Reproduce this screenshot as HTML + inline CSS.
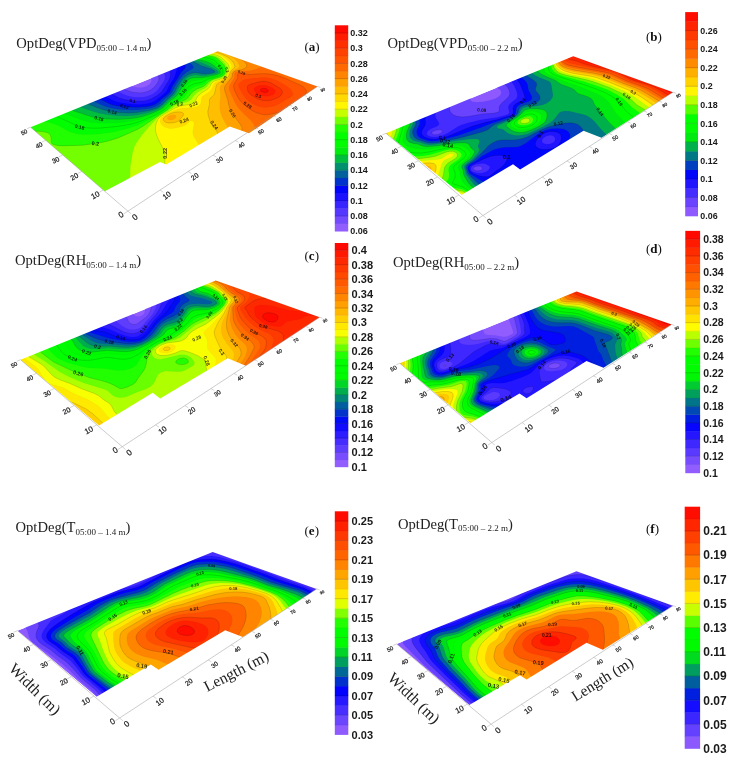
<!DOCTYPE html>
<html lang="en"><head><meta charset="utf-8"><title>OptDeg contour maps</title>
<style>
html,body{margin:0;padding:0;background:#fff}
svg{display:block}
text{font-family:"Liberation Sans","DejaVu Sans",sans-serif;fill:#111}
.ti{font-family:"Liberation Serif","DejaVu Serif",serif;font-size:14.6px;fill:#222}
.le{font-family:"Liberation Serif","DejaVu Serif",serif;font-size:13px;fill:#111}
.ax{font-family:"Liberation Serif","DejaVu Serif",serif;fill:#222}
.cbl{font-weight:bold;fill:#1a1a1a}
.tk{fill:#222;stroke:#222;stroke-width:.22}
.cl{font-weight:bold;fill:#000;fill-opacity:.8}
.k{stroke:#000;stroke-opacity:.4;stroke-width:.35;fill-rule:evenodd}
.j{stroke:#000;stroke-opacity:.1;stroke-width:.3;fill-rule:evenodd}
</style></head><body>
<svg width="738" height="767" viewBox="0 0 738 767">
<rect width="738" height="767" fill="#fff"/>
<g>
<polygon points="104.8,191.2 30.6,127.2 217.7,51.3 317.5,86.4 249.0,133.3 229.7,126.5 166.2,164.6 160.0,162.0" fill="#915dff"/>
<path d="M125.4 225.4l147.7-101 55.5-38 -111.6-38.5 -68.6 27.2 1.7 1.5 1.1 1.7 0.4 1.3 0 1.5 -0.8 1.7 -1 1.3 -2.3 1.7 -1.9 0.9 -4.5 1 -5-0.2 -4.4-1.3 -4.9-2.5 -109.7 43.5Z" fill="#744aff" class="j"/>
<path d="M125.4 225.4l147.7-101 55.5-38 -111.6-38.5 -61.2 24.3 1.7 2.1 1.3 2.9 0.2 1.8 -0.6 2.3 -1.8 3 -3.1 3.5 -3 2.3 -3 1.4 -3.7 1 -3.2 0.4 -6.5-0.4 -3.3-0.8 -3.8-1.3 -7.7-3.7 -102.2 40.5Z" fill="#5637ff" class="k"/>
<path d="M125.4 225.4l147.7-101 55.5-38 -111.6-38.5 -54.7 21.7 1.7 2.8 1 3.2 -0.1 3 -1.1 2.6 -2.1 3.4 -5.1 6.7 -3.1 2.3 -4 1.9 -3.7 1.2 -4.6 0.6 -5.3 0 -4.6-0.6 -3.8-0.9 -4.3-1.5 -10.3-5.1 -95.8 38Z" fill="#3824ff" class="j"/>
<path d="M125.4 225.4l147.7-101 55.5-38 -111.6-38.5 -48.3 19.2 1.2 2.2 0.6 5.4 -0.5 3.2 -1.4 2.9 -7 11.1 -4.4 3.6 -6.6 3.7 -5.1 1.5 -4.7 0.5 -5.7-0.1 -7.8-1 -4-0.8 -4.4-1.5 -12.1-6.2 -89.7 35.6Z" fill="#1b11ff" class="k"/>
<path d="M125.4 225.4l147.7-101 55.5-38 -111.6-38.5 -41.8 16.6 1.6 1.4 0.6 1.8 -2.4 8.1 -1.2 2.7 -4.9 7.8 -2.4 5.2 -3.2 3.1 -8 6.1 -4 2.1 -5.7 1.3 -6.1 0.4 -7.5-0.3 -9.6-1.1 -4.3-0.9 -4.3-1.4 -13.1-6.8 -83.6 33.2Z" fill="#0005fa" class="j"/>
<path d="M125.4 225.4l147.7-101 55.5-38 -111.6-38.5 -36.7 14.6 2.5 1 1.9 1.2 0.8 1.6 -0.6 1.7 -4.6 5.5 -2.9 4.9 -4.3 6.3 -1.2 2.1 -1.5 3.8 -0.8 1.4 -2.5 2.6 -5.4 4.2 -3.8 3.8 -2.3 1.4 -2.2 1 -6.1 1.6 -9.9 0.7 -7.9-0.2 -11.6-1.2 -4.3-0.8 -3.5-1.1 -15.5-7.6 -77.5 30.8Z" fill="#0033cb" class="k"/>
<path d="M125.4 225.4l147.7-101 55.5-38 -111.6-38.5 -32.9 13.1 4.4 1.5 2.8 1.5 1.9 2.1 0.4 1.1 -0.3 1 -1.1 0.9 -5.8 3.3 -3.5 3 -4.7 5.8 -3.7 6 -2 4.4 -1.5 2.1 -2 1.9 -4.5 3.7 -3.9 4.2 -2.6 1.8 -3.2 1.6 -5.5 1.5 -11.9 1.5 -8.2 0.2 -9.2-0.7 -7.6-1.1 -5.2-1.3 -5.4-2.1 -13.4-6 -71.3 28.3Z" fill="#00619c" class="j"/>
<path d="M125.4 225.4l147.7-101 55.5-38 -111.6-38.5 -29.8 11.9 6.3 2 8.1 4.2 9.6 3.1 3 1.7 0.6 0.6 0 0.7 -2.5 1 -6.8 0.9 -3.1-0.2 -6.2-1.1 -2.2 0 -3.4 0.7 -3.2 1.7 -3.3 2.3 -2.1 2.3 -5.1 7.7 -2.6 5.1 -2.2 2.7 -5.2 4.3 -4.5 4.9 -3.5 2.5 -3.3 1.6 -6.8 2 -12.4 2.1 -8.3 0.4 -8.7-0.4 -9.6-1.3 -5.5-1.3 -8.1-2.7 -14.6-5.7 -64.5 25.6Z" fill="#00906d" class="k"/>
<path d="M125.4 225.4l147.7-101 55.5-38 -111.6-38.5 -27.3 10.9 11.7 3.8 9.3 3.8 6.4 3.9 1 1.1 0.3 0.7 -0.1 0.6 -1.4 0.9 -2.2 0.5 -9.6 1.6 -3.6 0.1 -5.2-0.7 -2.3 0.1 -3.8 1.1 -3.3 1.6 -1.4 1 -1.3 1.4 -5.4 8 -2.8 5 -2.2 2.7 -5.4 4.3 -3.2 3.5 -3.8 3.3 -1.9 1.2 -4.6 2.1 -5 1.8 -4.8 1.3 -9.1 1.7 -9.1 0.8 -10.3-0.2 -10.3-1.2 -7.2-1.4 -9.8-3 -15.4-5.5 -56.8 22.5Z" fill="#00be3d" class="j"/>
<path d="M125.4 225.4l147.7-101 55.5-38 -111.6-38.5 -24.9 9.9 5.4 1.7 8.3 1.9 4.9 2.1 3.3 2.2 4.7 3.9 1 1.1 0.6 1.3 -0.1 0.8 -0.4 0.5 -1.5 0.8 -1.9 0.7 -10.8 2.3 -3.3 0.5 -8.7 0.1 -2.3 0.6 -2.7 1.1 -1.3 1 -5.3 6.8 -4.7 7.7 -1.8 1.9 -6.4 4.8 -6.3 6.3 -4.1 2.3 -6.9 3.1 -9.6 3.1 -6.1 1.3 -5.3 0.8 -11 0.8 -12.4-0.3 -8.9-0.9 -7.3-1.5 -17.8-5.9 -7.4-2.9 -48.9 19.4Z" fill="#00ec0e" class="k"/>
<path d="M125.4 225.4l147.7-101 55.5-38 -111.6-38.5 -22.5 9 4.7 1.2 8.7 1.7 2.7 1 1.4 0.7 4.1 3.2 4.5 4.8 0.7 1.2 0.4 1.4 -0.2 0.9 -0.6 0.8 -3.2 1.5 -15.5 4.2 -7.6 1 -2.3 0.6 -1.7 0.8 -2.6 2.1 -3.5 3.5 -2.9 3.9 -2 3.7 -1.7 2 -7.6 5.1 -6.4 6.3 -8.2 4.7 -3.4 1.6 -13.1 4.6 -10 2.2 -7.5 0.8 -7.6 0.5 -15.7 0.1 -7.3-0.7 -7.3-1.6 -25.7-9.8 -41 16.3Z" fill="#00fc00" class="j"/>
<path d="M125.4 225.4l147.7-101 55.5-38 -111.6-38.5 -20.1 8 12.6 2.6 4.3 1.6 5.3 4.8 3 3.9 0.7 2 0.1 1.6 -0.3 0.9 -0.7 0.9 -3 1.6 -11.3 3.3 -6.5 3.4 -6.6 1.1 -2.9 1.2 -3 2 -1.9 1.7 -3.1 3.9 -1.4 3 -1.7 2 -2.4 1.7 -7.4 4.4 -5.7 5.6 -10.1 6 -14.9 6.4 -8.9 2.6 -13.3 2.3 -16.9 1.6 -7.2 0.2 -6.2-0.3 -5.3-0.6 -4.3-1.1 -18.9-8.8 -4.8-1.5 -5.5-1.2 -31.6 12.5Z" fill="#00fe00" class="k"/>
<path d="M125.4 225.4l147.7-101 55.5-38 -111.6-38.5 -17.8 7.1 12.5 2.6 2.6 0.9 1.9 1.2 4.6 4.4 2.5 3.4 0.7 2 0.2 2.3 -0.5 1.7 -0.8 1.1 -1.3 0.9 -2.4 1.1 -7.3 2.1 -2.8 1.1 -2.2 1.3 -2.3 2.1 -2.5 1.3 -6.8 2 -2.8 1.2 -2.3 1.5 -1.8 1.9 -1.5 1.9 -2.2 3.6 -2 1.9 -10.8 5.6 -1.6 1.2 -2.6 3 -1.7 1.3 -8.8 5.6 -15.9 8.4 -3.9 1.7 -10.4 3.3 -13.8 3.3 -12.7 1.9 -11.5 0.8 -8.6-0.3 -6.6-1.2 -5-1.9 -8.9-5 -6.6-2.8 -6.8-1.8 -8.4-1.1 -3.3-0.3 -17.7 7Z" fill="#21ff00" class="j"/>
<path d="M125.4 225.4l147.7-101 55.5-38 -111.6-38.5 -15.5 6.2 13.1 3 2.7 1.5 4.2 3.8 2.8 3.1 1 2.6 0.2 2.3 -0.2 1.7 -0.6 1.8 -0.8 1.1 -1.2 0.9 -2.3 1.2 -7.2 2.1 -2.7 1.2 -1.4 0.9 -3.3 3.3 -1.9 1.5 -1.7 0.9 -5.1 1.9 -3.3 2 -3.1 3 -3 4.1 -1.4 1.3 -3 1.4 -6.9 2.6 -3.1 1.5 -1.7 1.2 -3.6 3.6 -12.8 8.1 -13.1 9.1 -4.8 2.7 -13.5 6 -5.8 2.4 -6.4 2.1 -5.1 1.4 -7.5 1.5 -15.9 2.3 -20.8 0.7 -6.1-0.6 -2.9-0.9 -1-0.6 -0.7-0.8 -0.2-0.9 -0.4-5.1 -0.6-1.8 -1.1-1.5 -2.1-1.1 -4.5-1 -5.2-0.4 -15.9 0.1Z" fill="#73ff00" class="k"/>
<path d="M125.4 225.4l147.7-101 55.5-38 -111.6-38.5 -13.3 5.3 9.9 2.3 3.5 1.2 2.5 1.6 4.2 3.8 2.3 2.6 1 2.6 -0.1 2.4 -1.1 4 -1 1.7 -2.5 1.8 -2.6 1.1 -6.3 1.8 -2.3 1.3 -5 5.8 -1.4 1 -5.4 2.7 -4.1 3.3 -1.8 1.9 -2.5 3.5 -1.5 1.2 -2 1 -9 2.5 -3.4 1.4 -6 4.5 -6 3.5 -5.7 4 -6.6 6.8 -8.6 10.2 -4.9 6.7 -2.7 4.7 -2 6.3 -2.3 14.1 -0.2 9.3 -0.9 3.5 -6 15.4 -9.6 20.1Z" fill="#c6ff00" class="j"/>
<path d="M166.3 197.4l155.3-106.2 7-4.8 -111.6-38.5 -11 4.4 9.4 2.5 4.1 1.5 2.5 1.7 5.2 4.8 1.5 2.2 0.6 2.1 -0.3 1.7 -2.6 6.5 -1.5 1.5 -2.1 1.3 -2.6 1.1 -5.2 1.6 -2.2 1.3 -1.5 1.6 -1.7 3.3 -1.6 1.8 -6.3 4 -3.4 2.9 -1.1 1.4 -2.3 4.4 -1.2 1.4 -0.9 0.5 -2.5 0.8 -10.5 1.9 -4.6 1.8 -10.1 5.8 -5.7 3.9 -1.8 2.3 -1.6 4.2 -0.5 2.5 -0.1 2.4 0.2 2.3 0.8 3.2 2.1 5.2 4.8 9.5 1.4 4.9 0.1 7.1 -0.4 11.9Z" fill="#fff600" class="k"/>
<path d="M198.4 175.5l123.2-84.3 7-4.8 -111.6-38.5 -8.8 3.5 9.9 2.9 4 1.6 3 2.1 4.7 4.3 1.5 2.3 0.4 2.2 -0.6 1.8 -1.9 3 -1.7 4.1 -1.3 1.6 -2 1.3 -8.1 3.4 -2 1.4 -0.7 1.1 -1.2 3.6 -1.8 2.6 -1.9 1.7 -6.3 4.2 -0.7 1.5 -0.3 3.6 -0.5 1.7 -0.9 1.5 -1.5 1.2 -2.1 1 -2.8 0.7 -11.3 0.5 -3.1 0.6 -3.8 1.2 -6.9 3 -5.9 3.8 -1.6 1.5 -0.5 1.3 -0.2 1.2 0.9 2.9 2.1 2.4 3.6 1.6 2.7 0.6 2.5 0.1 5.5-0.7 5.9-1.7 2.4-1.1 1.9-1.4 2.2-2.4 1.2-0.5 1.6 0.4 0.9 0.7 0.6 2.1 -1.3 7.5 0.3 3.3 1.1 2.6 4.3 6.8 0.9 2.5 0.2 1.4 -0.2 3.4 -1.3 6.7 -0.5 4.4 0 6.3Z" fill="#ffda00" class="j"/>
<path d="M221.2 159.9l0.1-0.1 107.3-73.4 -111.6-38.5 -6.5 2.6 11.2 3.6 5.1 2.5 3 2.2 2.6 2.4 1.5 2.2 1 2.6 -0.1 0.8 -0.5 1.1 -2.8 2.6 -1.2 1.5 -1.2 3.6 -1.6 2.2 -2.4 1.9 -6.4 3.3 -1.9 1.5 -0.6 1.4 -1.8 8.3 -1 1.3 -3.4 2.9 -0.6 1.5 0 4.7 -1.6 7 0.3 3.4 2.6 8.3 1.9 2.7 3.8 4.5 0.9 1.8 1.1 11.9ZM174.3 122.6l3.1-1 2-1.3 3.8-4.8 0.5-1.2 -0.3-0.9 -0.7-0.7 -2.8-0.8 -4.8 0.3 -2.9 0.7 -2.5 1 -3.1 1.8 -2.7 2.1 -0.5 0.9 0.1 1.6 0.6 0.8 1.9 1.3 3.2 0.6Z" fill="#ffbe00" class="k"/>
<path d="M235.1 150.4l86.5-59.2 7-4.8 -111.6-38.5 -4 1.6 12.5 4.3 5.8 2.9 3.1 2.1 2.3 2 1.5 2.2 1.1 2.5 -0.1 1.6 -0.8 1 -4.9 2.5 -1.6 1.4 -0.8 1.4 -0.7 2.8 -0.9 1.7 -2 2.1 -6.2 4.9 -0.9 1.2 -0.4 2.2 0.7 7.8 -0.8 6.8 -0.1 3.3 0.6 5.4 0.9 3.1 1.7 4 5.6 9.8 1 2.3 2.5 11.8ZM170.7 119.9l2.7-0.5 2-1.3 0.5-0.9 0.1-1.1 -0.7-0.8 -1.3-0.4 -2.1 0.2 -2.6 0.9 -1.2 0.8 -0.9 1.6 0.6 0.8 1.1 0.5Z" fill="#ffa200" class="j"/>
<path d="M245.4 143.3l76.2-52.1 7-4.8 -111.6-38.5 -1.3 0.5 13.2 4.7 6.8 3.1 4.4 2.4 3.3 2.3 2.1 1.9 1.1 1.7 0.2 1.1 -0.3 1.1 -1.9 1.8 -3.2 1.3 -5.5 1.1 -1.6 0.7 -1.2 0.9 -0.5 1 -0.3 2.7 -0.7 1.8 -6 7.2 -0.7 1.2 -0.4 1.9 0.4 2.9 3 9 1 5.5 1.4 3.9 2.5 4.6 7.4 10 1.7 3.1 0.1 1.3 -0.7 4.2 0.2 2.4 1.2 3.6Z" fill="#ff8500" class="k"/>
<path d="M255.9 136.1l65.7-44.9 7-4.8 -75.1-25.9 3.9 2 2.7 2 0.7 1.4 0 0.6 -0.7 0.9 -2.7 1.4 -5.8 1.6 -4.9 0.7 -8.5 0.6 -3 0.9 -0.7 1.1 0 2.7 -0.4 1.9 -3.3 4.9 -1.4 2.8 -0.4 1.8 0.5 2.7 3.3 7.5 2.6 5.2 2.1 3.5 4 4.8 9.2 8.8 2.9 3.8 0.9 1.9 0.4 2.4 -0.5 4.1 0.1 1.2 0.6 1.4Z" fill="#ff6900" class="j"/>
<path d="M297.4 102.3l3.5-1.5 2.3-2.1 1.5-3.9 1.6-2.3 0.1-1.3 -0.7-2 -2.2-2.2 -3.9-2.2 -15.5-6.9 -6.5-2.3 -5-1.1 -5.7-0.7 -5-0.1 -12 0.8 -7.4-1.1 -3.5 0 -0.9 0.3 -0.4 0.5 -0.1 4.1 -3.8 6.2 -0.2 2.9 1.1 3.4 3.7 7.4 3 3.9 3.7 3.7 5.7 4 4.4 2.4 5.4 1.9 4.1 0.7 3.6-0.2 12.6-2.8 3.2-1.3 1.7-1.1 2.8-3.9 1.1-0.8 2.5-1Z" fill="#ff5500" class="k"/>
<path d="M277.6 104.6l12.5-7.2 1.9-1.5 0.8-1.2 0-1.5 -0.5-1.5 -1.7-2.5 -4-3.3 -5.4-3.2 -5.9-2.8 -4.5-1.5 -4-0.8 -4.8-0.2 -16.4 1.9 -3.4 1.5 -3.4 3 -0.4 1.3 0.7 2.4 2.7 5.2 2.8 4.3 3.3 3.7 5.8 3.6 6.1 2.5 4.8 0.6 6.5-0.7 3.8-1Z" fill="#ff4200" class="j"/>
<path d="M274.2 99.2l4.2-1.8 2.1-1.5 1.7-2.3 0.1-2.2 -1-1.9 -1.8-1.6 -8.2-4.8 -3.3-1.2 -2.6-0.6 -3.8 0 -3.5 0.8 -8.4 2.4 -1.5 0.9 -0.8 1.1 0.3 4 1.6 2.8 2.3 1.9 5.8 3.5 3.6 1.3 4.7 0.8 4.4-0.4Z" fill="#ff2f00" class="k"/>
<path d="M270.1 95.8l2.3-0.8 1.5-0.9 1-1.1 0.4-1.4 -0.3-1 -1.1-1.5 -3.6-2.3 -2.2-0.9 -2.6-0.6 -3.5-0.1 -2.6 0.4 -2.8 0.9 -1.5 0.9 -0.9 1.1 -0.2 1.4 0.8 1.9 1.9 1.6 2 1.1 2.3 0.9 2.8 0.6 3.7 0.2Z" fill="#ff1c00" class="j"/>
<path d="M266.2 92.4l1.7-0.7 0.4-0.6 -0.2-0.9 -1.5-1.3 -1.2-0.4 -2.2-0.1 -1.3 0.2 -1.3 0.9 -0.2 0.8 0.5 0.8 0.8 0.6 2.5 0.7Z" fill="#ff0900" class="k"/>
<path fill="#fff" fill-rule="evenodd" d="M15.1 45.9H330.6V227.4H15.1ZM104.8 191.2L30.6 127.2L217.7 51.3L317.5 86.4L249.0 133.3L229.7 126.5L166.2 164.6L160.0 162.0 Z"/>
<text transform="translate(132.5 100.8) rotate(10)" y="1.6" font-size="4.5" text-anchor="middle" class="cl">0.1</text>
<text transform="translate(124.4 106.3) rotate(15)" y="1.7" font-size="4.6" text-anchor="middle" class="cl">0.12</text>
<text transform="translate(112.2 111.8) rotate(15)" y="1.7" font-size="4.7" text-anchor="middle" class="cl">0.14</text>
<text transform="translate(99.0 118.5) rotate(15)" y="1.7" font-size="4.9" text-anchor="middle" class="cl">0.16</text>
<text transform="translate(79.7 127.0) rotate(15)" y="1.8" font-size="5.0" text-anchor="middle" class="cl">0.18</text>
<text transform="translate(95.3 143.5) rotate(5)" y="1.9" font-size="5.4" text-anchor="middle" class="cl">0.2</text>
<text transform="translate(184.1 83.2) rotate(-50)" y="1.5" font-size="4.1" text-anchor="middle" class="cl">0.16</text>
<text transform="translate(182.9 92.3) rotate(-45)" y="1.5" font-size="4.3" text-anchor="middle" class="cl">0.18</text>
<text transform="translate(174.4 102.7) rotate(-25)" y="1.6" font-size="4.5" text-anchor="middle" class="cl">0.18</text>
<text transform="translate(179.9 104.1) rotate(-15)" y="1.6" font-size="4.5" text-anchor="middle" class="cl">0.2</text>
<text transform="translate(193.5 104.3) rotate(-25)" y="1.6" font-size="4.6" text-anchor="middle" class="cl">0.22</text>
<text transform="translate(184.0 120.5) rotate(-20)" y="1.8" font-size="4.9" text-anchor="middle" class="cl">0.24</text>
<text transform="translate(165.0 153.3) rotate(-90)" y="2.0" font-size="5.6" text-anchor="middle" class="cl">0.22</text>
<text transform="translate(214.2 125.0) rotate(55)" y="1.8" font-size="5.0" text-anchor="middle" class="cl">0.24</text>
<text transform="translate(232.5 113.3) rotate(60)" y="1.7" font-size="4.7" text-anchor="middle" class="cl">0.26</text>
<text transform="translate(247.5 105.0) rotate(35)" y="1.6" font-size="4.6" text-anchor="middle" class="cl">0.28</text>
<text transform="translate(258.3 95.8) rotate(20)" y="1.6" font-size="4.4" text-anchor="middle" class="cl">0.3</text>
<text transform="translate(220.2 67.0) rotate(55)" y="1.4" font-size="3.8" text-anchor="middle" class="cl">0.2</text>
<text transform="translate(227.0 70.0) rotate(75)" y="1.4" font-size="3.8" text-anchor="middle" class="cl">0.2</text>
<text transform="translate(224.0 79.4) rotate(-60)" y="1.4" font-size="4.0" text-anchor="middle" class="cl">0.26</text>
<text transform="translate(241.5 72.5) rotate(25)" y="1.4" font-size="3.9" text-anchor="middle" class="cl">0.28</text>
</g>
<path d="M30.6 127.2L127.9 211.2L317.5 86.4" fill="none" stroke="#999" stroke-width="0.5"/>
<path d="M127.9 211.2L131.1 213.9" stroke="#aaa" stroke-width="0.5"/>
<text transform="translate(134.7 217.0) rotate(-38)" y="3.0" font-size="8.3" text-anchor="middle" class="tk">0</text>
<path d="M160.0 190.0L163.3 192.4" stroke="#aaa" stroke-width="0.5"/>
<text transform="translate(166.6 195.4) rotate(-37)" y="2.7" font-size="7.5" text-anchor="middle" class="tk">10</text>
<path d="M188.2 171.5L191.5 173.6" stroke="#aaa" stroke-width="0.5"/>
<text transform="translate(194.7 176.5) rotate(-36)" y="2.5" font-size="6.8" text-anchor="middle" class="tk">20</text>
<path d="M213.1 155.1L216.4 157.0" stroke="#aaa" stroke-width="0.5"/>
<text transform="translate(219.4 159.8) rotate(-35)" y="2.2" font-size="6.2" text-anchor="middle" class="tk">30</text>
<path d="M235.3 140.5L238.5 142.2" stroke="#aaa" stroke-width="0.5"/>
<text transform="translate(241.4 144.9) rotate(-34)" y="2.1" font-size="5.7" text-anchor="middle" class="tk">40</text>
<path d="M255.2 127.4L258.3 128.9" stroke="#aaa" stroke-width="0.5"/>
<text transform="translate(261.1 131.6) rotate(-32)" y="1.9" font-size="5.3" text-anchor="middle" class="tk">50</text>
<path d="M273.1 115.6L276.2 117.0" stroke="#aaa" stroke-width="0.5"/>
<text transform="translate(278.8 119.6) rotate(-31)" y="1.8" font-size="4.9" text-anchor="middle" class="tk">60</text>
<path d="M289.3 105.0L292.3 106.2" stroke="#aaa" stroke-width="0.5"/>
<text transform="translate(294.9 108.7) rotate(-30)" y="1.6" font-size="4.6" text-anchor="middle" class="tk">70</text>
<path d="M304.0 95.3L307.0 96.4" stroke="#aaa" stroke-width="0.5"/>
<text transform="translate(309.5 98.8) rotate(-29)" y="1.5" font-size="4.3" text-anchor="middle" class="tk">80</text>
<path d="M317.5 86.4L320.4 87.4" stroke="#aaa" stroke-width="0.5"/>
<text transform="translate(322.8 89.8) rotate(-28)" y="1.4" font-size="4.0" text-anchor="middle" class="tk">90</text>
<path d="M127.9 211.2L123.7 213.9" stroke="#aaa" stroke-width="0.5"/>
<text transform="translate(120.8 214.6) rotate(-28)" y="3.0" font-size="8.3" text-anchor="middle" class="tk">0</text>
<path d="M103.3 190.0L99.2 192.4" stroke="#aaa" stroke-width="0.5"/>
<text transform="translate(95.3 195.1) rotate(-28)" y="2.8" font-size="7.7" text-anchor="middle" class="tk">10</text>
<path d="M81.8 171.4L77.8 173.5" stroke="#aaa" stroke-width="0.5"/>
<text transform="translate(74.2 176.5) rotate(-28)" y="2.6" font-size="7.1" text-anchor="middle" class="tk">20</text>
<path d="M62.7 155.0L58.9 156.8" stroke="#aaa" stroke-width="0.5"/>
<text transform="translate(55.6 160.0) rotate(-28)" y="2.4" font-size="6.6" text-anchor="middle" class="tk">30</text>
<path d="M45.8 140.3L42.0 142.0" stroke="#aaa" stroke-width="0.5"/>
<text transform="translate(39.0 145.3) rotate(-28)" y="2.2" font-size="6.2" text-anchor="middle" class="tk">40</text>
<path d="M30.6 127.2L26.9 128.7" stroke="#aaa" stroke-width="0.5"/>
<text transform="translate(24.1 132.1) rotate(-28)" y="2.1" font-size="5.8" text-anchor="middle" class="tk">50</text>
<rect x="334.8" y="223.57" width="13.4" height="7.93" fill="#915dff"/>
<rect x="334.8" y="215.95" width="13.4" height="7.93" fill="#744aff"/>
<rect x="334.8" y="208.32" width="13.4" height="7.93" fill="#5637ff"/>
<rect x="334.8" y="200.70" width="13.4" height="7.93" fill="#3824ff"/>
<rect x="334.8" y="193.07" width="13.4" height="7.93" fill="#1b11ff"/>
<rect x="334.8" y="185.44" width="13.4" height="7.93" fill="#0005fa"/>
<rect x="334.8" y="177.82" width="13.4" height="7.93" fill="#0033cb"/>
<rect x="334.8" y="170.19" width="13.4" height="7.93" fill="#00619c"/>
<rect x="334.8" y="162.57" width="13.4" height="7.93" fill="#00906d"/>
<rect x="334.8" y="154.94" width="13.4" height="7.93" fill="#00be3d"/>
<rect x="334.8" y="147.31" width="13.4" height="7.93" fill="#00ec0e"/>
<rect x="334.8" y="139.69" width="13.4" height="7.93" fill="#00fc00"/>
<rect x="334.8" y="132.06" width="13.4" height="7.93" fill="#00fe00"/>
<rect x="334.8" y="124.44" width="13.4" height="7.93" fill="#21ff00"/>
<rect x="334.8" y="116.81" width="13.4" height="7.93" fill="#73ff00"/>
<rect x="334.8" y="109.19" width="13.4" height="7.93" fill="#c6ff00"/>
<rect x="334.8" y="101.56" width="13.4" height="7.93" fill="#fff600"/>
<rect x="334.8" y="93.93" width="13.4" height="7.93" fill="#ffda00"/>
<rect x="334.8" y="86.31" width="13.4" height="7.93" fill="#ffbe00"/>
<rect x="334.8" y="78.68" width="13.4" height="7.93" fill="#ffa200"/>
<rect x="334.8" y="71.06" width="13.4" height="7.93" fill="#ff8500"/>
<rect x="334.8" y="63.43" width="13.4" height="7.93" fill="#ff6900"/>
<rect x="334.8" y="55.80" width="13.4" height="7.93" fill="#ff5500"/>
<rect x="334.8" y="48.18" width="13.4" height="7.93" fill="#ff4200"/>
<rect x="334.8" y="40.55" width="13.4" height="7.93" fill="#ff2f00"/>
<rect x="334.8" y="32.93" width="13.4" height="7.93" fill="#ff1c00"/>
<rect x="334.8" y="25.30" width="13.4" height="7.93" fill="#ff0900"/>
<path d="M334.8 215.95H348.2M334.8 200.70H348.2M334.8 185.44H348.2M334.8 170.19H348.2M334.8 154.94H348.2M334.8 139.69H348.2M334.8 124.44H348.2M334.8 109.19H348.2M334.8 93.93H348.2M334.8 78.68H348.2M334.8 63.43H348.2M334.8 48.18H348.2M334.8 32.93H348.2" stroke="#000" stroke-opacity="0.4" stroke-width="0.4"/>
<path d="M334.8 223.57H348.2M334.8 208.32H348.2M334.8 193.07H348.2M334.8 177.82H348.2M334.8 162.57H348.2M334.8 147.31H348.2M334.8 132.06H348.2M334.8 116.81H348.2M334.8 101.56H348.2M334.8 86.31H348.2M334.8 71.06H348.2M334.8 55.80H348.2M334.8 40.55H348.2" stroke="#000" stroke-opacity="0.12" stroke-width="0.4"/>
<text x="350.3" y="234.4" font-size="9.0" class="cbl">0.06</text>
<text x="350.3" y="219.2" font-size="9.0" class="cbl">0.08</text>
<text x="350.3" y="203.9" font-size="9.0" class="cbl">0.1</text>
<text x="350.3" y="188.7" font-size="9.0" class="cbl">0.12</text>
<text x="350.3" y="173.4" font-size="9.0" class="cbl">0.14</text>
<text x="350.3" y="158.2" font-size="9.0" class="cbl">0.16</text>
<text x="350.3" y="142.9" font-size="9.0" class="cbl">0.18</text>
<text x="350.3" y="127.7" font-size="9.0" class="cbl">0.2</text>
<text x="350.3" y="112.4" font-size="9.0" class="cbl">0.22</text>
<text x="350.3" y="97.2" font-size="9.0" class="cbl">0.24</text>
<text x="350.3" y="81.9" font-size="9.0" class="cbl">0.26</text>
<text x="350.3" y="66.7" font-size="9.0" class="cbl">0.28</text>
<text x="350.3" y="51.4" font-size="9.0" class="cbl">0.3</text>
<text x="350.3" y="36.2" font-size="9.0" class="cbl">0.32</text>
<text x="16.3" y="48.3" class="ti">OptDeg(VPD<tspan dy="2.7" font-size="9">05:00 – 1.4 m</tspan><tspan dy="-2.7">)</tspan></text>
<text x="304.5" y="50.5" class="le">(<tspan font-weight="bold">a</tspan>)</text>
<g>
<polygon points="461.8,194.7 386.0,133.3 573.2,56.3 673.0,92.2 601.5,137.8 583.5,130.8 520.1,169.4 513.0,164.3" fill="#8e5aff"/>
<path d="M480.6 229.1l131.7-88.6 71.9-48.3 -111.6-39.4 -82.1 33.1 3.7 0.7 2.8 1 2.8 1.9 1.3 1.8 0.3 1.5 -0.2 0.8 -1 1.8 -2.3 1.8 -2.8 1.6 -4.8 1.5 -7.2 1.4 -5.8 0.5 -4.8-0.5 -1.7-0.9 -0.4-0.6 0-1.3 0.5-1.3 3.6-5.3 -101.9 41Z" fill="#6943ff" class="j"/>
<path d="M480.6 229.1l131.7-88.6 71.9-48.3 -111.6-39.4 -71.8 28.9 3.5 2.2 3.2 3.2 1.7 3.1 0.6 3.4 -0.3 1.7 -1.4 2.2 -6.5 5.8 -1.6 1.9 -0.8 2.1 0.1 3.4 -0.5 0.9 -0.9 0.7 -4.3 1 -11.3 0.6 -14.2 2.7 -5.7 0.3 -4.2-0.4 -2.6-0.7 -2.1-0.9 -1.5-1.1 -1.6-1.9 -0.6-1.5 -0.3-2.4 0-3.3 0.4-2.5 -77.3 31.1ZM480.8 170.3l-1.9 0.5 -2.5 0 -2.5-1 -0.7-1.3 0.9-1.2 1.5-0.8 2.9-0.5 1.9 0.3 1.3 0.7 0.7 1 -0.3 1.4ZM436.9 134.7l-2.7 0 -1.4-0.3 -0.8-0.7 -0.2-1.1 0.9-1 2.6-1.3 3.6-0.6 1.9 0.1 1.2 0.5 0.5 0.7 -0.3 1.1 -0.9 0.9 -1.2 0.7Z" fill="#452cff" class="k"/>
<path d="M480.6 229.1l131.7-88.6 71.9-48.3 -111.6-39.4 -64.8 26.1 3.5 2.8 2.6 3.4 2.4 5.3 0.9 3.1 0.2 2 -0.3 1.7 -0.9 1.5 -5.3 4.3 -1.9 2.1 -0.6 1.7 -0.1 1.1 1 3.9 0 1.1 -0.5 0.9 -2.1 1.1 -10 2.5 -16.6 2.6 -12.3 2.9 -5.8 1.8 -4 1.7 -10.1 6.6 -5.3 2.6 -3.3 0.8 -3.8 0.6 -2.1 0 -2.8-0.3 -1.7-0.6 -1.7-1.2 -0.5-1.2 0.4-1.8 1.6-1.6 2.3-1.5 5.6-2.2 1.1-0.8 0.9-0.8 0.5-1.2 -0.4-1.6 -2.8-4.2 -0.7-2.4 0.3-2.6 1.8-5.7 -64.7 26ZM485.7 172.1l-3.7 1 -2.5 0.1 -3.3-0.4 -3.1-1.1 -1.1-0.8 -0.8-1 -0.4-1.3 0.6-1.5 1.1-1 3-1.5 5-1.1 2.7-0.1 1.9 0.3 2.7 1.2 2 1.7 -0.1 1.6 -1.4 2ZM549.7 144.1l-3.5 0.1 -1.7-0.4 -1.2-0.6 -0.9-0.9 -0.4-1 0.1-1.4 1.3-2 3.2-2 3.3-0.7 2.2 0.3 1.3 0.6 1.5 1.7 0.3 1.1 -0.2 1.5 -0.6 1.1 -1.8 1.6Z" fill="#2115ff" class="j"/>
<path d="M480.6 229.1l131.7-88.6 71.9-48.3 -111.6-39.4 -59.3 23.9 3.6 2.8 3 3.9 4.5 11.7 0.4 2.2 -0.6 1.6 -1.2 1.3 -6 2.9 -1.7 1.2 -1.4 1.3 -1 2.6 0.3 3.9 -0.2 1.7 -0.5 0.8 -2.2 1.1 -12.8 3.9 -11.6 2.7 -13.1 3.8 -7 2.6 -13.5 5.8 -8.9 3.3 -7.2 1.2 -4.6 0.1 -3.4-0.6 -3.6-1.5 -2.4-1.9 -0.7-1.9 0.1-1.6 0.5-1.3 2.4-3.9 0.8-1.7 0.2-2.4 -0.3-3.4 0.2-1.7 2.3-6.1 -55.1 22.2ZM489 176.4l-2 0.4 -4.4-0.2 -5.5-1.3 -3.1-1.2 -2.5-1.5 -1.7-1.9 -0.5-1.4 0-1.9 0.8-1.3 1.1-1 2.9-1.6 10.8-5.1 6.1-2.1 4-0.8 5.4-0.2 3.7 0.6 1.4 0.6 1 0.8 0.5 1.1 -0.3 1.9 -1.2 2.5 -1.7 2.3 -3.3 2.9 -5.2 3.6 -4.7 4ZM555.4 147.3l-2.8 1.1 -3.5 0.7 -4.7 0.3 -4-0.4 -2.8-1.2 -1.8-1.6 -0.6-2.4 0.3-1.5 1.5-2.9 1.4-1.8 2.6-2.3 3.2-2 2.5-1.1 3.1-0.7 2.8-0.1 3.5 0.5 2.6 1.1 1.8 1.6 0.5 1 0.3 2.4 -0.5 3.1 -1 2.1 -2.3 2.6Z" fill="#0006f9" class="k"/>
<path d="M480.6 229.1l131.7-88.6 71.9-48.3 -111.6-39.4 -54.5 21.9 6.4 5.3 2.3 2.7 0.8 2 0.9 5.3 3.1 6 0.4 2 -0.2 0.8 -0.8 1.2 -1.9 1.3 -8.2 2.8 -2.8 1.6 -1.7 2.3 -0.8 4.9 -0.4 1.3 -1.3 1.2 -2.1 1.1 -20.1 6.7 -10.5 4.2 -22.9 8.1 -14.7 4.1 -7.3 1.3 -4.8 0.3 -2.1-0.3 -3.4-0.9 -5.6-2.1 -1.8-1.2 -1.1-1.5 -0.8-2.3 -0.1-1.7 0.4-1.6 1.9-3.6 0.7-2.1 -0.1-4.9 1.4-5.2 -48.3 19.5ZM550.8 157.2l-9.4 3.2 -2.9 1.2 -3.7 2.4 -6.6 5.6 -4 2.4 -5 1.8 -10.9 3.3 -9.8 4.3 -5 1.2 -3.7 0.3 -3-0.3 -2.8-0.7 -3.1-1.3 -8.8-5.5 -2.1-1.7 -1.4-2 -0.9-3.3 0.3-1.7 2.1-2.1 6.8-4.1 4.5-3.8 9.2-5.2 4.4-1.9 5-1.4 5.5-0.6 11.8-0.3 3.3-0.9 4.7-2.7 13.1-9.6 3.3-1.9 3.7-1.6 6-1.5 6.6-0.4 5.3 0.7 3.8 1.6 1.7 1.5 0.7 1 0.5 1.1 0.2 2.2 -0.9 3.1 -3.9 8 -2.2 2.8 -3 2.4 -3.7 2Z" fill="#003ebf" class="j"/>
<path d="M480.6 229.1l131.7-88.6 71.9-48.3 -111.6-39.4 -49.3 19.8 2.2 2.6 7.7 4.8 1.9 1.5 1.1 1.2 0.5 2 -1.2 3.7 -0.1 1.4 0.5 1.1 2.5 3 1.3 2 0.4 2.3 -0.5 1.6 -1.9 2 -2.8 1.4 -2.5 0.8 -7.6 1.1 -3.5 1.3 -2 2 -1.6 4.5 -0.7 1.4 -2 1.8 -8 3.6 -11.6 4.4 -3.2 2 -3.6 3.1 -2.3 1.3 -4.4 1.4 -22.3 6.1 -21.5 4.4 -6.1 0.7 -4-0.4 -10.8-3.4 -1.9-1.2 -1.8-2.2 -0.8-2.6 -0.1-1.8 0.6-2.1 2.1-3.7 0.5-1.7 0-4.7 0.4-3.5 -43.6 17.5ZM551.3 171.2l-7.2 3.6 -6.3 2.7 -6.9 2.5 -6.8 1.9 -10.9 2.4 -10.8 1.9 -7.2 0.7 -5.4 0 -7.1-1.1 -3.2-1.2 -1.3-0.9 -9.7-9.4 -1.3-2.2 -1.1-4.9 0.6-1.7 1-1.1 5.3-3.5 2.3-1.9 7.8-7.4 4.8-5.4 4.5-3.2 3.9-1.9 5.1-1.1 13.2-0.1 4.1-0.5 3.4-0.7 5.7-2 11.7-6 7.4-3.1 6.8-2.2 8.7-1.9 3.7-0.5 4-0.2 3.6 0.4 4 1.4 2 1.3 1.7 1.6 5.3 7.5 1 2.3 0.1 1.2 -0.3 1.7 -0.7 1.4 -1.8 2.7 -7.5 8.7 -5.3 5.2 -7.8 5.6Z" fill="#007785" class="k"/>
<path d="M480.6 229.1l69.9-47 -9.5 2.8 -10.2 2.3 -11 1.8 -12 1.2 -7.8 0.3 -8.6-0.3 -8.5-1.3 -5.3-1.7 -1.3-0.7 -3.1-3 -6.4-8.3 -1.2-2.2 -0.4-2.6 -0.8-2.3 -0.2-1.3 0.3-1.1 0.9-1.2 7.4-5.5 5.1-6 1-1.7 0.3-1.4 -0.2-1.1 -0.9-2 -0.1-1 1.2-3.1 0.2-1.3 -0.3-1 -0.7-0.8 -1.3-0.5 -1.8-0.2 -7.7 0.4 -14.6 2 -14.9 2.7 -7.3 0.7 -2.3 0 -3.4-0.6 -5.2-1.9 -5.9-1.5 -2-1.1 -1.4-1.4 -0.8-1.7 -0.3-1.8 0.2-3.9 3.2-6.8 0.1-1.8 -0.5-5 -39.9 16.1ZM609.8 142.3l74.4-50.1 -111.6-39.4 -42.8 17.2 2.4 3.2 2.3 1.8 5.5 2.8 8.3 3.3 1.6 0.9 0.6 0.7 0.9 2.8 1.5 9.6 -0.6 2.6 -1.9 2.7 -3.7 2.9 -4.4 1.6 -5.9 1.1 -8.5 0.7 -4 1 -2.4 1.9 -2.3 4.2 -2.2 2.2 -3 1.8 -7.8 3.9 -7.3 3.2 -1.2 0.8 -0.7 1.4 0.5 0.8 1 0.6 3.4 0.5 1.3 0.5 4.2 3.5 3.7 1.6 3.1 0.6 4 0.3 5.8-0.7 3.4-0.9 5.1-2.2 10.6-5 6.3-3.5 4.2-3.3 5.3-6.8 1.6-1.2 3.8-0.8 5.2 0.2 14.9 3.5 3.5 1.5 3.9 2.6 2.5 2.3 6.5 7.8 7 7 1.7 3.1Z" fill="#00b04b" class="j"/>
<path d="M480.6 229.1l54.4-36.5 -8.9 0.9 -10.2 0.6 -8.1 0.2 -8.8-0.4 -6.3-0.6 -6.9-1.1 -5.9-1.5 -5-1.9 -1.3-0.8 -3.2-2.8 -2.6-3.2 -3.8-6.7 -0.4-1.2 -0.5-3.7 -1.3-2.9 0.2-1.8 0.8-1.2 2.4-2 5.1-3.6 2.4-3.1 2-3.6 -0.2-1.2 -0.6-0.8 -2.8-2.2 -2.2-3.7 -2.3-1.1 -1.6-0.4 -4.3-0.1 -8.6 0.7 -16 2.6 -9.2 0.5 -3.8-0.4 -6.1-2.3 -4.1-0.5 -2.8-0.9 -1.9-1.1 -1.2-1.6 -0.5-1.7 -0.2-1.9 0.7-5.1 2.7-5.6 0.5-2.1 -0.9-4.8 -36.7 14.8ZM620.9 134.8l63.3-42.6 -111.6-39.4 -35.5 14.3 0 2.7 0.5 1.1 2 2 2.7 1.8 4 1.9 9 3.8 4.8 3.4 1.7 0.9 8.3 3 2.9 1.3 1.5 1 2.2 2.6 1.6 1.1 9.4 3 3.6 2.1 1.3 1.5 1.7 4 5.3 6.9 9 10.7 9.1 9.1ZM529.9 130.5l5.2-2.2 4.5-2.3 3.8-2.6 2.1-2.3 1.2-2.6 0.4-3.8 -0.3-1.9 -1.1-1.6 -0.8-0.6 -3.4-1.3 -4.9-0.6 -6.8 0 -4.2 1 -1.9 1.1 -2.5 3 -2.3 2.1 -10.2 6.5 -2.2 2.2 -0.3 0.9 0.7 1 4.2 3.5 2.1 1.1 2.8 0.9 3.5 0.5 3.1-0.1 3.4-0.6Z" fill="#00e911" class="k"/>
<path d="M480.6 229.1l45.7-30.7 -16.1-0.2 -9.4-0.8 -6.9-1 -11.6-2.6 -6.6-2.2 -4.7-2.1 -6.6-5.5 -2.5-3.2 -1.1-3.7 -0.8-5.3 -1.6-3.3 -0.3-1.2 0.5-1.5 1.3-1.6 7.5-5.6 1.7-2.3 0.8-1.6 0.3-1.4 -0.3-1.1 -1.3-1.8 -3.6-3 -2.2-1.2 -3-0.8 -2-0.2 -7.9 0.4 -15.5 2.7 -11.2 1 -4-0.3 -8.3-1.7 -4-1.4 -1.8-1.2 -1.4-1.5 -0.9-2.6 0.3-3.1 1-5.2 3.1-8.3 -0.2-1.8 -0.8-2.4 -33.6 13.5ZM630.2 128.5l54-36.3 -111.6-39.4 -29.9 12 1.3 1.6 0.2 3.4 0.6 1.6 1.4 1.6 2.7 1.8 17.1 7.1 12.4 4.4 16.4 6.7 5 2.3 3.6 2.2 2.4 1.9 2.7 2.6 1.8 2.4 3.5 5.8 2.2 3 10.2 10.7ZM529.4 128.4l3.5-1.3 3.4-1.8 2.6-2 1.9-2.4 0.8-2.2 -0.1-2.2 -0.6-1.7 -2.2-2.1 -2.2-0.9 -4-0.7 -3.6 0.3 -2.5 0.8 -12.2 8 -2.4 2.3 -0.6 0.8 -0.3 1.1 0.2 1.1 0.6 0.8 1.7 1.4 2.2 1.1 2.8 0.8 3.9 0.3 2.1-0.3Z" fill="#00fc00" class="j"/>
<path d="M480.6 229.1l39.2-26.3 -10.3-0.9 -6.9-1 -7.3-1.3 -9.5-2.3 -7.3-2.4 -5-2 -4.6-2.2 -3.7-2.5 -2.5-1.3 -9.2-2.9 -1.1-0.8 0.6-1.8 1.8-3.2 0.5-2.4 -0.2-2.7 -1.7-4.6 0-1.4 1-1.5 1.1-1 7.6-5.6 2-2.1 0.6-1.3 0.2-1.3 -0.3-1.1 -1.3-1.8 -2.9-2.2 -2.4-1.1 -3.3-0.7 -2.1-0.1 -3.8 0.2 -3.9 0.6 -16 3.7 -8.5 1.3 -4.9-0.1 -5.6-0.6 -4.3-0.9 -2.6-1 -1.9-1.3 -1.5-1.5 -1.5-2.4 -0.5-1.9 0.2-2.1 4.9-16.2 0-1.7 -0.7-2.4 -30.4 12.3ZM638.8 122.7l45.4-30.5 -111.6-39.4 -26.8 10.8 2.1 1.8 0.4 1.1 0.5 3.3 0.9 1.7 1.5 1.5 2.9 1.7 5.4 2.2 23.2 7.3 12.8 4.5 9.5 3.8 6.6 3.7 4.4 2.9 2.7 2.3 6.5 8.7 2.4 2.3 6.4 5.1ZM528.7 126.5l3.2-1.2 2.1-1.2 1.6-1.5 0.8-1.2 0.6-1.4 0.1-2.3 -0.8-1.7 -1.7-1.2 -2.5-0.8 -1.9-0.1 -2.2 0.2 -2.5 0.9 -4.4 2.1 -3.9 2.4 -2 1.8 -0.8 1.5 -0.1 1.1 1.1 1.6 2.1 1.2 1.4 0.4 3.9 0.4 2.2-0.2Z" fill="#00ff00" class="k"/>
<path d="M480.6 229.1l33.8-22.7 -13.5-2.4 -12.7-3.3 -5.2-1.7 -6.7-2.7 -6.2-3 -7.1-3.9 -3.9-1 -9.3-1 -3.1-1.1 -1-0.9 -0.4-1.8 0.8-1.6 2-2.3 0.8-2 0.3-2.9 -0.6-5.1 0.4-2.3 1.8-2.6 7.8-5.4 2.2-2.1 0.7-1.2 0.1-1.7 -0.7-1.3 -0.8-0.8 -1.9-1.4 -2.5-1.2 -3.5-0.5 -2.3 0.1 -5.6 1.1 -10.3 3.2 -5.5 1.3 -6.2 1 -6.7 0.3 -8.4-0.8 -4.4-1.1 -2.5-1.1 -2-1.2 -2.2-2.3 -1.3-2.5 -0.3-2 0.3-2.5 3-7 2.1-7.2 0.3-3.7 -0.6-2.4 -27 10.9ZM645.6 118.2l38.6-26 -111.6-39.4 -24.6 9.9 1.9 1.2 0.8 1 1.1 3.6 1.3 2.3 2.1 2 2.1 1.3 6.8 2.3 20.1 5.3 11 3.5 11.6 4.4 9.8 4.9 7.1 4.6 8.1 8.1 8.5 6.2ZM527.7 124.8l3.1-1.3 1.2-0.9 0.8-1.4 0.3-2.5 -1.1-1.5 -1.1-0.6 -1.4-0.3 -2.2 0 -3.7 1 -4.3 2.3 -1.6 1.4 -0.4 1 0.2 1.4 0.7 0.7 2.3 1 2.8 0.2Z" fill="#54ff00" class="j"/>
<path d="M480.6 229.1l29.1-19.6 -12.8-3 -12.5-4.2 -8.8-4 -13.1-7.2 -3.7-0.8 -7.7-0.4 -4.3-0.6 -3.3-1.2 -1.1-0.9 -0.9-1 -0.5-1.2 -0.1-1.4 0.2-1.4 2.2-6.9 1.3-7.5 0.8-1.7 1.7-2.2 2.6-1.9 5.5-3.3 2-2.2 0.4-1.7 -1.1-1.9 -2.3-1.3 -1.7-0.3 -2.3 0 -3.8 0.7 -9.6 3.8 -3.6 1 -8.2 1.2 -7.3 0.7 -5.1 0.2 -4.4-0.3 -5.5-0.9 -3.8-1.1ZM650.9 114.6l33.3-22.4 -111.6-39.4 -22.9 9.2 3 2.1 1.4 3.5 1.9 2.7 2.2 1.9 2.3 1.2 6.1 1.9 20 4.5 7.7 2.2 14.8 5.4 11.9 5.6 7.4 4.5 3.3 2.6 4.9 4.6 7.8 4.7ZM526.3 123.3l2.3-0.9 0.8-0.8 0.4-1.2 -0.2-1 -0.8-0.7 -1.3-0.4 -2 0 -1.5 0.4 -2.3 1 -0.8 0.7 -0.5 0.9 -0.1 0.7 0.6 0.8 1.1 0.5 1.7 0.2ZM390.4 149.1l0.3 0.2 -0.4-2.2 0.5-3.3 3.7-7.2 1.8-5.7 0.3-3.8 -0.7-3.2 -23.3 9.4Z" fill="#b8ff00" class="k"/>
<path d="M480.6 229.1l24.8-16.6 -12-3.7 -10.7-4.3 -7.8-4 -11-6.8 -2.4-1.1 -3.6-0.7 -7.4 0 -4.8-0.5 -3.7-1 -1.5-0.7 -2.3-1.7 -0.8-1 -0.8-1.7 -0.3-2.1 0.1-1.5 5.5-18 1.6-2.6 1.3-1 6.2-2.7 1.3-0.9 0.9-1.1 0-0.9 -0.9-0.7 -1.4-0.2 -1.9 0.4 -2.9 1.4 -3.8 2.8 -1.6 0.6 -4 0.8 -21.9 1.7 -5.6 0.1 -5.4-0.4ZM655.2 111.7l29-19.5 -111.6-39.4 -21.4 8.6 2.9 2.1 1.8 3.3 2.3 2.5 2.4 1.9 2.4 1.1 7.2 2.1 18.5 3.5 5.7 1.5 15.6 5.6 14.2 6.2 5.9 3.1 4.6 2.8ZM385.8 144.9l0.6 0.6 1.2-3 3.1-5.2 1.2-2.8 0.8-4.9 -0.9-4.1 -19.2 7.8Z" fill="#fff500" class="j"/>
<path d="M480.6 229.1l20.6-13.9 -11.3-4.2 -10-4.7 -7.4-4.3 -9.1-6.4 -2.8-1.4 -3.4-0.5 -7.3 0.1 -5.1-0.3 -5.9-1.4ZM658.9 109.2l25.3-17 -111.6-39.4 -20 8 2.7 2.2 2.2 3.1 1.5 1.5 3.2 2.2 3.2 1.5 7.3 1.9 17.8 3 5.8 1.4 12.3 4.4 19.7 8 6.9 3.5 7 4.2ZM431.6 185.7l0.8 0.6 -0.6-2.2 0.1-2.9 1-3.3 2.2-5.2 0.8-3.1 0.3-2.7 -0.2-1.2 -0.5-1 -1-0.8 -1.3-0.6 -4-0.5 -17 1.2 -4.9 0.1ZM382.7 142.3l0.6 0.5 2.7-4.8 1-2.3 0.4-4.9 -0.3-3.3 -14.5 5.8Z" fill="#ffd200" class="k"/>
<path d="M480.6 229.1l16.6-11.2 -10.8-4.6 -8-4.3 -7.1-4.5 -8.8-6.7 -3-1.6 -2.5-0.4 -10.7 0 -3.6-0.3ZM662.1 107.1l22.1-14.9 -111.6-39.4 -18.5 7.5 2.5 2.2 1.8 2.6 1.6 1.4 3.4 2 3.4 1.4 7.4 1.9 17.8 2.8 7 1.7 8.2 2.8 24.9 9.7 6.1 3 7.6 4.4 7.7 4.9ZM426.6 181.2l0.5 0.4 1-3.8 2.8-6.9 0.3-1.5 -0.1-1.2 -0.5-1.1 -1-0.7 -1.6-0.5 -2.2-0.2 -15.3 1.2ZM379.8 139.6l0.2 0.2 0.1-0.3 1-3.3 0.3-6.5 -8.8 3.6Z" fill="#ffaf00" class="j"/>
<path d="M480.6 229.1l12.6-8.5 -8.6-4.2 -7.9-4.5 -5.6-3.7 -11.7-8.6 -1.6-0.7 -2-0.5 -10.1-0.3ZM665.1 105.1l19.1-12.9 -111.6-39.4 -17 6.8 2.8 2.8 2.5 3 2.8 1.6 3.5 1.3 7.4 1.9 18.8 3 8.2 1.8 7.2 2.4 13.8 5.7 13.1 4.8 5.1 2.3 5.8 3.3 10.6 6.4ZM421.7 176.9l0.5 0.3 0.7-3.6 -0.1-1.2 -0.6-1.1 -1.3-0.6 -2-0.3 -4.4 0.1ZM374.7 135.2l0.4 0.3 0.1-3.2 -2.6 1Z" fill="#ff8c00" class="k"/>
<path d="M480.6 229.1l8.5-5.7 -6.7-3.6 -7.6-4.7 -16.1-11.7 -3.2-1.5 -2-0.5 -4.7-0.5ZM667.7 103.3l16.5-11.1 -111.6-39.4 -15.3 6.2 5.4 5.6 3.9 1.8 7.2 1.9 23.3 3.9 9.3 2.1 5 1.8 13.2 5.9 15.4 5.5 8.1 3.9Z" fill="#ff6900" class="j"/>
<path d="M480.6 229.1l4.3-2.9 -9.5-5.8 -16.5-11.9 -4.3-2.4ZM670.1 101.7l14.1-9.5 -111.6-39.4 -13.4 5.4 1.8 2.3 2.8 2.3 1.9 1.2 2.7 1.1 7.3 1.7 28.7 5.2 4.6 1.1 3 1 14.6 6.8 15.5 5.4 5.4 2.2 4.8 2.6 10.4 6.5Z" fill="#ff5100" class="k"/>
<path d="M672.5 100.1l11.7-7.9 -111.6-39.4 -10.7 4.3 1.3 2.4 1 1 3 1.6 2.6 0.9 20.4 4.6 17.7 3.5 6.4 1.8 15.1 7.5 15.9 5.1 5.4 2.2 4.9 2.6 9.3 5.9Z" fill="#ff3a00" class="j"/>
<path d="M674.9 98.4l9.3-6.2 -111.6-39.4 -7.1 2.9 2.4 2.8 2.1 1.1 6.3 1.3 7.8 2.9 7.8 2.3 18.3 3.9 7.3 2.2 13.8 7.2 4.2 1.5 13 3.8 5.5 2.1 5.9 3.1 8.2 5.3Z" fill="#ff2300" class="k"/>
<path d="M677.7 96.6l6.5-4.4 -111.6-39.4 -2.9 1.2 2.2 1.6 2.7 1.4 6.7 2.5 9.7 4.1 7.7 2.4 11.5 2.4 6.5 1.7 5.6 2.2 8.1 4.7 3.7 1.8 16.4 4.7 5.7 2 6.2 2.9 9.8 5.5Z" fill="#ff0c00" class="j"/>
<path fill="#fff" fill-rule="evenodd" d="M370.6 50.8H686.2V231.1H370.6ZM461.8 194.7L386.0 133.3L573.2 56.3L673.0 92.2L601.5 137.8L583.5 130.8L520.1 169.4L513.0 164.3 Z"/>
<text transform="translate(442.3 137.8) rotate(10)" y="1.9" font-size="5.2" text-anchor="middle" class="cl">0.1</text>
<text transform="translate(445.2 141.3) rotate(10)" y="1.9" font-size="5.3" text-anchor="middle" class="cl">0.12</text>
<text transform="translate(447.8 145.2) rotate(10)" y="1.9" font-size="5.4" text-anchor="middle" class="cl">0.14</text>
<text transform="translate(481.7 110.0) rotate(5)" y="1.7" font-size="4.7" text-anchor="middle" class="cl">0.08</text>
<text transform="translate(522.5 100.8) rotate(-50)" y="1.6" font-size="4.5" text-anchor="middle" class="cl">0.1</text>
<text transform="translate(532.5 104.2) rotate(-35)" y="1.6" font-size="4.5" text-anchor="middle" class="cl">0.12</text>
<text transform="translate(510.8 118.3) rotate(-45)" y="1.7" font-size="4.8" text-anchor="middle" class="cl">0.14</text>
<text transform="translate(558.3 123.3) rotate(-10)" y="1.8" font-size="4.9" text-anchor="middle" class="cl">0.12</text>
<text transform="translate(540.0 134.2) rotate(-60)" y="1.9" font-size="5.1" text-anchor="middle" class="cl">0.1</text>
<text transform="translate(506.7 156.7) rotate(0)" y="2.0" font-size="5.6" text-anchor="middle" class="cl">0.1</text>
<text transform="translate(606.7 76.7) rotate(20)" y="1.4" font-size="4.0" text-anchor="middle" class="cl">0.22</text>
<text transform="translate(633.3 92.5) rotate(30)" y="1.5" font-size="4.3" text-anchor="middle" class="cl">0.2</text>
<text transform="translate(626.7 95.8) rotate(35)" y="1.6" font-size="4.4" text-anchor="middle" class="cl">0.18</text>
<text transform="translate(619.2 101.7) rotate(55)" y="1.6" font-size="4.5" text-anchor="middle" class="cl">0.16</text>
<text transform="translate(600.0 111.7) rotate(55)" y="1.7" font-size="4.7" text-anchor="middle" class="cl">0.14</text>
</g>
<path d="M386.0 133.3L483.0 215.5L673.0 92.2" fill="none" stroke="#999" stroke-width="0.5"/>
<path d="M483.0 215.5L486.1 218.1" stroke="#aaa" stroke-width="0.5"/>
<text transform="translate(489.7 221.4) rotate(-38)" y="3.0" font-size="8.3" text-anchor="middle" class="tk">0</text>
<path d="M514.4 195.1L517.6 197.4" stroke="#aaa" stroke-width="0.5"/>
<text transform="translate(521.0 200.6) rotate(-37)" y="2.7" font-size="7.6" text-anchor="middle" class="tk">10</text>
<path d="M542.3 177.0L545.4 179.1" stroke="#aaa" stroke-width="0.5"/>
<text transform="translate(548.7 182.1) rotate(-36)" y="2.5" font-size="6.9" text-anchor="middle" class="tk">20</text>
<path d="M567.1 161.0L570.2 162.8" stroke="#aaa" stroke-width="0.5"/>
<text transform="translate(573.3 165.7) rotate(-35)" y="2.3" font-size="6.4" text-anchor="middle" class="tk">30</text>
<path d="M589.3 146.5L592.4 148.2" stroke="#aaa" stroke-width="0.5"/>
<text transform="translate(595.4 151.0) rotate(-34)" y="2.1" font-size="5.9" text-anchor="middle" class="tk">40</text>
<path d="M609.3 133.5L612.4 135.0" stroke="#aaa" stroke-width="0.5"/>
<text transform="translate(615.3 137.8) rotate(-32)" y="2.0" font-size="5.4" text-anchor="middle" class="tk">50</text>
<path d="M627.5 121.7L630.5 123.1" stroke="#aaa" stroke-width="0.5"/>
<text transform="translate(633.3 125.8) rotate(-31)" y="1.8" font-size="5.1" text-anchor="middle" class="tk">60</text>
<path d="M644.0 111.0L647.0 112.3" stroke="#aaa" stroke-width="0.5"/>
<text transform="translate(649.7 114.8) rotate(-30)" y="1.7" font-size="4.7" text-anchor="middle" class="tk">70</text>
<path d="M659.1 101.2L662.1 102.3" stroke="#aaa" stroke-width="0.5"/>
<text transform="translate(664.7 104.8) rotate(-29)" y="1.6" font-size="4.4" text-anchor="middle" class="tk">80</text>
<path d="M673.0 92.2L675.9 93.2" stroke="#aaa" stroke-width="0.5"/>
<text transform="translate(678.4 95.7) rotate(-28)" y="1.5" font-size="4.2" text-anchor="middle" class="tk">90</text>
<path d="M483.0 215.5L478.9 218.1" stroke="#aaa" stroke-width="0.5"/>
<text transform="translate(476.0 218.9) rotate(-28)" y="3.0" font-size="8.3" text-anchor="middle" class="tk">0</text>
<path d="M458.8 195.0L454.8 197.3" stroke="#aaa" stroke-width="0.5"/>
<text transform="translate(450.8 200.2) rotate(-28)" y="2.8" font-size="7.7" text-anchor="middle" class="tk">10</text>
<path d="M437.5 176.9L433.6 179.0" stroke="#aaa" stroke-width="0.5"/>
<text transform="translate(429.9 182.1) rotate(-28)" y="2.6" font-size="7.2" text-anchor="middle" class="tk">20</text>
<path d="M418.4 160.8L414.6 162.6" stroke="#aaa" stroke-width="0.5"/>
<text transform="translate(411.2 165.9) rotate(-28)" y="2.4" font-size="6.7" text-anchor="middle" class="tk">30</text>
<path d="M401.4 146.3L397.7 148.0" stroke="#aaa" stroke-width="0.5"/>
<text transform="translate(394.5 151.4) rotate(-28)" y="2.3" font-size="6.3" text-anchor="middle" class="tk">40</text>
<path d="M386.0 133.3L382.4 134.8" stroke="#aaa" stroke-width="0.5"/>
<text transform="translate(379.5 138.3) rotate(-28)" y="2.1" font-size="5.9" text-anchor="middle" class="tk">50</text>
<rect x="685.2" y="206.73" width="12.8" height="9.57" fill="#8e5aff"/>
<rect x="685.2" y="197.46" width="12.8" height="9.57" fill="#6943ff"/>
<rect x="685.2" y="188.20" width="12.8" height="9.57" fill="#452cff"/>
<rect x="685.2" y="178.93" width="12.8" height="9.57" fill="#2115ff"/>
<rect x="685.2" y="169.66" width="12.8" height="9.57" fill="#0006f9"/>
<rect x="685.2" y="160.39" width="12.8" height="9.57" fill="#003ebf"/>
<rect x="685.2" y="151.12" width="12.8" height="9.57" fill="#007785"/>
<rect x="685.2" y="141.85" width="12.8" height="9.57" fill="#00b04b"/>
<rect x="685.2" y="132.59" width="12.8" height="9.57" fill="#00e911"/>
<rect x="685.2" y="123.32" width="12.8" height="9.57" fill="#00fc00"/>
<rect x="685.2" y="114.05" width="12.8" height="9.57" fill="#00ff00"/>
<rect x="685.2" y="104.78" width="12.8" height="9.57" fill="#54ff00"/>
<rect x="685.2" y="95.51" width="12.8" height="9.57" fill="#b8ff00"/>
<rect x="685.2" y="86.25" width="12.8" height="9.57" fill="#fff500"/>
<rect x="685.2" y="76.98" width="12.8" height="9.57" fill="#ffd200"/>
<rect x="685.2" y="67.71" width="12.8" height="9.57" fill="#ffaf00"/>
<rect x="685.2" y="58.44" width="12.8" height="9.57" fill="#ff8c00"/>
<rect x="685.2" y="49.17" width="12.8" height="9.57" fill="#ff6900"/>
<rect x="685.2" y="39.90" width="12.8" height="9.57" fill="#ff5100"/>
<rect x="685.2" y="30.64" width="12.8" height="9.57" fill="#ff3a00"/>
<rect x="685.2" y="21.37" width="12.8" height="9.57" fill="#ff2300"/>
<rect x="685.2" y="12.10" width="12.8" height="9.57" fill="#ff0c00"/>
<path d="M685.2 197.46H698.0M685.2 178.93H698.0M685.2 160.39H698.0M685.2 141.85H698.0M685.2 123.32H698.0M685.2 104.78H698.0M685.2 86.25H698.0M685.2 67.71H698.0M685.2 49.17H698.0M685.2 30.64H698.0" stroke="#000" stroke-opacity="0.4" stroke-width="0.4"/>
<path d="M685.2 206.73H698.0M685.2 188.20H698.0M685.2 169.66H698.0M685.2 151.12H698.0M685.2 132.59H698.0M685.2 114.05H698.0M685.2 95.51H698.0M685.2 76.98H698.0M685.2 58.44H698.0M685.2 39.90H698.0M685.2 21.37H698.0" stroke="#000" stroke-opacity="0.12" stroke-width="0.4"/>
<text x="700.3" y="219.2" font-size="8.9" class="cbl">0.06</text>
<text x="700.3" y="200.7" font-size="8.9" class="cbl">0.08</text>
<text x="700.3" y="182.1" font-size="8.9" class="cbl">0.1</text>
<text x="700.3" y="163.6" font-size="8.9" class="cbl">0.12</text>
<text x="700.3" y="145.1" font-size="8.9" class="cbl">0.14</text>
<text x="700.3" y="126.5" font-size="8.9" class="cbl">0.16</text>
<text x="700.3" y="108.0" font-size="8.9" class="cbl">0.18</text>
<text x="700.3" y="89.4" font-size="8.9" class="cbl">0.2</text>
<text x="700.3" y="70.9" font-size="8.9" class="cbl">0.22</text>
<text x="700.3" y="52.4" font-size="8.9" class="cbl">0.24</text>
<text x="700.3" y="33.8" font-size="8.9" class="cbl">0.26</text>
<text x="387.5" y="48.3" class="ti">OptDeg(VPD<tspan dy="2.7" font-size="9">05:00 – 2.2 m</tspan><tspan dy="-2.7">)</tspan></text>
<text x="646.0" y="41.0" class="le">(<tspan font-weight="bold">b</tspan>)</text>
<g>
<polygon points="99.0,425.4 20.6,359.7 215.7,280.6 319.7,317.2 245.8,365.8 227.7,358.3 160.2,398.5 152.7,392.8" fill="#935eff"/>
<path d="M119.7 461.4l117.1-79.8 94.5-64.4 -116.3-40.1 -70.7 28 0.8 3.4 -0.4 4 -1.2 2.1 -2.1 1.4 -3.1 0.7 -2.6-0.5 -6.6-5.1 -122.6 48.6Z" fill="#794dff" class="j"/>
<path d="M119.7 461.4l117.1-79.8 94.5-64.4 -116.3-40.1 -63.7 25.2 0.3 4.3 -1.2 4.3 -1.5 3 -1.7 2.1 -2.1 1.9 -8.1 6 -1.1 0.4 -2.2 0.2 -1.4-0.3 -2-0.9 -1.3-1.1 -0.9-1.2 -1.6-4.3 -1.3-1 -3.8-1.6 -114.9 45.6Z" fill="#5f3dff" class="k"/>
<path d="M119.7 461.4l117.1-79.8 94.5-64.4 -116.3-40.1 -56.9 22.5 -1.1 2.6 -0.5 3.1 -0.7 2.6 -1.7 3.8 -1.3 2.1 -1.9 2.5 -4.8 5.1 -4.1 5.1 -1.6 1.3 -2.2 1 -2.7 0.7 -3.6 0.3 -3-0.5 -2.4-0.9 -5.2-3 -6.6-5.5 -2.9-1.9 -105.3 41.7Z" fill="#462cff" class="j"/>
<path d="M119.7 461.4l117.1-79.8 94.5-64.4 -116.3-40.1 -49.9 19.7 0.4 1.3 -0.2 0.7 -3.2 3.3 -2.6 6.6 -3.1 5.3 -6.5 7.3 -5.2 6.6 -3.2 2.6 -4.3 2.2 -2.8 0.7 -1.8 0.2 -3-0.2 -4-1 -4.3-1.8 -7.3-3.8 -11.1-5.3 -96.4 38.2Z" fill="#2c1cff" class="k"/>
<path d="M119.7 461.4l117.1-79.8 94.5-64.4 -116.3-40.1 -45.9 18.2 1 2.5 -0.1 1.5 -3.5 4.8 -5.4 8.7 -7.7 8.2 -5.4 7 -2.3 2.5 -4.9 4.1 -3.2 1.8 -3 0.7 -2 0 -2.5-0.2 -4.3-0.9 -7.1-2.4 -8.9-4.2 -11-3.1 -3.4-1.8 -88.9 35.2Z" fill="#120cff" class="j"/>
<path d="M119.7 461.4l117.1-79.8 94.5-64.4 -116.3-40.1 -41.9 16.6 1.5 5 -0.2 1.7 -1.1 1.9 -7.2 10 -10 9.1 -6.9 8.8 -3.3 3.8 -3.2 2.8 -3 1.9 -2.9 0.8 -3.8 0.3 -4.4-0.3 -4.5-0.9 -9.1-2.5 -9.5-4.1 -9-1.4 -2.5-0.7 -1.9-0.9 -2.8-2.1 -82.8 32.8Z" fill="#000cf3" class="k"/>
<path d="M119.7 461.4l117.1-79.8 94.5-64.4 -116.3-40.1 -37.6 14.9 2.6 6.3 0.3 1.7 -0.9 1.8 -3.7 4.7 -2.1 4.9 -1.9 1.7 -6.9 4 -3.8 2.8 -4.6 4.6 -5.7 7.6 -2.7 3 -3.3 2.9 -4.1 2.4 -4.5 1.1 -6.1 0.3 -5.3-0.5 -12.2-2.3 -4.2-1 -17.1-5.2 -2.9-1.4 -3.6-2.7 -78.2 31Z" fill="#0034ca" class="j"/>
<path d="M119.7 461.4l117.1-79.8 94.5-64.4 -116.3-40.1 -33.7 13.3 1.6 2 1.4 3 1.5 1.6 3.2 2.4 0.4 0.6 -0.2 0.7 -5.3 3 -2.6 2.1 -1.5 2.5 -0.4 3.2 -0.7 1.3 -4.9 3.1 -7.1 3 -4.9 3.4 -4.1 3.9 -4.4 6.2 -2.6 3 -5.2 4.2 -4.5 2.3 -2.8 0.8 -3.3 0.6 -6.7 0.4 -5.6-0.5 -18.6-2.4 -6.4-1.8 -8.5-3.6 -3.8-1.9 -4.5-3.2 -74.3 29.4Z" fill="#005da0" class="k"/>
<path d="M119.7 461.4l117.1-79.8 94.5-64.4 -116.3-40.1 -30.3 12 1.4 1.4 2.7 3.8 1.2 1 2.9 0.9 9.5 2 6.1 2 3.5 1.6 0.3 1 -0.5 0.5 -2.1 0.7 -2.9 0.2 -8-0.5 -5.5 0.2 -3.8 0.7 -2.8 1.1 -1.5 1 -1.5 1.7 -1.1 3.7 -0.8 1.3 -4.7 4 -2.4 1.6 -7.7 2.9 -3.7 2.1 -3.6 3.2 -4.4 6.3 -2.8 2.9 -5.5 4 -5.7 2.8 -3.4 1.1 -3.8 0.7 -6.5 0.5 -29.1-2.3 -3.9-1.1 -3.1-1.5 -14.3-8.9 -70.7 28Z" fill="#008577" class="j"/>
<path d="M119.7 461.4l117.1-79.8 94.5-64.4 -116.3-40.1 -27.2 10.7 1.7 1.4 2 2.6 1.6 1.4 2.6 1.1 9.1 2.1 8.4 3.3 1.7 0.8 1.2 1.1 0.5 1.4 -0.3 0.7 -1.3 0.9 -1.7 0.8 -4.5 1.2 -3.4 0.1 -6.4-0.7 -3.7 0 -3.3 0.4 -3.1 1.1 -2.5 2.1 -2.2 4 -5.9 7.1 -2.9 1.4 -7.6 2.1 -3 1.5 -3 2.6 -3.8 5.5 -2.2 2.1 -6.4 4.6 -6.7 3.6 -7.1 2.2 -7.2 1 -5.7-0.1 -13.2-1.1 -11.5 0.2 -3.6-0.3 -2.8-0.8 -3.2-1.4 -2.4-1.8 -6.4-5.4 -5.9-3.5 -67.2 26.6Z" fill="#00ad4e" class="k"/>
<path d="M119.7 461.4l117.1-79.8 94.5-64.4 -116.3-40.1 -24.5 9.7 2.7 1.6 2 2.6 1.7 1.4 1.8 0.7 8.7 2.1 9.1 4.6 1.2 1 0.8 1.3 0.1 1.1 -0.7 1.1 -3.8 2.2 -4.4 1.4 -4.1 0.4 -9.9-0.3 -2.7 0.5 -2.8 1.1 -2 1.6 -1.6 2.7 -3.1 3.8 -1.6 2.8 -1.2 1.3 -4.5 2.6 -7.6 2.2 -3.1 1.5 -1.5 1.3 -3.3 4.7 -3.1 2.8 -10.1 6.2 -7.2 3.4 -7.1 2.1 -6.1 0.7 -4.4 0 -15.1-1.1 -11.1 0.8 -6.2-0.3 -4.1-1.1 -2.9-1.6 -2.1-1.9 -5.2-6 -2.4-1.6 -3.7-1.9 -63.4 25.1Z" fill="#00d625" class="j"/>
<path d="M119.7 461.4l117.1-79.8 94.5-64.4 -116.3-40.1 -22.5 8.9 3.1 1.4 3.7 3.3 1.3 0.9 6.5 1.6 2.8 1 3.9 2.8 4 2.2 1.6 1.5 0.7 1.5 -0.2 1.5 -0.8 1.1 -4.4 2.7 -5 1.7 -4 0.6 -9.1 0.2 -2.5 0.5 -2 0.8 -1.5 1 -4.2 4.9 -3.2 4.9 -5.1 4.2 -2 1 -5.5 1.3 -2.4 0.8 -1.6 1.3 -3 3.8 -2.4 2 -14.6 8.5 -8.5 4.1 -5.9 1.8 -5.5 0.7 -4.6 0 -15.3-1.2 -15 1.7 -6.3-0.3 -4.1-1.2 -3-1.6 -2.7-2.6 -3-5.2 -1.6-2 -5.7-2.8 -58.9 23.3Z" fill="#00fa00" class="k"/>
<path d="M119.7 461.4l117.1-79.8 94.5-64.4 -116.3-40.1 -20.9 8.3 3.1 1.4 5.5 3.2 7.7 2.5 3.1 1.6 1.9 2.2 4.2 2.9 1.5 1.7 0.4 1.3 -0.1 1.1 -1.3 1.9 -4.8 3.2 -4.7 2 -4.6 1 -8 0.8 -2.4 0.6 -1.9 0.8 -4.9 3.8 -3.3 4.8 -4.5 4.5 -1.6 1.2 -8 3.1 -1.8 1.2 -3.7 3.5 -1.8 1.3 -8.8 4.4 -15.2 8.8 -5.1 2.4 -4.5 1.3 -5.4 0.7 -4.4-0.1 -9.2-1 -4.2-0.2 -4.6 0.4 -13.1 2 -4.5 0.1 -4.9-0.6 -5.3-1.7 -3.7-2.4 -2.5-2.7 -2.4-4.6 -1.5-2 -2.3-1.7 -2.9-1.5 -53.1 21.1Z" fill="#00fc00" class="j"/>
<path d="M119.7 461.4l117.1-79.8 94.5-64.4 -116.3-40.1 -19.5 7.7 5.2 2.6 11.5 4.3 3.1 1.6 2.2 2.9 3.8 3 1.3 1.9 0.2 0.9 -0.2 1.3 -1.6 2.3 -4.4 3.4 -5.1 2.5 -4.3 1.4 -8.9 1.9 -5 2 -2.3 1.6 -3.1 4 -4.4 4.5 -2.3 1.9 -7.1 3.6 -7 5 -7.1 3 -4.5 2.3 -8.3 5.2 -9.1 6.5 -6.2 3.2 -3.1 1 -3.8 0.6 -4.7-0.1 -12.5-1.8 -3.8 0.3 -8.8 1.9 -5.9 0.8 -6.6 0 -5.4-0.7 -7.1-2.1 -5.4-2.7 -3.6-3.3 -5.1-7.1 -3.8-2.9 -45.8 18.2Z" fill="#00fe00" class="k"/>
<path d="M119.7 461.4l117.1-79.8 94.5-64.4 -116.3-40.1 -18.1 7.2 4.3 2.2 5.6 1.8 6.8 2.8 3.6 2.1 2 3 3.1 2.5 1.4 1.8 0.3 1.3 -0.2 1.2 -0.6 1.3 -1.3 1.6 -4 3.6 -5.5 3.2 -3.9 1.6 -9.1 2.7 -4 1.7 -2.3 1.6 -9.4 8.7 -11.6 7.7 -4.3 2.2 -8.9 3.3 -5.3 3.1 -4.9 3.4 -4.4 4.4 -4.3 5.6 -3.6 6.1 -2.1 1.7 -4.1 2 -5.6 1.5 -6 0.4 -3.8-0.4 -9-1.5 -12.6-0.5 -5.7-0.6 -6.3-1.1 -6.2-1.5 -9.6-3.1 -6.8-3.2 -2.6-1.9 -2.9-2.6 -8.9-9.3 -37.7 15Z" fill="#21ff00" class="j"/>
<path d="M119.7 461.4l117.1-79.8 94.5-64.4 -116.3-40.1 -16.7 6.6 4.3 2.2 6.7 2 7.1 3.5 1.9 1.3 2.1 3 3.6 3.1 0.9 1.3 0.4 1.4 -0.1 0.9 -1.5 2.8 -4 4.3 -3.9 3 -4.1 2.3 -9.9 4.1 -6.5 3.3 -4.2 2.6 -7.1 6.3 -8.7 6.1 -4.5 2.1 -6.8 2.1 -3.8 1.5 -3.3 1.8 -4.9 3.4 -2.3 2.3 -1.9 3.2 -0.8 2.7 -0.3 4.7 -0.4 2.6 -1.4 4.7 -1.3 2.5 -5.7 7.5 -2.1 3.7 -0.9 1 -2.6 1.8 -4.9 2.3 -5.1 1.5 -2.6-0.1 -6.3-3.6 -5.7-2.4 -6.4-1.9 -11.8-2.9 -20.1-8.1 -16.1-7.8 -12.4-9.4 -4.2-4.7 -30.2 12ZM183.6 364.5l-3 0.1 -3.3-0.8 -1.1-0.8 -0.5-0.9 0.1-0.6 0.6-1 1-0.8 2.4-1.2 3.5-0.6 1.8 0.3 2.3 1.3 0.7 1 0.3 1.4 -0.6 1 -1.1 0.7Z" fill="#69ff00" class="k"/>
<path d="M119.7 461.4l117.1-79.8 94.5-64.4 -116.3-40.1 -15.2 6 4.2 2.2 6 1.7 7.4 3.9 2.5 1.9 2.2 2.9 3.5 3.2 1 2 -0.2 1.8 -1 1.7 -3.5 4.5 -3.2 3.3 -4.1 3 -10.3 5.7 -8.6 4.2 -2.6 1.6 -13.2 10.7 -4.4 2.2 -10.1 2.5 -5 2 -3.2 1.9 -2.8 2.2 -1.6 1.8 -0.8 1.5 -0.3 2.4 0.3 1.1 1 1.7 1.9 1.5 2.9 1 2.6 0.2 3.7-0.6 15.9-4 4.4 0 3.1 0.8 3.4 2 3 3.6 0.6 1.5 -0.1 1.2 -0.6 1 -1.9 1.6 -2.6 1.2 -4.6 2.9 -3.2 1 -4.5 0.2 -11-0.7 -2 0.3 -3.2 1 -1.2 0.8 -1.9 1.8 -4.1 8.6 -3.1 3 -4.4 2.3 -8.6 3 -8.1 3.7 -3.7 1.3 -4.2 0.7 -2.9-0.1 -3.3-0.8 -2.9-1.4 -4.7-4.6 -2.6-1.3 -21.1-6.5 -8.5-3.3 -7.8-3.5 -8.1-4.3 -14.7-10.5 -9.3-5.8 -2.3-1.9 -3-3.3 -23.8 9.4Z" fill="#b0ff00" class="j"/>
<path d="M119.7 461.4l117.1-79.8 94.5-64.4 -116.3-40.1 -13.6 5.3 3.5 1.9 4.7 1.4 2.5 1.1 8.2 5.1 7.4 7.6 0.4 1.8 -1 2.4 -4.8 6.8 -4.4 4.5 -12.2 9.2 -8.8 4.3 -4.5 2.7 -3.4 2.9 -2.3 3.5 -1.6 1.4 -3.3 1.6 -2.7 0.8 -12.1 1.6 -4 1.4 -2.3 1.1 -3 2 -1.9 2.1 -0.5 1.6 0.5 1.8 1.7 1.5 2.8 0.8 2.1 0.2 4.5-0.3 3.5-0.7 4.4-1.3 5.7-2.4 2.9-0.2 3 0.7 5.6 1.9 6.3 2.8 4.4 2.8 1.8 1.7 0.6 1 0.4 1.1 0.7 5.3 1.9 6.3 0 2.7 -0.7 2.4 -1.2 2.2 -2.4 3 -6 5.6 -14.6 10.8 -8.5 5.2 -6.5 3.1 -7.5 2.6 -12.6 3.2 -11.5 2.1 -5.2 0.4 -6.1-0.2 -3.9-0.8 -2.8-1.2 -1.4-0.8 -2.2-2.1 -1.3-2 -2-4.1 -1.6-2.2 -2.3-1.8 -3.9-2.4 -5.4-4.3 -4.1-2.1 -12.2-4.5 -12.3-5.5 -10.1-3.7 -3.7-1.8 -2.1-1.3 -2.6-2.3 -7.7-8.5 -2.7-1.9 -11.5-7 -4.8-4.5 -18.2 7.2Z" fill="#f8ff00" class="k"/>
<path d="M119.7 461.4l117.1-79.8 94.5-64.4 -116.3-40.1 -11.8 4.6 9.5 4.1 8 5.2 7.8 7.4 1.1 1.9 -0.2 1.5 -0.6 1.1 -2.5 3.3 -2.3 4.3 -2.1 3 -11 12.1 -5.5 4.9 -0.8 1 -0.5 1.3 0.1 1.1 2.2 4 0.9 2.5 0.3 3.3 -0.2 3.5 0.5 2.1 1.3 1.9 4.9 5 1.4 1.9 0.4 1.2 0 2.7 -0.7 5.4 0.3 9.4 -0.3 2.6 -1 3.7 -1.5 3.6 -1.8 3.4 -3 4.5 -3.4 4.3 -7.1 7.6 -4.7 4.1 -3.9 3 -4.2 2.9 -4.7 2.7 -8.8 4 -10.3 3.2 -9.6 1.7 -8.2 0.6 -9.5-0.5 -7.8-1.5 -7.3-2.5 -3.2-1.7 -4-2.8 -4.4-4.2 -6.2-7.7 -2.2-1.8 -5.1-3.3 -6.8-3.6 -14.4-6.4 -8.4-4.9 -11.5-3.3 -3.8-1.7 -1.9-1.5 -2.2-2.5 -2.4-3.5 -3.5-6 -1.3-1.5 -17.5-13.3 -13.1 5.2ZM167.5 352.9l4.3-1.3 2-1.4 0.9-1.1 0.6-1.4 0.1-1.2 -0.5-0.9 -1-0.6 -3.3-0.6 -4.5 0.5 -3.8 1.5 -1.9 1.4 -1.1 1.2 -0.4 1.3 0.4 1 0.8 0.7 1.1 0.6 3.6 0.5Z" fill="#ffe900" class="j"/>
<path d="M119.7 461.4l32.3-22 -10.5 0 -9.3-1.2 -8.8-2.3 -3.8-1.4 -5.1-2.5 -3.1-1.8 -4-3 -14.6-13.4 -6.1-4.5 -10.1-5 -20.9-8.8 -10.3-5.2 -4.5-2.9 -2.6-2.4 -2.1-2.6 -2.1-3.6 -3.6-7.2 -1.6-2.4 -7.5-7.9 -2.4-1.9 -4.6-2.8 -7.9 3.1ZM218.1 394.3l18.7-12.7 94.5-64.4 -116.3-40.1 -10.1 4 4.8 1.9 4.4 2.2 7.5 5.4 8.7 7.7 0.9 1.3 0.1 0.8 -0.7 2 -3.3 4.2 -3.3 7 -5.9 8.9 -3.2 6.9 -0.7 2.3 0.1 2.3 0.9 3 4.4 9.6 2.7 4.8 3.2 3.5 0.7 1 0.4 1.6 -0.1 1.1 -2.8 5.7 -1.1 3.2 -0.5 3.6 -0.2 7.8 -0.4 4 -1.2 5.1ZM167.6 350.5l1.3-0.5 1-0.7 0.3-1.3 -0.8-0.8 -1.5-0.3 -2 0.2 -1.3 0.5 -0.9 0.8 -0.4 0.8 0.5 0.9 1.4 0.5Z" fill="#ffd000" class="k"/>
<path d="M119.7 461.4l16.7-11.4 -7.4-1.4 -6.7-1.9 -5.9-2.3 -5.3-2.6 -4.7-2.9 -4.2-3.1 -13.2-11.7 -8.6-6.6 -8.5-4.7 -12.4-5.5ZM227.5 387.9l9.3-6.3 94.5-64.4 -116.3-40.1 -8.5 3.3 6.2 2.7 4.1 2.4 14.9 12.2 1.4 1.8 0 0.8 -0.5 1.3 -3.5 4.3 -0.6 1.2 -2.1 5.9 -3.9 9.3 -0.9 3.5 -0.4 3.5 0.4 4.2 1.9 4.7 3.4 5.4 5.9 7 1.5 3.2 0.1 1.3 -0.6 2.5 -4.1 7.4 -1.4 4.2 -0.4 3.7 0 9.3ZM21.7 373.3l0.7 0.6 -3.3-5.7 -4.4-5.1 -2.6-1.9 -3.8-2.2 -1.8 0.7Z" fill="#ffb700" class="j"/>
<path d="M119.7 461.4l3-2.1 -8.6-2.9 2.8 2.4ZM234 383.5l2.8-1.9 94.5-64.4 -116.3-40.1 -6.9 2.7 6.8 3.1 3.4 2 10 8.7 5.4 4 1.5 1.8 0 0.8 -0.8 1.4 -3.8 4.2 -0.8 1.3 -2.9 11.9 -0.4 4.3 0.1 3.1 0.4 3.1 0.9 2.8 1.2 2.8 1.6 2.7 2.5 3.5 6.3 6.6 1.1 2.1 0.5 2.4 -0.3 3.1 -5.4 8.8 -1.5 4 -0.5 5.5Z" fill="#ff9f00" class="k"/>
<path d="M239.4 379.8l39.4-26.8 52.5-35.8 -116.3-40.1 -5.4 2.1 8.1 3.9 2.7 1.6 4.2 4.3 5.6 4.6 5.7 3.8 1.3 1.8 0.1 0.9 -0.6 1.1 -4.4 4.5 -1 1.8 -1.3 10.9 0.3 3.9 1.7 5.6 3.3 6.1 3.3 4.2 6.7 6.2 1.3 1.9 0.6 2.3 -0.3 3 -1.2 4 -0.9 1.8 -4.2 5.9 -1.6 4 -0.5 4.8Z" fill="#ff8600" class="j"/>
<path d="M244.4 376.4l34.4-23.4 52.5-35.8 -116.3-40.1 -3.7 1.4 3.9 2.3 4.7 2 2.7 1.7 1.6 1.4 2.7 3.1 4 3.5 6.6 4.1 1.2 1.1 0.7 1.3 0 1.2 -0.6 1.1 -4.7 4.4 -1.1 1.7 -0.2 2.8 0.4 7.6 0.4 2.8 1.1 2.6 1.8 3.4 4.1 5.7 3.6 3.9 5.6 4.2 2.5 2.4 1.3 1.9 0.7 2.3 -0.6 1.8 -3.9 7.6 -5 7.8 -0.9 1.9 -0.4 4.3Z" fill="#ff6d00" class="k"/>
<path d="M249.2 373.1l82.1-55.9 -116.3-40.1 -1.8 0.7 3.7 2.3 5.4 2.4 2.7 1.6 2.3 1.8 2.8 3.3 3.1 3 6.2 3.5 1.8 1.7 0.7 1.7 -0.5 1.8 -1.3 1.6 -4.2 3.4 -0.6 1 -0.4 1.2 0.1 2 1.2 6.1 1.1 3.5 2.9 4.8 4.6 5.4 4 3.6 8.6 6.2 1.5 1.7 1 2.1 0.3 2.6 -0.2 1.5 -0.7 1.7 -5 7.1 -4.5 7.9 -0.8 2 -0.3 2.3Z" fill="#ff5a00" class="j"/>
<path d="M254.6 369.4l76.7-52.2 -115.6-39.9 3.2 2 6.8 3.2 4.1 2.4 3 2.2 1.8 2.5 2 1.9 5.4 3 1.9 1.6 0.9 2.1 -0.1 1.3 -0.4 1.2 -1.7 2 -4.6 3.8 -0.8 1.5 0.5 2.6 2.5 6.6 3.2 4.6 6.4 6.4 4.3 3.4 8.5 5 1.9 1.4 1.4 1.8 0.4 1.1 0.1 2.6 -1 4.6 -1.7 3.2 -4.4 5.3 -1.1 1.7 -3.2 7.4Z" fill="#ff4a00" class="k"/>
<path d="M261.9 364.5l69.4-47.3 -103.3-35.6 8.2 4.1 5.8 4.1 6.1 2.7 1.4 0.9 0.5 1.7 -0.6 2.5 -1.7 3 -1.2 1.6 -5.8 4.6 -0.5 1.6 0.6 1.6 4.5 7.6 6.3 6.2 3.4 2.6 2.9 1.8 11.3 5.6 2.8 2.2 1.2 1.9 0.6 2.3 -0.1 1.5 -2.5 6.9 -2.2 4.1 -4.9 6.2 -1.3 2.6Z" fill="#ff3a00" class="j"/>
<path d="M273.7 356.5l10.4-7.1 47.2-32.2 -64.9-22.4 1.7 1.8 0 0.6 -0.4 0.5 -1.8 0.6 -7.9 0.9 -2.9 0.9 -2.1 1.1 -7.4 5.4 -0.9 1.4 0.3 0.8 1.9 1.9 1.9 4 1.6 2.2 6.8 6 2.7 1.9 7 3 11 3.2 3.5 1.9 1.3 1.4 0.6 1.2 0.3 2.7 -0.9 3.3 -3.5 5.8 -2.5 4.7Z" fill="#ff2900" class="k"/>
<path d="M326.2 320.7l5.1-3.5 -22.7-7.8 -1.8 1.3 -2.2 0.5 -3.3 0.2 -6.8-0.4 -6.8-1.1 -16.5-4.2 -7.5-0.8 -3.8 0.2 -3 0.9 -2 1.3 -0.5 1.3 0.5 5.2 0.4 1.6 1.3 2.1 1.6 1.5 3.2 2.7 4 2.2 3.8 1.3 4.5 0.9 4.3 0.6 3.1-0.4 1.5-1 2.8-2.8 1.6-0.9 3.3-0.9 9.5-1.6 1.9-0.7 3.6-2.2 3.4-0.8 5.6 0.3 4.3 1 4.8 1.9Z" fill="#ff1900" class="j"/>
<path d="M272.5 322.1l1.3-0.2 2-0.8 1.6-1.6 0.5-1.3 0.2-1.4 -0.4-1.1 -0.7-0.7 -3.1-1.5 -4.6-0.7 -1.8 0 -2.4 0.5 -2 1.4 -0.5 1.3 0 0.8 0.3 0.9 1.3 1.3 3.8 2.3 2.6 0.7Z" fill="#ff0800" class="k"/>
<path fill="#fff" fill-rule="evenodd" d="M4.5 275.1H333.3V463.4H4.5ZM99.0 425.4L20.6 359.7L215.7 280.6L319.7 317.2L245.8 365.8L227.7 358.3L160.2 398.5L152.7 392.8 Z"/>
<text transform="translate(143.3 329.2) rotate(-50)" y="1.6" font-size="4.4" text-anchor="middle" class="cl">0.14</text>
<text transform="translate(120.8 337.5) rotate(15)" y="1.7" font-size="4.6" text-anchor="middle" class="cl">0.16</text>
<text transform="translate(109.2 341.7) rotate(15)" y="1.7" font-size="4.7" text-anchor="middle" class="cl">0.18</text>
<text transform="translate(97.5 346.7) rotate(15)" y="1.7" font-size="4.8" text-anchor="middle" class="cl">0.2</text>
<text transform="translate(86.7 352.2) rotate(20)" y="1.8" font-size="4.9" text-anchor="middle" class="cl">0.22</text>
<text transform="translate(72.5 358.3) rotate(25)" y="1.8" font-size="5.0" text-anchor="middle" class="cl">0.24</text>
<text transform="translate(78.3 373.3) rotate(15)" y="1.9" font-size="5.3" text-anchor="middle" class="cl">0.26</text>
<text transform="translate(180.8 312.5) rotate(-55)" y="1.5" font-size="4.1" text-anchor="middle" class="cl">0.18</text>
<text transform="translate(180.0 320.8) rotate(-45)" y="1.5" font-size="4.3" text-anchor="middle" class="cl">0.2</text>
<text transform="translate(178.3 327.5) rotate(-40)" y="1.6" font-size="4.4" text-anchor="middle" class="cl">0.22</text>
<text transform="translate(167.5 338.3) rotate(-20)" y="1.7" font-size="4.6" text-anchor="middle" class="cl">0.24</text>
<text transform="translate(147.5 354.2) rotate(-60)" y="1.8" font-size="4.9" text-anchor="middle" class="cl">0.26</text>
<text transform="translate(196.7 338.3) rotate(-25)" y="1.7" font-size="4.6" text-anchor="middle" class="cl">0.28</text>
<text transform="translate(209.2 315.0) rotate(-55)" y="1.5" font-size="4.1" text-anchor="middle" class="cl">0.26</text>
<text transform="translate(206.7 360.8) rotate(70)" y="1.8" font-size="5.1" text-anchor="middle" class="cl">0.28</text>
<text transform="translate(263.3 326.2) rotate(15)" y="1.6" font-size="4.4" text-anchor="middle" class="cl">0.38</text>
<text transform="translate(254.2 332.0) rotate(30)" y="1.6" font-size="4.5" text-anchor="middle" class="cl">0.36</text>
<text transform="translate(245.0 337.0) rotate(35)" y="1.7" font-size="4.6" text-anchor="middle" class="cl">0.34</text>
<text transform="translate(234.2 342.8) rotate(50)" y="1.7" font-size="4.7" text-anchor="middle" class="cl">0.32</text>
<text transform="translate(221.7 352.0) rotate(55)" y="1.8" font-size="4.9" text-anchor="middle" class="cl">0.3</text>
<text transform="translate(215.8 297.0) rotate(45)" y="1.4" font-size="3.8" text-anchor="middle" class="cl">0.24</text>
<text transform="translate(225.0 297.0) rotate(60)" y="1.4" font-size="3.8" text-anchor="middle" class="cl">0.28</text>
<text transform="translate(235.8 299.5) rotate(70)" y="1.4" font-size="3.8" text-anchor="middle" class="cl">0.32</text>
</g>
<path d="M20.6 359.7L122.3 446.7L319.7 317.2" fill="none" stroke="#999" stroke-width="0.5"/>
<path d="M122.3 446.7L125.6 449.5" stroke="#aaa" stroke-width="0.5"/>
<text transform="translate(129.1 452.5) rotate(-38)" y="3.0" font-size="8.3" text-anchor="middle" class="tk">0</text>
<path d="M155.7 424.8L159.0 427.3" stroke="#aaa" stroke-width="0.5"/>
<text transform="translate(162.4 430.1) rotate(-37)" y="2.7" font-size="7.5" text-anchor="middle" class="tk">10</text>
<path d="M185.0 405.6L188.3 407.8" stroke="#aaa" stroke-width="0.5"/>
<text transform="translate(191.5 410.5) rotate(-36)" y="2.5" font-size="6.8" text-anchor="middle" class="tk">20</text>
<path d="M210.9 388.6L214.2 390.5" stroke="#aaa" stroke-width="0.5"/>
<text transform="translate(217.2 393.2) rotate(-35)" y="2.2" font-size="6.2" text-anchor="middle" class="tk">30</text>
<path d="M234.0 373.4L237.3 375.2" stroke="#aaa" stroke-width="0.5"/>
<text transform="translate(240.1 377.8) rotate(-34)" y="2.1" font-size="5.7" text-anchor="middle" class="tk">40</text>
<path d="M254.7 359.9L257.9 361.4" stroke="#aaa" stroke-width="0.5"/>
<text transform="translate(260.7 364.0) rotate(-32)" y="1.9" font-size="5.3" text-anchor="middle" class="tk">50</text>
<path d="M273.3 347.6L276.5 349.0" stroke="#aaa" stroke-width="0.5"/>
<text transform="translate(279.2 351.5) rotate(-31)" y="1.8" font-size="4.9" text-anchor="middle" class="tk">60</text>
<path d="M290.2 336.5L293.4 337.8" stroke="#aaa" stroke-width="0.5"/>
<text transform="translate(295.9 340.2) rotate(-30)" y="1.6" font-size="4.6" text-anchor="middle" class="tk">70</text>
<path d="M305.6 326.4L308.7 327.6" stroke="#aaa" stroke-width="0.5"/>
<text transform="translate(311.2 329.9) rotate(-29)" y="1.5" font-size="4.3" text-anchor="middle" class="tk">80</text>
<path d="M319.7 317.2L322.7 318.3" stroke="#aaa" stroke-width="0.5"/>
<text transform="translate(325.1 320.5) rotate(-28)" y="1.4" font-size="4.0" text-anchor="middle" class="tk">90</text>
<path d="M122.3 446.7L118.0 449.5" stroke="#aaa" stroke-width="0.5"/>
<text transform="translate(115.2 450.0) rotate(-28)" y="3.0" font-size="8.3" text-anchor="middle" class="tk">0</text>
<path d="M96.7 424.8L92.4 427.3" stroke="#aaa" stroke-width="0.5"/>
<text transform="translate(88.6 429.9) rotate(-28)" y="2.8" font-size="7.7" text-anchor="middle" class="tk">10</text>
<path d="M74.2 405.5L70.0 407.7" stroke="#aaa" stroke-width="0.5"/>
<text transform="translate(66.6 410.6) rotate(-28)" y="2.6" font-size="7.1" text-anchor="middle" class="tk">20</text>
<path d="M54.3 388.5L50.2 390.4" stroke="#aaa" stroke-width="0.5"/>
<text transform="translate(47.1 393.5) rotate(-28)" y="2.4" font-size="6.6" text-anchor="middle" class="tk">30</text>
<path d="M36.5 373.3L32.6 375.1" stroke="#aaa" stroke-width="0.5"/>
<text transform="translate(29.7 378.3) rotate(-28)" y="2.2" font-size="6.2" text-anchor="middle" class="tk">40</text>
<path d="M20.6 359.7L16.8 361.3" stroke="#aaa" stroke-width="0.5"/>
<text transform="translate(14.1 364.6) rotate(-28)" y="2.1" font-size="5.8" text-anchor="middle" class="tk">50</text>
<rect x="334.8" y="459.68" width="13.5" height="7.52" fill="#935eff"/>
<rect x="334.8" y="452.45" width="13.5" height="7.52" fill="#794dff"/>
<rect x="334.8" y="445.23" width="13.5" height="7.52" fill="#5f3dff"/>
<rect x="334.8" y="438.01" width="13.5" height="7.52" fill="#462cff"/>
<rect x="334.8" y="430.79" width="13.5" height="7.52" fill="#2c1cff"/>
<rect x="334.8" y="423.56" width="13.5" height="7.52" fill="#120cff"/>
<rect x="334.8" y="416.34" width="13.5" height="7.52" fill="#000cf3"/>
<rect x="334.8" y="409.12" width="13.5" height="7.52" fill="#0034ca"/>
<rect x="334.8" y="401.90" width="13.5" height="7.52" fill="#005da0"/>
<rect x="334.8" y="394.67" width="13.5" height="7.52" fill="#008577"/>
<rect x="334.8" y="387.45" width="13.5" height="7.52" fill="#00ad4e"/>
<rect x="334.8" y="380.23" width="13.5" height="7.52" fill="#00d625"/>
<rect x="334.8" y="373.01" width="13.5" height="7.52" fill="#00fa00"/>
<rect x="334.8" y="365.78" width="13.5" height="7.52" fill="#00fc00"/>
<rect x="334.8" y="358.56" width="13.5" height="7.52" fill="#00fe00"/>
<rect x="334.8" y="351.34" width="13.5" height="7.52" fill="#21ff00"/>
<rect x="334.8" y="344.12" width="13.5" height="7.52" fill="#69ff00"/>
<rect x="334.8" y="336.89" width="13.5" height="7.52" fill="#b0ff00"/>
<rect x="334.8" y="329.67" width="13.5" height="7.52" fill="#f8ff00"/>
<rect x="334.8" y="322.45" width="13.5" height="7.52" fill="#ffe900"/>
<rect x="334.8" y="315.23" width="13.5" height="7.52" fill="#ffd000"/>
<rect x="334.8" y="308.00" width="13.5" height="7.52" fill="#ffb700"/>
<rect x="334.8" y="300.78" width="13.5" height="7.52" fill="#ff9f00"/>
<rect x="334.8" y="293.56" width="13.5" height="7.52" fill="#ff8600"/>
<rect x="334.8" y="286.34" width="13.5" height="7.52" fill="#ff6d00"/>
<rect x="334.8" y="279.11" width="13.5" height="7.52" fill="#ff5a00"/>
<rect x="334.8" y="271.89" width="13.5" height="7.52" fill="#ff4a00"/>
<rect x="334.8" y="264.67" width="13.5" height="7.52" fill="#ff3a00"/>
<rect x="334.8" y="257.45" width="13.5" height="7.52" fill="#ff2900"/>
<rect x="334.8" y="250.22" width="13.5" height="7.52" fill="#ff1900"/>
<rect x="334.8" y="243.00" width="13.5" height="7.52" fill="#ff0800"/>
<path d="M334.8 452.45H348.3M334.8 438.01H348.3M334.8 423.56H348.3M334.8 409.12H348.3M334.8 394.67H348.3M334.8 380.23H348.3M334.8 365.78H348.3M334.8 351.34H348.3M334.8 336.89H348.3M334.8 322.45H348.3M334.8 308.00H348.3M334.8 293.56H348.3M334.8 279.11H348.3M334.8 264.67H348.3M334.8 250.22H348.3" stroke="#000" stroke-opacity="0.4" stroke-width="0.4"/>
<path d="M334.8 459.68H348.3M334.8 445.23H348.3M334.8 430.79H348.3M334.8 416.34H348.3M334.8 401.90H348.3M334.8 387.45H348.3M334.8 373.01H348.3M334.8 358.56H348.3M334.8 344.12H348.3M334.8 329.67H348.3M334.8 315.23H348.3M334.8 300.78H348.3M334.8 286.34H348.3M334.8 271.89H348.3M334.8 257.45H348.3" stroke="#000" stroke-opacity="0.12" stroke-width="0.4"/>
<text x="351.6" y="470.9" font-size="11.0" class="cbl">0.1</text>
<text x="351.6" y="456.4" font-size="11.0" class="cbl">0.12</text>
<text x="351.6" y="442.0" font-size="11.0" class="cbl">0.14</text>
<text x="351.6" y="427.5" font-size="11.0" class="cbl">0.16</text>
<text x="351.6" y="413.1" font-size="11.0" class="cbl">0.18</text>
<text x="351.6" y="398.6" font-size="11.0" class="cbl">0.2</text>
<text x="351.6" y="384.2" font-size="11.0" class="cbl">0.22</text>
<text x="351.6" y="369.7" font-size="11.0" class="cbl">0.24</text>
<text x="351.6" y="355.3" font-size="11.0" class="cbl">0.26</text>
<text x="351.6" y="340.9" font-size="11.0" class="cbl">0.28</text>
<text x="351.6" y="326.4" font-size="11.0" class="cbl">0.3</text>
<text x="351.6" y="312.0" font-size="11.0" class="cbl">0.32</text>
<text x="351.6" y="297.5" font-size="11.0" class="cbl">0.34</text>
<text x="351.6" y="283.1" font-size="11.0" class="cbl">0.36</text>
<text x="351.6" y="268.6" font-size="11.0" class="cbl">0.38</text>
<text x="351.6" y="254.2" font-size="11.0" class="cbl">0.4</text>
<text x="15.0" y="265.0" class="ti">OptDeg(RH<tspan dy="2.7" font-size="9">05:00 – 1.4 m</tspan><tspan dy="-2.7">)</tspan></text>
<text x="304.5" y="259.5" class="le">(<tspan font-weight="bold">c</tspan>)</text>
<g>
<polygon points="470.5,422.9 399.8,363.3 576.5,291.4 671.7,324.5 603.5,367.8 586.5,361.1 526.6,398.2 519.5,393.4" fill="#925dff"/>
<path d="M489.4 455.9l179.3-122.1 13.7-9.3 -106.5-36.3 -70.8 28.1 2.3 1.2 1.4 1.5 4.6 12.9 0 0.9 -0.7 1 -3.5 2 -2.9 0.9 -2.6 0.2 -8-1.3 -7.7-0.6 -2.5-0.6 -0.8-0.4 -0.9-1.2 -1.6-7.3 -95.1 37.8Z" fill="#774cff" class="j"/>
<path d="M489.4 455.9l179.3-122.1 13.7-9.3 -106.5-36.3 -65.5 26 3.1 2.2 0.9 1.5 3.3 14.7 -0.7 1.5 -2 1.8 -5.4 3.2 -3.9 2 -2 0.2 -6.4-2.3 -3.9-0.5 -3.6 0.1 -12.3 1.6 -3.8 0.1 -1.6-0.2 -1.6-0.9 -0.9-2 0.1-2.4 1-4.8 -83.6 33.3ZM444.1 366.4l-0.3-0.2 0.2-0.9 0.4-0.3 1.7 0.3 -0.4 0.7ZM558.1 367.6l-3.8 0.9 -3.5-0.2 -1.6-0.6 -0.5-0.5 -0.2-0.3 0.1-1 1.5-1.5 2.4-0.9 2.8-0.4 1.9 0.1 1.5 0.4 1 0.6 0.5 0.9 -0.3 1.1Z" fill="#5b3aff" class="k"/>
<path d="M489.4 455.9l179.3-122.1 13.7-9.3 -106.5-36.3 -61.7 24.5 3 2.8 1.5 2.9 1.5 6.7 0.9 6.7 -0.2 1.5 -0.8 1.4 -2 1.9 -9.9 5.9 -2.1 1 -2.4 0.4 -1.7-0.1 -2.2-0.7 -3.5-1.9 -2.7-0.5 -2 0 -4.5 0.7 -9.2 2.5 -4.5 0.9 -5.1 0.1 -4.8-0.4 -3-1.2 -0.6-0.5 -0.7-1.4 0-1.5 1.4-5.9 -73.5 29.3ZM493.8 399.8l-4.3 0.4 -2.9-0.3 -2.4-1 -0.6-1.3 0.6-1.3 1.2-0.9 5.8-2.8 1.7-0.5 2.2-0.1 2.9 0.6 1.1 0.7 0.7 1 0.1 1.1 -0.6 1.3 -2.2 1.9ZM560.8 370.3l-9.3 1.1 -3.9-0.3 -1.4-0.4 -1.8-1.5 -0.3-1 0-1.2 0.8-1.7 1.8-1.6 3.4-1.7 2.6-0.8 3.1-0.6 4.1-0.1 3.3 0.5 2.5 1 1 0.7 0.6 0.8 0.1 1.2 -0.7 1.7 -2.3 2.2ZM445.3 368.9l-3.2 0.2 -1.2-0.4 -0.8-0.7 -0.8-2 0.2-1.4 0.7-1.1 2.1-1.6 3.1-0.8 3.7 0.1 2.3 0.8 0.7 0.7 0.3 0.8 -0.2 1 -1.2 1.5 -2.8 1.8Z" fill="#3f28ff" class="j"/>
<path d="M489.4 455.9l179.3-122.1 13.7-9.3 -106.5-36.3 -58.2 23.1 2.5 3 1.4 2.2 1.7 4.3 0.9 3.3 0.2 2.2 -0.1 3.2 0.5 3.1 -0.4 1.5 -1.8 1.9 -6.6 4.1 -7.3 3.7 -3.4 1.4 -3 0.5 -2.5 0 -2.7-0.6 -3.7-1.8 -1.2 0 -2.8 0.6 -3.5 1.4 -11.8 6.1 -14.7 12.2 -5.8 3.5 -5.2 2.5 -4.8 1.3 -2.1 0.1 -2.3-0.6 -1.4-1.3 -0.8-1.6 -0.4-1.9 0.1-1.6 0.4-1.2 0.8-1 2-1.7 3.7-1.8 5.8-1.7 0.9-0.8 0.4-1.2 0.2-4.8 -0.8-6.2 0.6-2.2 1.5-4 -65.1 25.9ZM503.2 399.5l-3.2 1.2 -3.7 0.9 -4.4 0.4 -2.6-0.1 -3.1-0.4 -2.7-0.8 -1.2-0.7 -0.9-0.9 -0.4-1.1 0.7-1.7 1.1-1.1 3.5-2.7 4.1-3.9 1.4-0.6 1.9-0.4 2.4 0.1 6.8 0.8 3.4 0.8 2.8 1.1 1.8 1.7 0.1 1.3 -1.3 2.1 -2.3 1.7ZM528.6 393.5l-2.2 0.2 -2.2-1 -1.1-1.2 -0.2-0.8 0.2-0.8 0.7-1 2.6-1.4 3.4-0.8 2.5-0.1 1 0.8 0 1.4 -1.1 2.1 -2.2 2ZM557.7 379.8l-12.6 2 -2.3 0 -1.4-0.5 -0.7-1 -1-4.6 -0.4-2.4 0-2.5 0.7-2.8 0.8-1.6 1.3-1.7 2.8-2 4.6-2.3 4.9-1.5 5.1-0.8 4.5 0.1 4.8 0.8 5.5 1.7 2.1 1.2 0.4 0.9 -0.3 0.9 -3.8 3.6 -4 4.9 -3.5 3 -3.1 3.2 -1.2 0.6Z" fill="#2417ff" class="k"/>
<path d="M489.4 455.9l179.3-122.1 13.7-9.3 -106.5-36.3 -54.4 21.6 1.2 1.5 2.4 4.4 3.7 8.7 1.5 7.4 -0.2 1.4 -1 1.4 -2.3 1.7 -3.6 2 -17.3 8.3 -3.7 1.3 -8.9 1.8 -3.7 1.4 -15.4 9.7 -7.4 3.5 -21.6 7.8 -3.8 0.5 -2.2-0.2 -1.2-0.5 -1.6-1.2 -1-1.6 -0.9-2.4 -0.3-1.8 0.2-1.9 1.6-2.7 5.5-4.9 2.2-2.9 0.8-3.3 -0.2-4.8 1.4-4.4 -58.6 23.3ZM560.8 392.7l-8.7 3.5 -9.4 3.3 -7.1 1.9 -6.2 0.8 -4.8 0.1 -10.8-0.4 -5.7 0.4 -9.2 1.2 -7.2 0.2 -5-0.6 -3.4-0.9 -2.6-1.3 -0.9-0.9 -0.6-1 0-1.4 0.5-1.1 4.7-5.6 0.6-1.6 -0.3-3 0.3-0.8 0.3-0.5 1.2-0.8 2.5-0.8 3.3-0.5 8.9 0.3 4-0.5 6.4-1.7 11.6-4.2 5.1-2.4 3.2-2 3.4-3.2 3.7-4.1 2.6-2.1 4.1-2.4 5.8-2.5 6.6-2 3.2-0.4 3.9-0.1 3.3 0.3 5.9 1.3 4.1 1.3 2.3 1.1 2.4 2.3 0.9 2.2 0.1 1.1 -0.7 1.9 -2.8 4.2 -1.8 6.2 -1.4 3 -1.9 2.7 -3.5 3.3 -4.4 2.9Z" fill="#0805ff" class="j"/>
<path d="M489.4 455.9l179.3-122.1 13.7-9.3 -106.5-36.3 -50.7 20.2 2.5 2.5 2.7 6.5 2.9 5 2.6 3.5 2.4 2.2 2.4 1.4 3 1.1 15 2.5 3.3 1.1 1.5 1.1 1.4 2.2 0.4 2.8 -0.5 1.5 -0.7 0.7 -1.9 0.9 -5.4 1.2 -3.4 0.2 -2.2-0.1 -2.3-1 -4.9-3.4 -4.1-1.7 -5.2-1.1 -1.9 0 -2.9 0.5 -4.4 1.5 -12.9 5.4 -20.4 12.7 -5.8 2.9 -7.5 3.4 -8.5 2.9 -14.9 3.2 -9 3.1 -4.3 1 -4.1-0.2 -1.3-0.4 -1.8-1.2 -1-1.6 -1.3-3.2 -0.7-3.4 0.2-1.9 1.1-2.3 4.7-5.6 1.7-3.1 0.4-1.9 0.2-4.6 0.5-2.8 -53.7 21.4ZM572.1 396.5l-8.9 3.5 -12 3.4 -11.7 2.2 -9.1 0.7 -20.4-0.7 -13.2 0.1 -5.4-0.3 -6.5-1.3 -4.5-1.7 -2.1-1.6 -0.6-1 -0.2-1.3 0.4-1.5 0.7-1.3 3.2-4.8 0.3-1.4 -0.9-4.4 0.6-0.9 2.4-1.6 6.6-2.5 19.3-5.9 12.7-3.1 4.3-1.3 4.9-2.3 5.6-4.2 3-1.8 10.8-5.4 4.6-1.9 3.8-1.2 5.2-1.1 2.4-0.2 4.8 0.7 9.3 2.9 3.4 1.6 9.1 7.3 1.6 1.7 1.1 2.6 -0.1 2.3 -1.5 4 -3.6 6 -3.4 4.4 -3.4 3.4 -4 3.1 -3.5 2.1Z" fill="#001ee0" class="k"/>
<path d="M489.4 455.9l72.9-49.6 -8.9 1.8 -8.5 1.1 -9.3 0.6 -7.7 0 -33.8-2.4 -6.6-1.2 -7.2-2.3 -2.4-1.5 -0.9-0.9 -0.7-1 -0.3-1.2 0.2-1.4 0.6-1.7 2.9-5.4 0.2-1.3 -0.6-3.8 0.3-1.4 0.9-1.1 2.2-1.6 6.4-3.5 3.5-2.5 6.2-6.6 0.7-1.4 -0.2-1 -0.7-0.7 -1.2-0.5 -1.5-0.3 -4.1 0.2 -7.7 1.4 -13.9 3 -12.9 1.6 -14.5 4.1 -4.1 0.3 -3.1-0.7 -1.9-1.1 -1.2-1.5 -2.3-5.7 -0.5-3.1 0.2-1.5 0.9-2.5 4.2-6.1 1.2-2.6 0.5-2.6 0.2-4.8 -49.8 19.8ZM606.9 375.9l75.5-51.4 -106.5-36.3 -47.6 18.9 3.5 3.1 3.2 6.3 2.6 3.3 2.9 2.5 3.1 1.8 4 1.3 6.1 1 5.7 0.1 9.4-0.5 4.8 0.6 5 2 14.3 8 1.2 1.4 0.8 3.5 1.7 3.9 1 4 1 1.8 2.7 3.3 2.1 5.7 4.1 7.8 0.4 1.7 0 2.1ZM529.3 365.6l2.2-0.9 16.8-9.2 6-4.2 0.7-0.7 0.4-1.1 -0.8-0.6 -7-2.6 -5.6-3 -3.2-1.4 -4.8-1.3 -2.9-0.2 -6.5 1.6 -8.1 2.9 -3.8 2.2 -3.2 3.3 -2 3.9 -0.2 1.1 0.2 0.9 3.4 3.4 1.3 3.7 1.3 1.5 3.8 1.3 3.5 0.5 4.8-0.3Z" fill="#0049b4" class="j"/>
<path d="M489.4 455.9l63.8-43.4 -10.1 0.7 -10.3 0 -11.4-0.7 -18.1-2 -9.3-1.2 -4.1-0.8 -7.8-2.5 -4.5-2 -2-1.7 -0.7-1 -0.4-1.1 0-1.4 0.5-1.6 2.9-6.7 0.2-5.7 0.5-1.3 1.8-2 4.4-3.3 2.1-2 0.7-1.5 -0.1-1 -0.4-1 -1.7-1.3 -1.2-0.5 -3.7-0.4 -2.4 0.1 -9.1 1.3 -7.7 0.5 -4 0.5 -5.1 1.2 -8.1 2.3 -3.6 0.7 -4.5-0.2 -2.7-0.8 -1.9-1.2 -1-1.5 -1-3.5 -1.4-3.2 -0.5-3.3 0.2-2 0.6-2.2 3.8-6.2 1-2.3 0.3-1.9 0-3.9 -46.3 18.4ZM615.4 370.1l67-45.6 -106.5-36.3 -44.8 17.8 4.5 4 3.6 4.7 2.4 2.6 2.6 1.8 3.3 1.6 4.2 1.3 3.9 0.6 4.3 0.2 10.4 0 5.8 0.9 4.3 1.3 14.3 5.7 13.3 3.8 3.9 2 0.6 1.1 -0.6 1.3 -2.2 1.5 -4.7 2.1 -0.6 0.6 0 0.9 2.4 4.7 4.6 12.5 2.7 5.3ZM532.7 361.5l8-3.4 5.6-3.6 1.4-1.4 0.8-1.7 -0.2-1.1 -0.6-1 -3.4-2.3 -5-2.4 -4.1-1.1 -4.6-0.4 -4.8 0.5 -5 1.5 -4.1 2.1 -2.1 2.1 -0.7 1.9 -0.1 1 1.1 3.5 1.9 3.2 2.1 2.1 3.4 1.5 3.4 0.5 2.5-0.2Z" fill="#007488" class="k"/>
<path d="M489.4 455.9l57.5-39.2 -9.2 0 -11.6-0.8 -12.5-1.6 -16.2-2.4 -6.1-1.2 -3.5-1 -9-3.6 -2.7-1.3 -2-1.7 -0.7-1 -0.5-2.4 0.3-1.5 2.8-6.7 1-7.5 1.4-2.3 4.2-4.5 0.6-1.4 -0.3-0.9 -1.8-1.4 -3.2-0.6 -2.1-0.1 -18.5 1.5 -5.5 1.1 -8.2 2.4 -4.2 0.7 -2.4 0 -3.4-0.5 -3.8-1.4 -1.4-1.3 -0.7-1.7 -0.5-2.7 -1.7-5 -0.4-3.5 0.2-2.2 0.9-2.6 2.9-4.6 0.7-1.7 0.4-2 0-3.1 -43.1 17.1ZM620.8 366.4l61.6-41.9 -106.5-36.3 -42 16.7 10.7 9.7 2.7 1.7 3.3 1.5 3 1 3.7 0.6 14.1 0.7 6.3 1.1 18.6 6.7 11.8 3.4 3.2 1.3 1.8 1.1 2.7 2.7 1.3 2.3 -0.1 1.5 -1.5 3.3 -0.5 1.7 0.4 6.3 0.6 3 1.4 4.3ZM536.1 358.6l3-1.4 2.9-1.7 1.6-1.4 1-1.6 0.2-0.9 -0.5-1.6 -1.3-1.3 -2.7-1.7 -3.4-1.2 -2.8-0.6 -3.7-0.2 -3.4 0.3 -2.8 0.6 -3.3 1.4 -1.7 1.2 -1.1 1.6 -0.2 2.2 1.2 3.4 1.7 2.2 1.7 1.3 2.5 0.8 3.6 0.3 2.9-0.3Z" fill="#009f5c" class="j"/>
<path d="M489.4 455.9l52.5-35.7 -10.9-0.9 -9.6-1.1 -27.2-4.8 -5.2-1.3 -3.3-1.2 -9.9-4.5 -2.4-1.5 -1.6-1.9 -0.5-1.1 0-2.4 3.3-8.5 1.4-7.7 3.3-5.5 0.1-1.2 -0.6-0.8 -1.1-0.6 -1.4-0.4 -3.8-0.3 -12.6 0.7 -6.9 1.2 -10 2.7 -3.9 0.6 -2.4 0.1 -5.5-0.7 -4.1-1.2 -1.4-1.4 -0.7-1.7 -0.6-3.5 -1.3-5.3 -0.4-4.7 0.2-2.3 0.5-1.9 3.2-5.3 0.3-4.3 -39.8 15.8ZM625.7 363.1l56.7-38.6 -106.5-36.3 -39.3 15.6 3.8 3.6 5.2 3.9 4.1 2.5 3.4 1.4 3 0.9 3.3 0.6 12.5 0.7 6.2 1.1 21.4 7.6 11.5 3.6 4 1.8 2.3 1.9 4.2 5.5 0.1 1.7 -0.9 3.7 0.8 4 0.3 4.2 1.1 4.2ZM533.3 357.9l4.2-1.6 1.9-1.1 1.5-1.4 0.7-1.3 0.1-1.1 -0.4-0.8 -1.3-1.4 -1.9-1.1 -2.3-0.8 -2.9-0.5 -3.2-0.1 -4.3 0.9 -2.1 1 -1.5 1.4 -0.6 1.5 0.3 1.9 1.3 2.4 1.6 1.3 2.4 0.9 1.6 0.3 2.3 0Z" fill="#00cb30" class="k"/>
<path d="M489.4 455.9l48.1-32.8 -11.2-1.4 -10.3-1.7 -25.6-5.5 -6.7-2.4 -9.6-4.8 -2.4-1.4 -1.7-1.9 -0.5-1.1 -0.1-2.6 0.5-1.9 3-7 1.5-7.6 1.6-4.3 0.2-1.3 -0.4-0.9 -0.9-0.7 -1.4-0.4 -3.7-0.4 -10.1 0.5 -5.5 1 -10 2.7 -5.8 0.8 -10.1-0.3 -1.8-0.3 -2.6-0.9 -1.4-1.4 -0.7-1.7 -1.8-16.9 0.4-2.9 2.6-4.3 0.5-3.3 -36.4 14.5ZM630.3 359.9l52.1-35.4 -106.5-36.3 -36.6 14.5 3.2 3.2 3.4 2.5 4.1 2.4 4.2 1.8 6.3 1.5 13 1 5.8 1.2 15.8 5.7 17.5 5.8 3.1 1.3 2.8 1.5 4.1 3.4 3.1 3.3 1 1.7 0 1.1 -1.7 2.7 -0.1 2.1 2.5 8.7ZM532.1 356.3l3.5-1 1.9-1.2 0.8-0.9 0.3-1.2 -0.3-0.9 -0.6-0.8 -3-1.5 -3.8-0.4 -3.1 0.5 -2.1 1 -0.7 0.7 -0.5 0.9 0 1.4 0.5 1.1 1.1 1.2 2.2 1 1.6 0.2Z" fill="#00f604" class="j"/>
<path d="M489.4 455.9l44.2-30.1 -9.1-1.5 -11-2.2 -25.6-6.3 -4.8-1.8 -11.1-5.5 -2.4-1.5 -0.9-0.9 -1.2-2.1 -0.2-2.6 0.6-2.6 2.8-5.7 1.3-4.2 1.6-8.2 0-1.2 -0.3-1 -0.9-0.7 -1.2-0.5 -3.7-0.4 -6.5 0.4 -5.6 0.9 -11.8 3.1 -3.9 0.6 -7.5-0.1 -8 0.6 -1.6-0.4 -2.1-1.1 -1.4-1.4 -0.7-1.7 0-7.9 -1.3-12.9 0.3-1.4 1.8-3.3 0.6-2 -32.7 13ZM634.5 357.1l47.9-32.6 -106.5-36.3 -33.8 13.4 3 3.2 2.2 1.7 3.3 2 4.1 1.7 6.3 1.5 12.6 1.2 5.5 1.1 17.6 6.3 19.3 6.6 6 2.8 4.7 3.6 2 2.2 1 1.7 1 3.2 -1.7 2.5 -0.2 0.7 0.1 1.2 2.3 6.3ZM532 354.3l2.3-0.8 0.7-0.7 -0.1-1 -0.6-0.7 -1.3-0.5 -2.2-0.1 -1.4 0.4 -0.9 0.6 -0.4 0.8 0.2 0.8 0.7 0.7 1.1 0.4Z" fill="#00fc00" class="k"/>
<path d="M489.4 455.9l40.5-27.6 -19.2-4.3 -24.8-6.9 -4.9-1.9 -11.6-5.2 -2.3-1.6 -1.4-2 -0.7-2.4 -0.1-1.3 0.7-3 3.6-7.4 1-2.9 1.3-7.7 -0.1-1.1 -0.4-0.9 -0.8-0.8 -1.2-0.5 -2.4-0.3 -6.3 0.4 -3.6 0.7 -13.7 3.5 -4.5 0.5 -6.5-0.1 -7.3 1.6 -3-0.1 -3.7-1.5 -2.1-2.2 -0.9-2.7 0.7-10.8 -0.2-3.6 -1-7.3 1.6-4.8 -29 11.6ZM638.3 354.5l44.1-30 -106.5-36.3 -31.2 12.4 2.9 3.2 2.1 1.7 2.7 1.6 3.3 1.3 6.2 1.5 13.1 1.4 5.6 1.2 16.3 6 22.3 7.6 6.1 2.7 4.1 2.9 2.4 3.1 0.8 1.8 0.9 8.9 1.9 4.2Z" fill="#00fe00" class="j"/>
<path d="M489.4 455.9l37-25.2 -14.6-3.7 -17.4-5.2 -10.7-3.5 -9.5-3.7 -6.9-2 -2.5-1.5 -0.9-1 -1-2.2 -0.5-2.5 0.1-2.7 0.9-3.2 3.7-7 1.2-3.2 1-6.5 -0.5-2 -0.7-0.8 -1.3-0.5 -1.9-0.2 -5.1 0.5 -15.3 4.1 -4.2 0.7 -8.1 0.6 -7.5 1.5 -4.9-0.2 -2.8-0.8 -2.1-1.2 -2-2.2 -0.7-1.8 -0.3-1.9 1.3-11.2 -0.2-4.3 -0.9-5.6 0.7-4.4 -25.7 10.2ZM642.1 351.9l40.3-27.4 -106.5-36.3 -28.8 11.4 4.3 4.6 1.8 1.2 3.1 1.3 6.1 1.6 12.8 1.4 5.6 1.2 18.1 6.6 24.4 8.3 4.1 1.8 5 3.4 1.9 2.2 1 2.9 0 3.8 3.8 7.3Z" fill="#21ff00" class="k"/>
<path d="M489.4 455.9l33.6-22.9 -18.9-5.7 -29.1-10.2 -3.6-0.9 -6.1-1 -1.9-0.4 -1.4-0.7 -0.9-1 -1-2.3 -0.6-3.8 0.1-2.8 0.3-1.9 1-2.8 3.9-7.2 1.1-3 0.8-4 0.1-2 -0.5-1.3 -0.8-0.7 -1.5-0.4 -2.7 0.1 -3.4 0.8 -6.3 2.2 -3.5 0.9 -19.4 3.3 -4.1 0.5 -2.5 0.1 -4-0.4 -2.9-0.8 -3-1.6ZM646 349.3l36.4-24.8 -106.5-36.3 -26.6 10.6 4 4.6 1.9 1.1 2.3 1 5 1.3 14 1.6 5.4 1.2 11.1 4.1 32.2 11.1 4.2 1.6 5.8 4.1 2 2 0.8 1.7 1.4 5.8ZM410.5 384.4l0.6 0.5 -1.1-1.3 -0.8-1.8 -0.4-2.8 2-13.2 -0.1-2.6 -0.8-5.7 0.1-3.3 -22.9 9.1Z" fill="#6eff00" class="j"/>
<path d="M489.4 455.9l30.4-20.7 -16.7-5.5 -26.8-10.2 -4.8-1.3 -9.4-1.2 -3-1.3 -1-0.9 -1.2-2.2 -0.4-2.6 0-4.3 1-4.4 4.8-10.1 0.8-5.3 -0.6-2 -1.3-0.5 -1 0.2 -8 2.7 -13.9 2 -9.7 1.8 -6.5 0.6 -5.1-0.3ZM649.8 346.7l32.6-22.2 -106.5-36.3 -24.6 9.8 1.3 1.3 2 2.9 1.7 1.2 2.3 1 4.9 1.3 12.9 1.3 6.6 1.4 9.9 3.8 33.9 11.6 5.2 2.1 6.7 4.6 2 1.9 0.6 1 0.9 3 0.5 0.9 3.2 3.8ZM405.1 379.6l0.8 0.7 0.2-3.1 2-8.5 0.4-2.9 0-2.6 -1-8 -20.4 8.1Z" fill="#baff00" class="k"/>
<path d="M489.4 455.9l27.1-18.5 -16.2-6 -24.3-10.2 -5.1-1.2 -9.6-1.1 -3.3-1 -1.4-0.8 -1.1-0.8 -1.5-2.1 -0.7-2.5 -0.1-2.7 0.1-2.8 0.6-3 3.8-9.7 0.1-2.4 -0.6-1 -1-0.7 -3.8-0.4 -6.1 0.1 -8.3 1.1 -11.2 2 -7.3 0.4ZM653.5 344.2l28.9-19.7 -106.5-36.3 -22.8 9.1 1.7 1.7 1.3 2.6 1.1 0.8 2.2 1 5 1.3 11.9 0.9 6.7 1.4 4.6 1.5 7.1 2.8 32.5 11.3 6.2 2.5 8 4.9 2.4 1.9ZM402.9 377.6l0.3 0.3 2.6-9.5 0.5-3.1 0-2.9 -1.1-6.3 -18.1 7.2Z" fill="#fffc00" class="j"/>
<path d="M489.4 455.9l23.9-16.3 -15.6-6.4 -23.8-10.7 -3.7-0.9 -7.3-0.5 -4.2-0.7 -3.3-1.1 -2.5-1.6 -0.9-0.9 -1.4-2.2 -0.9-3.7 0-2.8 0.3-2.8 2.5-6.5 0.7-2.9 -0.4-2.3 -0.7-0.9 -1.2-0.6 -3.4-0.7 -5 0.1 -16.5 2.6 -4.4 0.4ZM656.6 342l25.8-17.5 -106.5-36.3 -21.2 8.4 2.1 2.2 0.7 2.2 1 0.9 1.5 0.6 5.1 1.2 12.4 0.7 5.4 1.1 6.4 2.2 7.1 2.8 20.9 7.1 15.4 5.9 4.8 2.4 9 5.5 5.2 5.2ZM400.8 375.6l0.2 0.2 2-6 1.1-4.8 0-3.4 -1.1-4.6 -15.9 6.3Z" fill="#ffe200" class="k"/>
<path d="M489.4 455.9l20.7-14.1 -13.7-6 -23.1-11.4 -3.6-1 -7.4-0.4 -4.6-0.7 -3.4-0.9 -4-2.2 -2.7-3 -1-2.2 -0.5-2.5 -0.1-2.7 0.3-2.9 2.6-7.8 -0.1-1.2 -0.4-1.1 -0.8-0.8 -2.8-1 -4.7-0.1 -16.4 2.5ZM659.1 340.3l23.3-15.8 -106.5-36.3 -19.5 7.7 1.9 2.3 0.5 2.3 0.4 0.4 1.4 0.8 5.2 1 11.5 0.5 4.5 0.7 10 3.4 7.1 2.8 21 7.1 12.1 4.7 7.7 3.7 8.2 4.9ZM398.6 373.7l0.3 0.3 1.7-4.4 1.4-5.5 -0.1-2.5 -1.2-3.7 -13.6 5.4Z" fill="#ffc800" class="j"/>
<path d="M489.4 455.9l17.4-11.9 -11.7-5.5 -22.9-11.8 -3.6-1.1 -9.4-0.9 -5.4-1ZM661.2 338.9l21.2-14.4 -106.5-36.3 -17.8 7.1 1.9 2.2 0.8 2.8 1.3 0.7 4.5 0.7 11 0.4 4 0.5 12.5 4.4 6.1 2.4 7.1 2.2 6.6 2.5 7.4 2.3 12 4.7 7.6 3.8 7.4 4.2ZM441.5 412.5l0.9 0.8 -0.5-3.8 0.3-2.8 2-7.3 -0.2-1.3 -0.8-0.9 -1.4-0.5 -3.3-0.1 -12.6 1.8ZM396.5 371.8l0.4 0.4 1.8-4.3 0.9-3.7 0-1.7 -1.2-3.7 -11.3 4.5Z" fill="#ffad00" class="k"/>
<path d="M489.4 455.9l14.1-9.6 -11.5-5.8 -16.5-9.1 -4.6-2.2 -4.1-1.2 -9.5-1.2ZM663.1 337.6l19.3-13.1 -106.5-36.3 -16 6.3 2 2.2 1.5 2.5 1.2 0.8 3.2 0.6 10.7 0.7 4.4 0.7 18.6 6.8 7.9 2.5 25.3 9.1 6.6 3.2 6.4 3.7 9.6 6.7ZM436.8 408.2l0.4 0.4 0.1-4.6 -0.1-1.2 -0.5-1 -1.2-0.7 -2-0.2 -4.6 0.2ZM394.4 369.9l0.6 0.5 1.2-3 0.8-3 -0.1-1.8 -1-2.8 -8.8 3.5Z" fill="#ff9300" class="j"/>
<path d="M489.4 455.9l10.6-7.2 -27.7-15.4 -5-2 -6.6-1.4ZM664.9 336.4l17.5-11.9 -106.5-36.3 -14.1 5.6 3.8 3.9 1.9 1.1 2.9 0.7 10.7 1.3 4 1 18.4 6.8 33.5 11.4 8.3 4.4 12.5 8ZM392.4 368.1l0.5 0.4 1-3.7 0-1.7 -0.7-2.2 -6.1 2.4Z" fill="#ff7800" class="k"/>
<path d="M489.4 455.9l7.1-4.8 -23.1-13.3 -7.8-3.5ZM666.7 335.2l15.7-10.7 -106.5-36.3 -12.1 4.8 3.7 3.3 2.6 1.4 2.7 0.8 9.5 1.7 4 1 7.4 3 12.8 4.5 32.7 11 6.6 3.3 13.4 8.5ZM390.4 366.3l0.2-1.9 -0.4-2.3 -3.1 1.2Z" fill="#ff6100" class="j"/>
<path d="M489.4 455.9l3.4-2.3 -16.9-10 1.1 1ZM668.6 333.8l13.8-9.3 -106.5-36.3 -10.1 4 4.1 3.1 3.3 1.7 14.3 3.7 8.2 3.3 18.9 6.4 7.7 2.8 19.1 6.3 5.8 2.7 6.8 4.5 3.8 2.1Z" fill="#ff4f00" class="k"/>
<path d="M670.8 332.3l11.6-7.8 -106.5-36.3 -8 3.2 4.8 3.3 4.3 2 11.9 3.4 8.2 3.3 18.8 6.3 7.7 2.9 21.1 6.9 4.9 2.3 5 3.6 2.6 1.5Z" fill="#ff3e00" class="j"/>
<path d="M673.2 330.7l9.2-6.2 -106.5-36.3 -5.9 2.3 5 3.3 5 2.3 10.5 3.2 8.2 3.3 18.8 6.3 19.7 7.1 10 3.1 5.9 2.7 3.4 3 2.1 1.3Z" fill="#ff2c00" class="k"/>
<path d="M675.8 329l6.6-4.5 -106.5-36.3 -3.6 1.4 4.4 2.9 7.2 3.2 9.5 3.1 7.3 2.9 19.7 6.6 18.1 7 8 2.2 5.5 1.8 4.8 2.4 2.5 2.8 0.9 0.5 2.4 0.8 8.1 1.7Z" fill="#ff1a00" class="j"/>
<path d="M678.6 327l3.8-2.5 -106.5-36.3 -1.2 0.5 4.4 2.8 8.9 3.7 9.4 3.1 5.7 2.3 20.5 6.8 18 7.1 13.4 4.1 4 1.7 5.6 3.1 7.9 1.7Z" fill="#ff0900" class="k"/>
<path fill="#fff" fill-rule="evenodd" d="M385.1 286.2H684.4V457.9H385.1ZM470.5 422.9L399.8 363.3L576.5 291.4L671.7 324.5L603.5 367.8L586.5 361.1L526.6 398.2L519.5 393.4 Z"/>
<text transform="translate(450.0 357.5) rotate(-45)" y="1.8" font-size="4.9" text-anchor="middle" class="cl">0.14</text>
<text transform="translate(453.8 369.3) rotate(10)" y="1.9" font-size="5.2" text-anchor="middle" class="cl">0.16</text>
<text transform="translate(456.0 373.6) rotate(10)" y="1.9" font-size="5.3" text-anchor="middle" class="cl">0.18</text>
<text transform="translate(494.2 342.5) rotate(10)" y="1.6" font-size="4.6" text-anchor="middle" class="cl">0.14</text>
<text transform="translate(511.7 345.0) rotate(-20)" y="1.7" font-size="4.6" text-anchor="middle" class="cl">0.16</text>
<text transform="translate(520.0 349.2) rotate(-40)" y="1.7" font-size="4.7" text-anchor="middle" class="cl">0.18</text>
<text transform="translate(537.5 338.3) rotate(-20)" y="1.6" font-size="4.5" text-anchor="middle" class="cl">0.16</text>
<text transform="translate(565.8 351.7) rotate(-10)" y="1.7" font-size="4.8" text-anchor="middle" class="cl">0.16</text>
<text transform="translate(541.7 365.0) rotate(-50)" y="1.8" font-size="5.1" text-anchor="middle" class="cl">0.14</text>
<text transform="translate(505.8 398.3) rotate(-20)" y="2.1" font-size="5.8" text-anchor="middle" class="cl">0.14</text>
<text transform="translate(482.5 390.0) rotate(-55)" y="2.0" font-size="5.6" text-anchor="middle" class="cl">0.16</text>
<text transform="translate(614.2 313.8) rotate(20)" y="1.4" font-size="4.0" text-anchor="middle" class="cl">0.3</text>
<text transform="translate(618.3 336.3) rotate(70)" y="1.6" font-size="4.5" text-anchor="middle" class="cl">0.2</text>
<text transform="translate(603.3 343.0) rotate(65)" y="1.7" font-size="4.6" text-anchor="middle" class="cl">0.18</text>
<text transform="translate(636.0 323.5) rotate(40)" y="1.5" font-size="4.2" text-anchor="middle" class="cl">0.28</text>
<text transform="translate(633.0 326.5) rotate(40)" y="1.5" font-size="4.2" text-anchor="middle" class="cl">0.26</text>
<text transform="translate(630.0 329.0) rotate(40)" y="1.5" font-size="4.3" text-anchor="middle" class="cl">0.24</text>
<text transform="translate(627.0 331.5) rotate(45)" y="1.6" font-size="4.3" text-anchor="middle" class="cl">0.22</text>
</g>
<path d="M399.8 363.3L491.8 442.5L671.7 324.5" fill="none" stroke="#999" stroke-width="0.5"/>
<path d="M491.8 442.5L494.8 445.1" stroke="#aaa" stroke-width="0.5"/>
<text transform="translate(498.4 448.4) rotate(-38)" y="3.0" font-size="8.3" text-anchor="middle" class="tk">0</text>
<path d="M522.2 422.6L525.2 424.9" stroke="#aaa" stroke-width="0.5"/>
<text transform="translate(528.6 428.1) rotate(-37)" y="2.7" font-size="7.5" text-anchor="middle" class="tk">10</text>
<path d="M548.8 405.1L551.9 407.1" stroke="#aaa" stroke-width="0.5"/>
<text transform="translate(555.1 410.2) rotate(-36)" y="2.5" font-size="6.8" text-anchor="middle" class="tk">20</text>
<path d="M572.4 389.6L575.5 391.4" stroke="#aaa" stroke-width="0.5"/>
<text transform="translate(578.6 394.4) rotate(-35)" y="2.3" font-size="6.3" text-anchor="middle" class="tk">30</text>
<path d="M593.4 375.8L596.5 377.4" stroke="#aaa" stroke-width="0.5"/>
<text transform="translate(599.4 380.3) rotate(-34)" y="2.1" font-size="5.8" text-anchor="middle" class="tk">40</text>
<path d="M612.3 363.5L615.3 364.9" stroke="#aaa" stroke-width="0.5"/>
<text transform="translate(618.1 367.7) rotate(-32)" y="1.9" font-size="5.3" text-anchor="middle" class="tk">50</text>
<path d="M629.3 352.3L632.3 353.6" stroke="#aaa" stroke-width="0.5"/>
<text transform="translate(635.0 356.3) rotate(-31)" y="1.8" font-size="4.9" text-anchor="middle" class="tk">60</text>
<path d="M644.8 342.2L647.7 343.3" stroke="#aaa" stroke-width="0.5"/>
<text transform="translate(650.3 346.0) rotate(-30)" y="1.7" font-size="4.6" text-anchor="middle" class="tk">70</text>
<path d="M658.8 332.9L661.7 334.0" stroke="#aaa" stroke-width="0.5"/>
<text transform="translate(664.2 336.6) rotate(-29)" y="1.5" font-size="4.3" text-anchor="middle" class="tk">80</text>
<path d="M671.7 324.5L674.5 325.5" stroke="#aaa" stroke-width="0.5"/>
<text transform="translate(676.9 328.0) rotate(-28)" y="1.4" font-size="4.0" text-anchor="middle" class="tk">90</text>
<path d="M491.8 442.5L487.9 445.1" stroke="#aaa" stroke-width="0.5"/>
<text transform="translate(484.9 446.0) rotate(-28)" y="3.0" font-size="8.3" text-anchor="middle" class="tk">0</text>
<path d="M468.5 422.5L464.7 424.7" stroke="#aaa" stroke-width="0.5"/>
<text transform="translate(460.6 427.7) rotate(-28)" y="2.8" font-size="7.6" text-anchor="middle" class="tk">10</text>
<path d="M448.2 404.9L444.4 406.9" stroke="#aaa" stroke-width="0.5"/>
<text transform="translate(440.7 410.1) rotate(-28)" y="2.6" font-size="7.1" text-anchor="middle" class="tk">20</text>
<path d="M430.2 389.4L426.5 391.2" stroke="#aaa" stroke-width="0.5"/>
<text transform="translate(423.1 394.5) rotate(-28)" y="2.4" font-size="6.6" text-anchor="middle" class="tk">30</text>
<path d="M414.1 375.6L410.6 377.2" stroke="#aaa" stroke-width="0.5"/>
<text transform="translate(407.4 380.7) rotate(-28)" y="2.2" font-size="6.2" text-anchor="middle" class="tk">40</text>
<path d="M399.8 363.3L396.3 364.7" stroke="#aaa" stroke-width="0.5"/>
<text transform="translate(393.4 368.3) rotate(-28)" y="2.1" font-size="5.8" text-anchor="middle" class="tk">50</text>
<rect x="685.3" y="464.55" width="14.8" height="8.65" fill="#925dff"/>
<rect x="685.3" y="456.21" width="14.8" height="8.65" fill="#774cff"/>
<rect x="685.3" y="447.86" width="14.8" height="8.65" fill="#5b3aff"/>
<rect x="685.3" y="439.51" width="14.8" height="8.65" fill="#3f28ff"/>
<rect x="685.3" y="431.17" width="14.8" height="8.65" fill="#2417ff"/>
<rect x="685.3" y="422.82" width="14.8" height="8.65" fill="#0805ff"/>
<rect x="685.3" y="414.47" width="14.8" height="8.65" fill="#001ee0"/>
<rect x="685.3" y="406.13" width="14.8" height="8.65" fill="#0049b4"/>
<rect x="685.3" y="397.78" width="14.8" height="8.65" fill="#007488"/>
<rect x="685.3" y="389.43" width="14.8" height="8.65" fill="#009f5c"/>
<rect x="685.3" y="381.09" width="14.8" height="8.65" fill="#00cb30"/>
<rect x="685.3" y="372.74" width="14.8" height="8.65" fill="#00f604"/>
<rect x="685.3" y="364.39" width="14.8" height="8.65" fill="#00fc00"/>
<rect x="685.3" y="356.05" width="14.8" height="8.65" fill="#00fe00"/>
<rect x="685.3" y="347.70" width="14.8" height="8.65" fill="#21ff00"/>
<rect x="685.3" y="339.36" width="14.8" height="8.65" fill="#6eff00"/>
<rect x="685.3" y="331.01" width="14.8" height="8.65" fill="#baff00"/>
<rect x="685.3" y="322.66" width="14.8" height="8.65" fill="#fffc00"/>
<rect x="685.3" y="314.32" width="14.8" height="8.65" fill="#ffe200"/>
<rect x="685.3" y="305.97" width="14.8" height="8.65" fill="#ffc800"/>
<rect x="685.3" y="297.62" width="14.8" height="8.65" fill="#ffad00"/>
<rect x="685.3" y="289.28" width="14.8" height="8.65" fill="#ff9300"/>
<rect x="685.3" y="280.93" width="14.8" height="8.65" fill="#ff7800"/>
<rect x="685.3" y="272.58" width="14.8" height="8.65" fill="#ff6100"/>
<rect x="685.3" y="264.24" width="14.8" height="8.65" fill="#ff4f00"/>
<rect x="685.3" y="255.89" width="14.8" height="8.65" fill="#ff3e00"/>
<rect x="685.3" y="247.54" width="14.8" height="8.65" fill="#ff2c00"/>
<rect x="685.3" y="239.20" width="14.8" height="8.65" fill="#ff1a00"/>
<rect x="685.3" y="230.85" width="14.8" height="8.65" fill="#ff0900"/>
<path d="M685.3 456.21H700.1M685.3 439.51H700.1M685.3 422.82H700.1M685.3 406.13H700.1M685.3 389.43H700.1M685.3 372.74H700.1M685.3 356.05H700.1M685.3 339.36H700.1M685.3 322.66H700.1M685.3 305.97H700.1M685.3 289.28H700.1M685.3 272.58H700.1M685.3 255.89H700.1M685.3 239.20H700.1" stroke="#000" stroke-opacity="0.4" stroke-width="0.4"/>
<path d="M685.3 464.55H700.1M685.3 447.86H700.1M685.3 431.17H700.1M685.3 414.47H700.1M685.3 397.78H700.1M685.3 381.09H700.1M685.3 364.39H700.1M685.3 347.70H700.1M685.3 331.01H700.1M685.3 314.32H700.1M685.3 297.62H700.1M685.3 280.93H700.1M685.3 264.24H700.1M685.3 247.54H700.1" stroke="#000" stroke-opacity="0.12" stroke-width="0.4"/>
<text x="703.2" y="476.7" font-size="10.5" class="cbl">0.1</text>
<text x="703.2" y="460.0" font-size="10.5" class="cbl">0.12</text>
<text x="703.2" y="443.3" font-size="10.5" class="cbl">0.14</text>
<text x="703.2" y="426.6" font-size="10.5" class="cbl">0.16</text>
<text x="703.2" y="409.9" font-size="10.5" class="cbl">0.18</text>
<text x="703.2" y="393.2" font-size="10.5" class="cbl">0.2</text>
<text x="703.2" y="376.5" font-size="10.5" class="cbl">0.22</text>
<text x="703.2" y="359.8" font-size="10.5" class="cbl">0.24</text>
<text x="703.2" y="343.1" font-size="10.5" class="cbl">0.26</text>
<text x="703.2" y="326.4" font-size="10.5" class="cbl">0.28</text>
<text x="703.2" y="309.7" font-size="10.5" class="cbl">0.3</text>
<text x="703.2" y="293.1" font-size="10.5" class="cbl">0.32</text>
<text x="703.2" y="276.4" font-size="10.5" class="cbl">0.34</text>
<text x="703.2" y="259.7" font-size="10.5" class="cbl">0.36</text>
<text x="703.2" y="243.0" font-size="10.5" class="cbl">0.38</text>
<text x="393.0" y="267.0" class="ti">OptDeg(RH<tspan dy="2.7" font-size="9">05:00 – 2.2 m</tspan><tspan dy="-2.7">)</tspan></text>
<text x="646.0" y="253.0" class="le">(<tspan font-weight="bold">d</tspan>)</text>
<g>
<polygon points="96.5,696.7 17.5,630.7 212.7,552.1 316.7,588.9 242.8,637.1 225.2,630.3 158.6,669.8 150.8,664.6" fill="#8f5bff"/>
<path d="M124.6 727.5l146.8-99.9 53.2-36.2 -20.3-9.1 -36.2-14.2 -52.9-18.4 -5.2-0.3 -62 24.3 -7.9 4.3 -5.7 2.6 -4.5 1.4 -6.9 1.6 -98.1 38.6 -0.3 1.9 0.5 2.6 2.2 3.9 2.1 7.1 1.3 2.2 1.4 1.8 4.2 3.6 11.5 7.4 6.6 5.4 9.4 7.1 7.8 7 6.6 6.8 12.4 10.5 3.1 3.2 7.2 9.8 7.3 8.7 8.4 8.8Z" fill="#6c45ff" class="j"/>
<path d="M128.9 724.6l171.9-117 21.8-14.8 -19.3-8.8 -54.7-20.8 -28.6-9.4 -6.6-1.3 -5.9 0 -4.6 0.6 -5.3 1.1 -28.3 11.2 -3.9 2.3 -19.7 10.4 -9.1 4.5 -4.6 1.4 -17 4.1 -21.9 7.3 -50.1 19.7 -3.5 2.2 -1.7 2.1 -0.4 1.4 0.3 1.8 1.2 2.3 0.1 0.9 -0.2 1 -2.2 4.8 -0.7 3.3 0.4 2.9 0.9 1.8 1.1 1.6 3.2 2.9 9.5 6 6.4 5.4 7.4 5.2 3 2.5 7 7.4 6.1 7 14.6 12.4 9.7 11.8 9 9.6 7.7 7.2Z" fill="#492fff" class="k"/>
<path d="M133.1 721.8l167.7-114.2 19.8-13.4 -7.8-4 -9.1-4.1 -21.3-7.4 -12.7-5 -26.3-9.7 -24.5-7.1 -6.6-0.9 -6.2 0.1 -4.9 0.6 -9.4 1.9 -7.6 2.2 -5.6 2.5 -9.3 5.4 -8.3 4 -22.7 11.7 -4.5 1.5 -10.6 2.5 -7.5 2.1 -29.5 10.7 -15.5 7.5 -8.5 5.9 -9 4.6 -2.3 1.6 -6.7 8.8 -2 3.7 -0.5 1.8 0 1.5 0.5 1.8 1 1.7 3.2 3 7.3 4.6 7.2 6.1 8.6 5.9 1.8 1.8 5.6 6.6 4.5 6.2 1.8 2 14.8 12.3 11.4 12.4 8.3 8.1 8 6.9Z" fill="#2618ff" class="j"/>
<path d="M137.2 719l21.2-14.4 160.1-109 -7.5-4.2 -8-3.6 -24.4-8 -12.6-5.1 -27.7-9.9 -12.9-3.5 -9.1-1.8 -7.1-0.6 -7.9 0.5 -8.8 1.4 -6.6 2 -4.7 2.2 -9 4.9 -7.6 3.6 -24.5 12.7 -5.7 2 -10.6 2.5 -6.2 1.9 -8.4 3.1 -15.6 6.3 -3.4 1.7 -17.8 10.4 -15.2 9.7 -6.7 5.3 -2.8 3.3 -1.1 2.8 0.1 2.3 1.5 2.6 2.6 2.1 5.2 3.3 7.1 6.1 7.7 4.9 2 1.6 7.4 9.7 3.5 5.3 2.7 3 13.8 11.2 13.4 13 6.2 5.6 8.3 6.6Z" fill="#0302ff" class="k"/>
<path d="M141.2 716.2l159.6-108.6 15.4-10.4 -8.4-5.1 -6.7-3.2 -25.3-7.6 -14.7-6 -27-9.4 -11.2-2.7 -8.8-1.4 -7.7-0.3 -8.9 0.6 -6.2 1.4 -6.9 2.8 -15.5 7.5 -18 9.3 -5.9 3.6 -3.9 1.9 -4.6 1.6 -12 2.9 -6.3 2 -8.6 3.1 -8.2 3.5 -5.5 2.9 -8.1 5.5 -11.8 6.4 -10.8 6.5 -8.5 5.5 -3.4 2.7 -1.7 2.3 -0.8 2.2 0.4 2 1.1 1.7 1.6 1.4 5.1 3.3 5.9 5.4 7.8 4.8 3 2.4 6.8 9.9 3.3 5.4 2.6 3 17.5 14 9.4 8.4 6.4 5.3 10 7.4Z" fill="#0031cd" class="j"/>
<path d="M145.2 713.5l155.6-105.9 13-8.8 -9.2-5.9 -5.6-2.6 -27-7.9 -15.9-6.4 -24.4-8.2 -9.2-2.1 -9-1.4 -7.8-0.3 -7.2 0.4 -4.4 1 -4.6 1.6 -14.4 6.4 -18.8 9.6 -9.1 5.7 -3.9 2 -4.7 1.6 -21.4 5.6 -5 1.7 -5.9 2.6 -5.4 2.9 -11.2 7.6 -15.7 8.5 -8.7 5.1 -6.2 4 -3.2 2.9 -0.8 1.2 -0.3 1.6 0.6 2 1.5 1.5 4.9 3.3 4.7 4.8 9 5.4 2.8 2.4 2 2.9 7.5 12.6 2.5 3.1 33.2 25.8 10.3 6.9Z" fill="#006796" class="k"/>
<path d="M149.3 710.7l151.5-103.1 10.4-7 -7.8-5.6 -5.6-2.8 -7.7-2.5 -20.6-5.9 -16.1-6.4 -21.1-6.6 -7.8-2.1 -8.8-1.5 -8.4-0.6 -7 0.4 -3.9 0.7 -5.1 1.4 -4.7 1.7 -6 2.6 -19.8 10 -10.5 6.9 -4.8 2.5 -6.1 1.9 -21 5 -7.4 2.8 -6.4 3.6 -13.4 8.9 -24.9 13.8 -4.9 3.2 -2 2 -0.7 1.4 0.1 1.1 1.1 1.6 4.6 3.5 4.7 4.7 8.9 5.4 2.7 2.5 2 2.8 2.7 5.3 5.1 8.6 2.7 3 11.7 9 20.1 14 12.2 7.5Z" fill="#009e5e" class="j"/>
<path d="M153.4 707.9l20.3-13.8 134.5-91.5 -7.1-5.8 -4.7-2.4 -13.8-4.9 -15.3-4.5 -11.9-4.8 -6.7-2.3 -22.4-5.9 -7.2-1.6 -10-1.1 -7.9 0.3 -5 0.8 -4.3 1.1 -7.4 2.9 -20.1 9.8 -11.1 7.6 -5.8 3 -7.7 2.3 -19 3.9 -6.2 2.3 -6.4 3.6 -10.2 6.9 -6.6 4.1 -21.4 11.9 -3.7 2.4 -2 1.8 -0.6 1.4 0.2 1 7.4 7.8 1.9 1.4 6.5 4.1 3.6 3.2 2 2.9 3.1 6.3 4.4 7.6 1.6 2.1 2.1 1.8 10.5 8.2 18.1 11.5 14.1 7.9Z" fill="#00d427" class="k"/>
<path d="M157.6 705.1l46.5-31.7 100.7-68.5 -6-5.6 -1.9-1.4 -3.4-1.7 -13-5.4 -13.8-4.4 -16.9-6.2 -8.5-2.3 -24-5.1 -8.9-0.9 -7.9 0.4 -4.8 0.8 -4.2 1.2 -21.5 9.9 -3.5 1.9 -10.3 7.1 -7 3.5 -4.8 1.7 -4.1 1 -17.2 2.9 -5 1.9 -6.3 3.6 -20.2 13.2 -16.3 9.2 -2.3 1.7 -2 2 -0.6 1.3 0.1 1.4 1.6 2.7 3.6 4 6.9 5 3.4 3.3 2.5 3.9 2.5 5.3 4.2 7.6 1.5 2.1 3.1 2.8 10.6 8.1 12.2 7.2 17.6 9Z" fill="#00fb00" class="j"/>
<path d="M160 701.4l2 0.7 139.1-94.6 -7.6-7.6 -3.9-2.5 -5.4-2.9 -8-3.5 -11.2-3.7 -13.8-4.9 -11.1-2.9 -21.5-3.9 -9.2-0.9 -7.9 0.3 -3.4 0.5 -4.2 1.3 -20.5 8.9 -3.5 1.9 -11.8 7.5 -5 2.6 -4.4 1.9 -3.7 1.2 -4.3 1 -14.6 2.2 -5.1 1.8 -7.5 4.3 -19.3 12.6 -11 6.5 -2.5 1.8 -2.2 2.1 -1 1.5 -0.3 1.2 0 1.1 1 2.2 1.7 2.2 5.9 5.5 3 3.4 2.5 3.9 3.1 6.5 3.4 6.4 2.4 3.1 3.1 2.8 8.1 6.4 8.5 4.9 22.1 10.3Z" fill="#00fd00" class="k"/>
<path d="M164.6 698.3l2.1 0.6 130.8-89 -8-8.6 -3.5-2.9 -7-4.4 -6.9-2.9 -21.6-7.3 -11.5-2.9 -9.6-1.5 -10.6-1.3 -6.5-0.4 -6.7 0.2 -4.1 0.5 -4.5 1.3 -18.6 7.4 -4.7 2.3 -15.7 8.7 -9.7 4.4 -5.4 1.6 -14.4 2.4 -5.2 1.8 -13.9 7.8 -19.7 12.8 -2.2 1.7 -1.9 1.9 -1.3 2.3 -0.2 1.2 0.1 1 0.8 1.9 5.1 7 3.7 5.7 7 13.9 3.2 4.1 3 2.8 5.7 4.5 3.9 2.6 7.6 3.8 22.7 9.2Z" fill="#21ff00" class="j"/>
<path d="M171.7 695.5l99.7-67.9 22.5-15.3 -8.8-10.8 -2.9-2.8 -5-3.6 -6.7-3.1 -18.2-6.1 -12.9-3.2 -7.2-1.2 -8.7-0.8 -6.1-0.2 -6.9 0.2 -4.2 0.5 -4.7 1.2 -20.7 7.7 -8.1 3.5 -19.3 9.5 -4.6 2 -4.1 1.2 -10.9 2.1 -6.8 2.1 -8.3 4 -5.8 3.1 -15.8 10.1 -3.3 2.5 -1.9 1.9 -1.1 2.5 0.4 2.5 11.2 23.3 2.2 4 2.5 3.4 1.8 2 3.2 2.7 7.3 5.3 7.9 3.6 25.6 9 10.1 3Z" fill="#82ff00" class="k"/>
<path d="M175 691.3l2.3 0.4 112.7-76.7 -2.6-4.3 -7.2-10 -4-3.8 -2.9-1.9 -3.2-1.6 -8.5-3.1 -13.8-4.1 -10.2-2.1 -8-0.9 -9.7-0.2 -7.7 0.7 -3.8 0.8 -4.5 1.3 -25 8.8 -11 4.4 -12.7 6.1 -4.8 1.9 -13 3.3 -6.6 2.4 -9.5 4.6 -16.5 9.3 -4.3 2.9 -2.4 2.2 -0.7 1.4 0.1 2.2 2.4 5.8 3.1 8.8 3.1 7.2 2.3 4.3 2.8 4.2 2.7 3 3.3 2.7 3.6 2.6 4.1 2.4 3.4 1.6 5.5 2 21.8 7 8.3 2.1Z" fill="#e2ff00" class="j"/>
<path d="M183.8 687.3l101.5-69.1 -3.9-9.1 -3.9-6.6 -2.6-3.6 -3.6-2.9 -5.1-2.6 -8-2.6 -11.6-3.1 -8.3-1.5 -6.8-0.8 -9 0.2 -7.2 1 -7.2 1.8 -11.9 4.2 -23.8 7.6 -5.8 2.2 -12.2 5.6 -11.1 3.2 -5.2 1.9 -8.2 4.1 -12.5 7.3 -9.2 4.4 -3.2 2.4 -0.6 1.2 0.1 1.6 1.8 3.9 2.8 12.3 1.2 3.3 1.7 3.1 4.1 6.3 1.8 1.9 3.2 2.7 6.3 4.1 4.3 2.3 5.1 2 14.1 4.9 6.4 1.8 8.4 1.9 7.7 1.3Z" fill="#ffe800" class="k"/>
<path d="M188.8 681.9l2.7 0.1 87.6-59.6 -0.6-4.5 -2.2-8.3 -3.4-7.3 -1.2-2.2 -1.6-1.9 -3-2.3 -4-1.9 -12-3.3 -5.7-1.2 -8.5-1.1 -6.3-0.2 -6.4 0.5 -6.9 1.2 -7.2 1.9 -28.5 9 -10.5 2.9 -13.8 5.8 -12.1 4 -9.1 4.6 -18.6 10.8 -3.2 2.4 -0.7 1.1 -0.2 1.4 0.1 6.3 0.7 6.3 0.8 3.4 1.5 3.2 2.6 4.1 2.4 2.9 3.1 2.7 8 4.5 7.9 3.3 9.1 4.3 7.1 2.5 6.3 1.6 7.5 1.3 10.2 1.1Z" fill="#ffc600" class="j"/>
<path d="M198.2 675.6l2.9-0.1 66.4-45.2 2.1-4.5 1.1-3.6 0.3-2.8 -0.1-3.9 -0.7-4.8 -1.1-4 -2.8-6.3 -1.9-2.4 -3.2-1.8 -3.9-1.2 -8.4-2 -6.9-0.9 -6.3-0.2 -8.5 0.5 -6 0.8 -6.6 1.4 -18.6 5.2 -13.3 4.5 -11.5 2.6 -13.1 5.4 -7.8 2.8 -5.9 2.8 -19.4 11.3 -2.2 1.6 -1.7 1.9 -1 2.4 -0.4 4.4 0.2 4.9 0.7 2.5 2 4.3 2.8 3.9 1.9 1.8 3.6 2.3 5.9 2.6 11.9 3.9 7.7 5 5.3 1.8 7.7 1.4 9.7 1 9.1 0.5Z" fill="#ffa500" class="k"/>
<path d="M210 667.6l3.4-0.5 33.5-22.8 3.1-7 8.9-14.4 1.3-2.8 0.9-3.1 0.5-4.7 -0.3-2.6 -0.5-2.1 -1.9-4 -1.3-1.7 -1.6-1.5 -3.4-1.6 -5.9-1.5 -5.5-0.6 -7-0.1 -6.7 0.4 -8 1 -7.9 1.5 -9.3 2.3 -14.8 4.8 -11.9 2.5 -4.2 1.1 -16.1 6.5 -5.8 2.9 -18 10.8 -3 2.5 -1 1.8 -0.6 2.7 0.1 3.7 0.9 3.4 0.9 2.1 2.1 2.9 1.7 1.7 3.4 2.3 2.9 1.3 4.9 1.6 12.7 3.2 10.9 4.5 3.5 1.1 6 1.3 8.7 1.2 7.4 0.6 8.2 0Z" fill="#ff8400" class="j"/>
<path d="M219.3 657.8l4.5-2.1 3.6-2.2 2.9-2.5 2.4-2.7 2.5-4.4 3.7-9.8 3.6-6.1 1.7-3.6 1.2-3.5 0.8-4.6 -0.1-2.6 -0.6-3.5 -1.2-3 -1.6-1.6 -2.1-1.1 -4.1-1.2 -5.2-0.6 -6.1-0.1 -7.3 0.6 -9.4 1.6 -15.8 4.4 -14 2.6 -7.2 1.8 -5.2 1.9 -6.2 2.6 -4.6 2.3 -4.3 2.6 -7.6 4.9 -3 2.3 -2.9 3 -1.1 1.8 -0.4 1.2 -0.1 1.5 0.4 2.3 1.6 3 1.4 1.9 1.9 1.6 2.3 1.5 2.8 1.2 3.2 1 5.7 1.1 12.2 1.8 18.4 6 8 1.6 7.3 0.4 5.5-0.4 6.1-1Z" fill="#ff6400" class="k"/>
<path d="M211.9 652.6l3.6-1.5 3.7-2.1 2-1.6 2.4-2.7 2.1-3.9 2.8-9.5 3.2-7.4 0.5-1.9 0.1-2.7 -0.8-3.4 -1.1-1.9 -1.6-1.6 -3.3-1.8 -4.7-1 -6.5 0.1 -4.4 0.6 -10.2 2.3 -15.5 1.5 -5.7 0.9 -4.4 1.1 -7.9 2.9 -8.1 4.2 -9.2 6.5 -1.7 1.8 -1.1 2.3 -0.3 1.3 0.3 2.4 1.8 2.9 3 2.3 2.6 1.3 3 1.1 16.6 3.3 15.3 4.4 5.9 1.2 4.6 0.3 4.4-0.1 4.1-0.5Z" fill="#ff4e00" class="j"/>
<path d="M204.9 647.4l4-1.3 3.6-2 2.5-2.6 1.1-2 0.8-2.1 2.3-9 0-4.1 -0.7-2.2 -1.4-1.8 -2-1.4 -1.3-0.5 -3.4-0.6 -8.5 0.2 -12.6-0.8 -6 0.3 -6.6 1.2 -6.7 2.3 -5.7 3.1 -6 4.5 -1.9 2.3 -0.8 1.6 -0.1 2.6 0.5 1 1.4 1.8 3.2 2.2 4.3 1.7 27.2 6 6.5 0.4Z" fill="#ff3700" class="k"/>
<path d="M199.4 641.7l4-1.3 1.1-0.7 1.7-1.7 1.5-3 0.5-2.2 0-2 -0.4-1.8 -0.8-1.6 -1.7-1.6 -2.5-1.2 -5.6-2 -4.6-1.2 -5.6-0.6 -5.1 0.3 -3.6 0.8 -4 1.5 -4.3 2.6 -2.5 2.4 -1.5 2.4 -0.3 1.4 0.1 1.2 1.1 2 2 1.5 4 1.8 6.7 1.7 9.5 1.5 5.3 0.3Z" fill="#ff2100" class="j"/>
<path d="M188.3 635.4l2.7-0.4 1.4-0.6 1.1-0.7 0.7-0.8 0.3-1 -0.1-1.3 -0.5-1 -1.1-1.2 -1.6-1.2 -2.6-1.1 -1.6-0.4 -1.9-0.2 -1.9 0.2 -2.8 1 -1.4 0.9 -1.3 1.4 -0.4 1 0 1.3 1.1 1.7 1 0.8 1.3 0.6 3.1 0.9Z" fill="#ff0b00" class="k"/>
<path fill="#fff" fill-rule="evenodd" d="M1.4 546.6H330.3V734.7H1.4ZM96.5 696.7L17.5 630.7L212.7 552.1L316.7 588.9L242.8 637.1L225.2 630.3L158.6 669.8L150.8 664.6 Z"/>
<text transform="translate(80.3 650.3) rotate(60)" y="2.0" font-size="5.4" text-anchor="middle" class="cl">0.11</text>
<text transform="translate(123.5 603.0) rotate(-20)" y="1.6" font-size="4.5" text-anchor="middle" class="cl">0.13</text>
<text transform="translate(112.7 617.3) rotate(-35)" y="1.7" font-size="4.8" text-anchor="middle" class="cl">0.15</text>
<text transform="translate(146.7 611.7) rotate(-20)" y="1.7" font-size="4.7" text-anchor="middle" class="cl">0.18</text>
<text transform="translate(194.2 608.7) rotate(-10)" y="1.7" font-size="4.6" text-anchor="middle" class="cl">0.21</text>
<text transform="translate(168.3 651.7) rotate(10)" y="2.0" font-size="5.5" text-anchor="middle" class="cl">0.21</text>
<text transform="translate(141.7 665.8) rotate(10)" y="2.1" font-size="5.7" text-anchor="middle" class="cl">0.19</text>
<text transform="translate(123.0 676.0) rotate(10)" y="2.1" font-size="6.0" text-anchor="middle" class="cl">0.15</text>
<text transform="translate(195.0 585.0) rotate(-15)" y="1.5" font-size="4.1" text-anchor="middle" class="cl">0.15</text>
<text transform="translate(200.0 573.3) rotate(-15)" y="1.4" font-size="3.9" text-anchor="middle" class="cl">0.13</text>
<text transform="translate(233.3 588.0) rotate(0)" y="1.5" font-size="4.2" text-anchor="middle" class="cl">0.18</text>
<text transform="translate(211.7 565.8) rotate(5)" y="1.3" font-size="3.7" text-anchor="middle" class="cl">0.09</text>
</g>
<path d="M17.5 630.7L119.6 718.0L316.7 588.9" fill="none" stroke="#999" stroke-width="0.5"/>
<path d="M119.6 718.0L122.9 720.8" stroke="#aaa" stroke-width="0.5"/>
<text transform="translate(126.4 723.8) rotate(-38)" y="3.0" font-size="8.3" text-anchor="middle" class="tk">0</text>
<path d="M153.0 696.1L156.4 698.6" stroke="#aaa" stroke-width="0.5"/>
<text transform="translate(159.7 701.5) rotate(-37)" y="2.7" font-size="7.5" text-anchor="middle" class="tk">10</text>
<path d="M182.3 676.9L185.7 679.1" stroke="#aaa" stroke-width="0.5"/>
<text transform="translate(188.8 681.9) rotate(-36)" y="2.5" font-size="6.8" text-anchor="middle" class="tk">20</text>
<path d="M208.2 660.0L211.5 661.9" stroke="#aaa" stroke-width="0.5"/>
<text transform="translate(214.5 664.6) rotate(-35)" y="2.2" font-size="6.2" text-anchor="middle" class="tk">30</text>
<path d="M231.2 644.9L234.5 646.6" stroke="#aaa" stroke-width="0.5"/>
<text transform="translate(237.4 649.2) rotate(-34)" y="2.1" font-size="5.7" text-anchor="middle" class="tk">40</text>
<path d="M251.9 631.4L255.1 632.9" stroke="#aaa" stroke-width="0.5"/>
<text transform="translate(257.9 635.5) rotate(-32)" y="1.9" font-size="5.3" text-anchor="middle" class="tk">50</text>
<path d="M270.5 619.2L273.7 620.6" stroke="#aaa" stroke-width="0.5"/>
<text transform="translate(276.3 623.0) rotate(-31)" y="1.8" font-size="4.9" text-anchor="middle" class="tk">60</text>
<path d="M287.3 608.1L290.5 609.4" stroke="#aaa" stroke-width="0.5"/>
<text transform="translate(293.0 611.8) rotate(-30)" y="1.6" font-size="4.6" text-anchor="middle" class="tk">70</text>
<path d="M302.7 598.1L305.8 599.3" stroke="#aaa" stroke-width="0.5"/>
<text transform="translate(308.2 601.6) rotate(-29)" y="1.5" font-size="4.3" text-anchor="middle" class="tk">80</text>
<path d="M316.7 588.9L319.7 590.0" stroke="#aaa" stroke-width="0.5"/>
<text transform="translate(322.1 592.2) rotate(-28)" y="1.4" font-size="4.0" text-anchor="middle" class="tk">90</text>
<path d="M119.6 718.0L115.3 720.8" stroke="#aaa" stroke-width="0.5"/>
<text transform="translate(112.4 721.3) rotate(-28)" y="3.0" font-size="8.3" text-anchor="middle" class="tk">0</text>
<path d="M93.9 696.0L89.6 698.5" stroke="#aaa" stroke-width="0.5"/>
<text transform="translate(85.8 701.1) rotate(-28)" y="2.8" font-size="7.7" text-anchor="middle" class="tk">10</text>
<path d="M71.3 676.7L67.1 678.9" stroke="#aaa" stroke-width="0.5"/>
<text transform="translate(63.7 681.7) rotate(-28)" y="2.6" font-size="7.1" text-anchor="middle" class="tk">20</text>
<path d="M51.3 659.6L47.3 661.5" stroke="#aaa" stroke-width="0.5"/>
<text transform="translate(44.1 664.6) rotate(-28)" y="2.4" font-size="6.6" text-anchor="middle" class="tk">30</text>
<path d="M33.5 644.4L29.5 646.1" stroke="#aaa" stroke-width="0.5"/>
<text transform="translate(26.6 649.3) rotate(-28)" y="2.2" font-size="6.2" text-anchor="middle" class="tk">40</text>
<path d="M17.5 630.7L13.7 632.2" stroke="#aaa" stroke-width="0.5"/>
<text transform="translate(11.0 635.6) rotate(-28)" y="2.1" font-size="5.8" text-anchor="middle" class="tk">50</text>
<rect x="334.8" y="724.89" width="13.5" height="10.01" fill="#8f5bff"/>
<rect x="334.8" y="715.18" width="13.5" height="10.01" fill="#6c45ff"/>
<rect x="334.8" y="705.47" width="13.5" height="10.01" fill="#492fff"/>
<rect x="334.8" y="695.77" width="13.5" height="10.01" fill="#2618ff"/>
<rect x="334.8" y="686.06" width="13.5" height="10.01" fill="#0302ff"/>
<rect x="334.8" y="676.35" width="13.5" height="10.01" fill="#0031cd"/>
<rect x="334.8" y="666.64" width="13.5" height="10.01" fill="#006796"/>
<rect x="334.8" y="656.93" width="13.5" height="10.01" fill="#009e5e"/>
<rect x="334.8" y="647.22" width="13.5" height="10.01" fill="#00d427"/>
<rect x="334.8" y="637.51" width="13.5" height="10.01" fill="#00fb00"/>
<rect x="334.8" y="627.80" width="13.5" height="10.01" fill="#00fd00"/>
<rect x="334.8" y="618.10" width="13.5" height="10.01" fill="#21ff00"/>
<rect x="334.8" y="608.39" width="13.5" height="10.01" fill="#82ff00"/>
<rect x="334.8" y="598.68" width="13.5" height="10.01" fill="#e2ff00"/>
<rect x="334.8" y="588.97" width="13.5" height="10.01" fill="#ffe800"/>
<rect x="334.8" y="579.26" width="13.5" height="10.01" fill="#ffc600"/>
<rect x="334.8" y="569.55" width="13.5" height="10.01" fill="#ffa500"/>
<rect x="334.8" y="559.84" width="13.5" height="10.01" fill="#ff8400"/>
<rect x="334.8" y="550.13" width="13.5" height="10.01" fill="#ff6400"/>
<rect x="334.8" y="540.43" width="13.5" height="10.01" fill="#ff4e00"/>
<rect x="334.8" y="530.72" width="13.5" height="10.01" fill="#ff3700"/>
<rect x="334.8" y="521.01" width="13.5" height="10.01" fill="#ff2100"/>
<rect x="334.8" y="511.30" width="13.5" height="10.01" fill="#ff0b00"/>
<path d="M334.8 715.18H348.3M334.8 695.77H348.3M334.8 676.35H348.3M334.8 656.93H348.3M334.8 637.51H348.3M334.8 618.10H348.3M334.8 598.68H348.3M334.8 579.26H348.3M334.8 559.84H348.3M334.8 540.43H348.3M334.8 521.01H348.3" stroke="#000" stroke-opacity="0.4" stroke-width="0.4"/>
<path d="M334.8 724.89H348.3M334.8 705.47H348.3M334.8 686.06H348.3M334.8 666.64H348.3M334.8 647.22H348.3M334.8 627.80H348.3M334.8 608.39H348.3M334.8 588.97H348.3M334.8 569.55H348.3M334.8 550.13H348.3M334.8 530.72H348.3" stroke="#000" stroke-opacity="0.12" stroke-width="0.4"/>
<text x="351.6" y="738.6" font-size="11.0" class="cbl">0.03</text>
<text x="351.6" y="719.1" font-size="11.0" class="cbl">0.05</text>
<text x="351.6" y="699.7" font-size="11.0" class="cbl">0.07</text>
<text x="351.6" y="680.3" font-size="11.0" class="cbl">0.09</text>
<text x="351.6" y="660.9" font-size="11.0" class="cbl">0.11</text>
<text x="351.6" y="641.5" font-size="11.0" class="cbl">0.13</text>
<text x="351.6" y="622.1" font-size="11.0" class="cbl">0.15</text>
<text x="351.6" y="602.6" font-size="11.0" class="cbl">0.17</text>
<text x="351.6" y="583.2" font-size="11.0" class="cbl">0.19</text>
<text x="351.6" y="563.8" font-size="11.0" class="cbl">0.21</text>
<text x="351.6" y="544.4" font-size="11.0" class="cbl">0.23</text>
<text x="351.6" y="525.0" font-size="11.0" class="cbl">0.25</text>
<text x="15.5" y="532.0" class="ti">OptDeg(T<tspan dy="2.7" font-size="9">05:00 – 1.4 m</tspan><tspan dy="-2.7">)</tspan></text>
<text x="304.5" y="535.0" class="le">(<tspan font-weight="bold">e</tspan>)</text>
<text transform="translate(34.5 689.5) rotate(45.0)" y="4.7" font-size="15.8" text-anchor="middle" class="ax">Width (m)</text>
<text transform="translate(236.5 671.5) rotate(-27.5)" y="4.7" font-size="15.6" text-anchor="middle" class="ax">Length (m)</text>
<g>
<polygon points="469.3,704.9 396.6,644.0 576.5,571.3 673.0,605.7 602.8,649.8 586.5,642.8 526.6,679.6 519.9,675.3" fill="#8c59ff"/>
<path d="M495.2 733.2l106.1-71.7 79.9-54 -20.3-8.7 -25.2-9.9 -55-19.2 -6.2 0 -2.8 0.4 -3.7 1 -7.5 3 -13.2 6.1 -15.5 6 -11.9 5.5 -9.8 5.7 -3.5 1.7 -4.4 1.2 -18.8 4.2 -78.2 30.9 -2 3.4 -0.5 2.7 0.8 2.4 2.1 2.7 18.3 18.1 44 39.1 15.7 17.8Z" fill="#6440ff" class="j"/>
<path d="M499.2 730.5l177.1-119.7 2-1.4 -13.8-6.3 -15.7-6.4 -23.7-9 -26-9.1 -7.3-2.2 -6.1-1.4 -4.9-0.5 -4.8 0.1 -5.8 0.9 -5.5 1.3 -14.2 5.3 -8.8 2.9 -8.3 3.2 -9.9 4.4 -10.5 6.2 -3.5 1.7 -6.2 1.8 -14.1 3.2 -6.9 2.1 -30 11.9 -17.7 4.9 -6.7 2.3 -6.2 2.7 -5.4 3.5 -2.5 2.5 -1.4 2.2 -0.5 2 0.3 2.5 1.1 2.2 2.4 3.6 10.1 12.6 3.6 3.8 13.9 13.3 18.7 17.3 9.6 8.3 14.3 15.1Z" fill="#3c26ff" class="k"/>
<path d="M503.1 727.9l98.2-66.4 74.1-50.1 -8.2-4.3 -16.9-7.2 -20.3-7.9 -14.8-5.1 -17.6-5.5 -8.1-2 -7.1-1 -8.7 0.1 -4.5 0.6 -4.8 1.1 -19.4 6.1 -18.8 7.6 -9.8 5.8 -4.4 2 -5.3 1.8 -14.3 3.6 -5.8 1.8 -10.7 4.3 -21.1 9.1 -5.2 1.7 -12.8 3.3 -5.4 1.8 -4.9 2.3 -4.2 3 -1.6 1.8 -1.2 2.3 -0.2 1.5 0.5 2.5 1.9 3.8 3.9 5.1 3.8 6.5 2.9 4 13.2 13.4 18.9 18.2 9.6 8.3 9.4 9.2 6.9 6.3Z" fill="#140dff" class="j"/>
<path d="M505.5 724.3l1.5 1 165.3-111.8 -10-5.6 -11.4-5.2 -14.3-5.9 -19.3-6.9 -12.2-3.7 -13.6-3.4 -9.5-1.5 -7.2-0.1 -5.5 0.8 -5.3 1.1 -14.1 3.9 -21 8.1 -9.1 5.4 -5.4 2.4 -25.6 8.2 -13 5.3 -16.4 7.6 -4.8 1.9 -14.5 3.7 -4.2 1.3 -4.9 2.3 -3.1 2.2 -1.6 1.9 -0.9 2 -0.1 1.8 0.4 1.7 1.2 2.3 3.8 5 3.5 7.7 2.9 4 11.3 12 20.4 20.3 21 18.1Z" fill="#001fdf" class="k"/>
<path d="M510.8 722.7l90.5-61.2 67.9-45.9 -11.6-7 -8-4 -15.3-6.5 -15.6-5.4 -15.6-4.7 -12.2-2.8 -10.1-1.1 -8.9 0.2 -6.9 1.1 -6.9 1.7 -20.8 7.2 -6.1 2.6 -7 4 -4.5 2 -8 3.1 -15.4 5.2 -14.2 5.5 -8.8 3.8 -16.6 8.1 -4.2 1.2 -12.2 2.7 -4 1.5 -3.3 2.1 -1.5 1.5 -0.8 1.4 -0.3 1.8 0.4 1.7 0.8 1.5 3.3 4.3 2.9 7.7 1.7 3.1 1.5 2 7.9 8.8 10.8 10.9 7.6 8.3 6.9 6.4 18.7 14.8 9.3 6.7Z" fill="#005e9f" class="j"/>
<path d="M514.7 720.1l66.5-45 84.9-57.4 -7.9-5.5 -8.9-5.3 -14.2-6.4 -9.3-3.5 -19.3-5.8 -12.2-3 -10.1-1.4 -6.9-0.4 -4.3 0.2 -6 0.8 -6.2 1.5 -19.4 6.5 -5.3 2.2 -12.8 6.2 -22 8.1 -20.9 8.3 -7.7 3.5 -14.3 7.3 -4.2 1.3 -11.1 2.2 -4 1.5 -2.2 1.4 -1.5 2 -0.3 1.2 0.1 0.9 0.8 1.5 1.7 2.1 1.4 2.3 2.8 8.3 1.6 3.1 8.9 10.6 9.9 10 7.3 8.4 6.7 6.5 8 6.2 15.7 10.6Z" fill="#009c60" class="k"/>
<path d="M518.6 717.4l82.7-55.9 61.6-41.6 -9.5-7.5 -6.3-4.2 -11-5.2 -9.3-3.7 -18.8-5.5 -13.5-3.3 -6.2-1.1 -5.4-0.5 -9.2-0.1 -4.9 0.7 -5.2 1.2 -18.8 6.2 -17.7 7.9 -21 7.7 -24.2 9.7 -7.8 3.6 -10.7 5.8 -3.6 1.7 -4.2 1.3 -11.1 2.3 -3.7 1.8 -0.8 0.9 -0.3 0.9 0.1 0.9 3.4 5.2 2.8 8.9 1.7 3.5 7.5 9 9.7 10 8.9 10.4 5.8 5.5 5.9 4.3 17.9 10.8Z" fill="#00db20" class="j"/>
<path d="M522.7 714.7l78.6-53.2 58.5-39.5 -4.5-3.5 -5.6-5.4 -4.6-3.6 -7.9-4 -9.2-3.9 -10-3.2 -23.2-5.7 -11.6-1.6 -4.4-0.3 -3.9 0.2 -5.3 0.8 -5.2 1.2 -17.2 5.8 -16.2 7 -21.2 7.7 -24.2 9.7 -10.1 4.6 -13.1 7.2 -3.9 1.5 -8.8 2.6 -2.4 1.3 -0.6 1.1 0.2 1.6 1.7 5 1.8 7.5 1.2 2.7 6.5 8.3 8.6 9.2 10.4 12.1 6 5.5 3.6 2.5 20.1 10.9Z" fill="#00fb00" class="k"/>
<path d="M525.2 711.1l1.7 0.7 129.9-87.8 -6-5.1 -5.5-6.1 -3.2-2.7 -6.8-3.5 -8.2-3.5 -10.2-3.2 -21.7-4.9 -11.6-1.6 -3.8-0.2 -4.5 0.2 -8 1.6 -12.9 3.9 -21.4 8.7 -17.3 6 -8.7 3.3 -25.7 10.9 -6.6 3.3 -8.4 5.1 -8.8 3.9 -2.2 1.4 -0.9 0.9 -0.5 1.1 -0.2 2.3 1.5 8.6 1.4 3.8 4.5 6.8 18.7 21.4 6 5.4 3.8 2.4 22.4 11Z" fill="#00fe00" class="j"/>
<path d="M531.4 708.8l10.6-7.2 111.7-75.5 -6.3-6.2 -5.4-6.2 -2.9-2.8 -5.7-3.2 -7.2-3.1 -5.5-1.9 -5.9-1.7 -17.2-3.4 -12.5-1.6 -8.5 0 -7.1 1.4 -12.4 3.4 -23 9.1 -16.8 5.5 -12.1 4.7 -15.6 6.7 -9.9 4.9 -3.1 1.8 -7.9 5.7 -4.8 3 -1.5 1.3 -0.6 1 -0.6 2.6 0.2 6.4 0.5 3.6 1.7 4.4 1.7 2.6 8.4 10.6 8.4 9 7.4 6 5.2 3.1 19.8 9.1Z" fill="#59ff00" class="k"/>
<path d="M536.3 705.5l65-44 48.9-33 -10.3-12.4 -2.8-2.9 -4-3.2 -6.8-3.5 -8.9-3 -11.2-2.5 -13-1.7 -6.2-0.4 -5.1 0 -4.2 0.4 -5 0.8 -12.4 2.9 -9.1 3.1 -16 6.2 -18.5 5.8 -10 3.9 -12.1 5.4 -8.3 4.6 -4.9 3.3 -6.4 5.7 -3.6 4.2 -1.6 3.3 -1 5.5 0 3.8 0.8 3.2 1.5 2.7 6.3 9.1 3.2 3.5 4.7 4.2 8.6 5.2 3.1 2.7 3.7 2.4 7.1 3.6 9.4 4.1 9.7 3.8Z" fill="#c8ff00" class="j"/>
<path d="M541.6 701.9l104.2-70.5 -4.3-7.2 -4.8-6.6 -2.3-2.8 -4.6-3.9 -5.7-3.1 -6.6-2.4 -9-2.1 -10.1-1.2 -9.5-0.4 -6 0.5 -14.5 2.1 -7.1 1.5 -6.5 1.9 -7.3 2.5 -11.1 4.5 -14.4 4.1 -12.5 4.7 -8.7 4 -4 2.3 -3.8 3 -8.1 7.3 -3.3 3.4 -2.4 3.8 -1.3 3.8 -1.3 6.8 0.4 2.7 1.3 3.3 3.9 6.3 2.2 2.7 2.7 2.5 2.2 1.5 9.9 4.3 2.2 1.6 2.8 2.9 2.1 1.8 6.6 3.8 6 2.8 6.4 2.6 8.4 2.9Z" fill="#ffec00" class="k"/>
<path d="M545.7 697.3l2 0.4 92.3-62.4 -4.9-12.1 -3-5.2 -2.8-3.6 -3.8-3.2 -4.8-2.6 -5.7-1.9 -6.7-1.3 -7.5-0.7 -8.7-0.2 -6 0.5 -12.4 1.6 -9.1 1.5 -8.3 2 -6.5 2.1 -12.2 4.9 -17.2 5 -5.7 2.2 -6.4 3 -4 2.2 -2.6 2 -1.9 2.5 -2.5 4.7 -6.9 4.9 -1.6 1.7 -1.2 2.2 -2.1 7.2 -0.4 4.2 1 4 2.2 4.1 3 3.5 3.2 2.2 2.8 1.2 7.8 2.5 2.5 1.4 3.6 4.2 2.6 2.5 2.3 1.7 3.9 2.4 4.4 2.1 6.5 2.5 7.1 2.2Z" fill="#ffc600" class="j"/>
<path d="M555 692.8l77.6-52.5 -3.1-9 -1-6.8 -1.1-3.7 -2.3-4.9 -2.4-2.5 -3.9-2.6 -3.3-1.3 -5.3-1.2 -7.7-0.7 -6.8-0.1 -6.9 0.5 -25 3.3 -4.8 0.9 -4.6 1.3 -15.2 6.3 -17.7 5 -4.4 1.8 -4.1 2.2 -2.8 1.8 -2.4 2.1 -1.1 1.7 -1.5 4 -1.1 1.9 -1.6 1.6 -5 3.5 -0.8 0.9 -1 2 -1.6 6 -0.2 2.5 0.7 3.2 2.1 3.8 2.4 2.5 2.2 1.4 2.7 1.2 7.9 2.3 4.1 1.8 1.8 1.8 2.6 4.3 1.6 2.1 2 1.8 3.8 2.3 6.1 2.6 6.6 2.1 7.8 1.7Z" fill="#ff9f00" class="k"/>
<path d="M562.2 686.2l2.4 0.1 56.8-38.4 0.1-2.8 -0.2-2.9 -2.6-7.9 0.2-8 -0.4-4.2 -1.6-4.1 -0.8-1.4 -1.4-1.4 -2.9-1.6 -3.6-1.1 -4.4-0.7 -5.1-0.2 -8.1 0.3 -15 2 -10.6 0.5 -5.4 0.6 -4.6 1.4 -8.2 4.4 -4.2 1.7 -14.5 3.7 -4.8 1.6 -3.2 1.6 -2.9 1.7 -2.4 2.1 -1.3 1.6 -3.8 6.3 -4.6 6.3 -1.2 3.1 -0.3 2.4 0.3 2.2 0.7 2.1 2 2.6 1.8 1.5 2.3 1.3 10 3.6 3.8 1.9 2.9 2.6 3.2 5.3 1.6 2 2.3 1.7 2.6 1.4 4.7 1.8 5.4 1.4 6.8 1.2Z" fill="#ff7900" class="j"/>
<path d="M577.6 675.9l3.7-0.9 19.1-12.9 1.3-2.8 1-4.1 0.5-5.3 1.2-6.9 0.1-4.9 -0.5-7.4 -0.6-3.3 -1.2-2.8 -2-2.2 -2.5-1.9 -2.2-1 -2.6-0.7 -4.9-0.5 -2.2 0.1 -8.1 1.6 -4.8 0.4 -3.8-0.3 -4.3-0.8 -4 0.1 -2 0.7 -6.6 3.3 -3.3 1.3 -7.6 2.2 -8.6 1.7 -6 2.2 -3 1.7 -2.6 2 -2.1 2.3 -2.9 4.3 -2 4.1 -0.7 3.8 0.6 3.2 1.8 2.6 2.8 2.2 2.4 1.2 13.8 4 2.8 1.1 1.1 0.7 1.9 1.7 2.2 4.4 0.7 1 2.2 1.6 2.8 1.3 3.2 1.1 7.7 1.4 9.3 0.4Z" fill="#ff5900" class="k"/>
<path d="M575 663.4l3.9-1.6 2.1-1.4 1.8-1.5 1.9-2.6 1.5-3.9 1.1-8.4 1.4-6.5 0-2.7 -0.6-2 -1.2-1.7 -1.7-1.3 -2.1-1.2 -2.5-0.8 -3.2-0.5 -16-1.1 -2.5 0.3 -18.8 3.9 -6.6 1.9 -4.2 2.1 -1.7 1.4 -2.3 2.2 -2.6 4 -0.4 1.5 0.1 2 1.1 2.9 2.2 2.3 3.4 1.9 4.3 1.3 14.7 3.3 3.8 1.8 6 3.4 4.6 1.5 6.2 0.5 2.9-0.2Z" fill="#ff4000" class="j"/>
<path d="M565.7 652.2l1.4-0.5 1.8-1.5 1.5-2.7 1.2-4.9 1.4-1.5 3.3-2.6 -0.3-1.2 -1.9-1.3 -8.2-2.4 -7.6-1.5 -5.4-0.4 -3.9 0.2 -6 1.1 -5 1.7 -2 1.1 -1.7 1.4 -1.3 1.6 -0.8 1.6 -0.5 2.5 0.6 2 2.3 2.3 3.6 1.6 4.6 1.2 16.9 2.4 3.2 0.1Z" fill="#ff2600" class="k"/>
<path d="M554.7 645.8l2.3-0.8 1.1-0.6 1-1.1 0.7-1.4 0-1.4 -1-1.8 -2.8-2 -4.3-1 -4.7 0.2 -4.1 1.5 -1.7 1.3 -0.6 0.8 -0.5 1.2 0.1 1.1 0.5 0.9 0.7 0.8 2 1.2 2.8 0.9 3.5 0.5Z" fill="#ff0d00" class="j"/>
<path fill="#fff" fill-rule="evenodd" d="M381.6 566.0H685.8V739.6H381.6ZM469.3 704.9L396.6 644.0L576.5 571.3L673.0 605.7L602.8 649.8L586.5 642.8L526.6 679.6L519.9 675.3 Z"/>
<text transform="translate(437.8 644.2) rotate(-60)" y="1.8" font-size="5.1" text-anchor="middle" class="cl">0.09</text>
<text transform="translate(451.2 658.3) rotate(-70)" y="1.9" font-size="5.4" text-anchor="middle" class="cl">0.11</text>
<text transform="translate(477.5 633.0) rotate(-35)" y="1.7" font-size="4.8" text-anchor="middle" class="cl">0.13</text>
<text transform="translate(498.5 628.3) rotate(-30)" y="1.7" font-size="4.7" text-anchor="middle" class="cl">0.15</text>
<text transform="translate(507.0 614.7) rotate(-20)" y="1.6" font-size="4.4" text-anchor="middle" class="cl">0.11</text>
<text transform="translate(516.3 606.3) rotate(-20)" y="1.5" font-size="4.3" text-anchor="middle" class="cl">0.09</text>
<text transform="translate(522.5 624.2) rotate(-20)" y="1.7" font-size="4.6" text-anchor="middle" class="cl">0.17</text>
<text transform="translate(552.5 624.2) rotate(-5)" y="1.7" font-size="4.6" text-anchor="middle" class="cl">0.19</text>
<text transform="translate(546.7 634.7) rotate(0)" y="1.8" font-size="4.9" text-anchor="middle" class="cl">0.21</text>
<text transform="translate(538.3 662.5) rotate(5)" y="2.0" font-size="5.5" text-anchor="middle" class="cl">0.19</text>
<text transform="translate(520.0 672.5) rotate(10)" y="2.0" font-size="5.7" text-anchor="middle" class="cl">0.17</text>
<text transform="translate(504.0 680.0) rotate(10)" y="2.1" font-size="5.8" text-anchor="middle" class="cl">0.15</text>
<text transform="translate(493.5 685.8) rotate(10)" y="2.1" font-size="6.0" text-anchor="middle" class="cl">0.13</text>
<text transform="translate(555.0 601.7) rotate(-15)" y="1.5" font-size="4.1" text-anchor="middle" class="cl">0.13</text>
<text transform="translate(575.8 603.3) rotate(-5)" y="1.5" font-size="4.2" text-anchor="middle" class="cl">0.15</text>
<text transform="translate(579.5 590.8) rotate(0)" y="1.4" font-size="3.9" text-anchor="middle" class="cl">0.11</text>
<text transform="translate(581.0 586.5) rotate(0)" y="1.4" font-size="3.8" text-anchor="middle" class="cl">0.09</text>
<text transform="translate(609.2 608.3) rotate(5)" y="1.5" font-size="4.3" text-anchor="middle" class="cl">0.17</text>
<text transform="translate(633.3 605.8) rotate(25)" y="1.5" font-size="4.2" text-anchor="middle" class="cl">0.13</text>
</g>
<path d="M396.6 644.0L491.1 724.2L673.0 605.7" fill="none" stroke="#999" stroke-width="0.5"/>
<path d="M491.1 724.2L494.2 726.8" stroke="#aaa" stroke-width="0.5"/>
<text transform="translate(497.7 730.1) rotate(-38)" y="3.0" font-size="8.3" text-anchor="middle" class="tk">0</text>
<path d="M521.6 704.3L524.7 706.6" stroke="#aaa" stroke-width="0.5"/>
<text transform="translate(528.1 709.8) rotate(-37)" y="2.7" font-size="7.5" text-anchor="middle" class="tk">10</text>
<path d="M548.5 686.8L551.6 688.8" stroke="#aaa" stroke-width="0.5"/>
<text transform="translate(554.8 691.9) rotate(-36)" y="2.5" font-size="6.9" text-anchor="middle" class="tk">20</text>
<path d="M572.3 671.3L575.4 673.1" stroke="#aaa" stroke-width="0.5"/>
<text transform="translate(578.5 676.1) rotate(-35)" y="2.3" font-size="6.3" text-anchor="middle" class="tk">30</text>
<path d="M593.6 657.4L596.6 659.0" stroke="#aaa" stroke-width="0.5"/>
<text transform="translate(599.6 661.9) rotate(-34)" y="2.1" font-size="5.8" text-anchor="middle" class="tk">40</text>
<path d="M612.7 645.0L615.7 646.4" stroke="#aaa" stroke-width="0.5"/>
<text transform="translate(618.5 649.2) rotate(-32)" y="1.9" font-size="5.4" text-anchor="middle" class="tk">50</text>
<path d="M630.0 633.7L632.9 635.1" stroke="#aaa" stroke-width="0.5"/>
<text transform="translate(635.7 637.8) rotate(-31)" y="1.8" font-size="5.0" text-anchor="middle" class="tk">60</text>
<path d="M645.6 623.5L648.6 624.7" stroke="#aaa" stroke-width="0.5"/>
<text transform="translate(651.2 627.4) rotate(-30)" y="1.7" font-size="4.6" text-anchor="middle" class="tk">70</text>
<path d="M659.9 614.2L662.8 615.3" stroke="#aaa" stroke-width="0.5"/>
<text transform="translate(665.3 617.9) rotate(-29)" y="1.6" font-size="4.3" text-anchor="middle" class="tk">80</text>
<path d="M673.0 605.7L675.8 606.7" stroke="#aaa" stroke-width="0.5"/>
<text transform="translate(678.3 609.2) rotate(-28)" y="1.5" font-size="4.1" text-anchor="middle" class="tk">90</text>
<path d="M491.1 724.2L487.2 726.8" stroke="#aaa" stroke-width="0.5"/>
<text transform="translate(484.1 727.7) rotate(-28)" y="3.0" font-size="8.3" text-anchor="middle" class="tk">0</text>
<path d="M467.4 704.1L463.5 706.3" stroke="#aaa" stroke-width="0.5"/>
<text transform="translate(459.4 709.3) rotate(-28)" y="2.8" font-size="7.7" text-anchor="middle" class="tk">10</text>
<path d="M446.5 686.4L442.7 688.3" stroke="#aaa" stroke-width="0.5"/>
<text transform="translate(439.0 691.5) rotate(-28)" y="2.6" font-size="7.1" text-anchor="middle" class="tk">20</text>
<path d="M428.0 670.6L424.3 672.4" stroke="#aaa" stroke-width="0.5"/>
<text transform="translate(420.9 675.8) rotate(-28)" y="2.4" font-size="6.6" text-anchor="middle" class="tk">30</text>
<path d="M411.5 656.6L407.8 658.2" stroke="#aaa" stroke-width="0.5"/>
<text transform="translate(404.7 661.7) rotate(-28)" y="2.2" font-size="6.2" text-anchor="middle" class="tk">40</text>
<path d="M396.6 644.0L393.1 645.4" stroke="#aaa" stroke-width="0.5"/>
<text transform="translate(390.1 649.0) rotate(-28)" y="2.1" font-size="5.8" text-anchor="middle" class="tk">50</text>
<rect x="684.7" y="736.41" width="15.4" height="12.39" fill="#8c59ff"/>
<rect x="684.7" y="724.32" width="15.4" height="12.39" fill="#6440ff"/>
<rect x="684.7" y="712.23" width="15.4" height="12.39" fill="#3c26ff"/>
<rect x="684.7" y="700.14" width="15.4" height="12.39" fill="#140dff"/>
<rect x="684.7" y="688.05" width="15.4" height="12.39" fill="#001fdf"/>
<rect x="684.7" y="675.96" width="15.4" height="12.39" fill="#005e9f"/>
<rect x="684.7" y="663.87" width="15.4" height="12.39" fill="#009c60"/>
<rect x="684.7" y="651.78" width="15.4" height="12.39" fill="#00db20"/>
<rect x="684.7" y="639.69" width="15.4" height="12.39" fill="#00fb00"/>
<rect x="684.7" y="627.60" width="15.4" height="12.39" fill="#00fe00"/>
<rect x="684.7" y="615.51" width="15.4" height="12.39" fill="#59ff00"/>
<rect x="684.7" y="603.42" width="15.4" height="12.39" fill="#c8ff00"/>
<rect x="684.7" y="591.33" width="15.4" height="12.39" fill="#ffec00"/>
<rect x="684.7" y="579.24" width="15.4" height="12.39" fill="#ffc600"/>
<rect x="684.7" y="567.15" width="15.4" height="12.39" fill="#ff9f00"/>
<rect x="684.7" y="555.06" width="15.4" height="12.39" fill="#ff7900"/>
<rect x="684.7" y="542.97" width="15.4" height="12.39" fill="#ff5900"/>
<rect x="684.7" y="530.88" width="15.4" height="12.39" fill="#ff4000"/>
<rect x="684.7" y="518.79" width="15.4" height="12.39" fill="#ff2600"/>
<rect x="684.7" y="506.70" width="15.4" height="12.39" fill="#ff0d00"/>
<path d="M684.7 724.32H700.1M684.7 700.14H700.1M684.7 675.96H700.1M684.7 651.78H700.1M684.7 627.60H700.1M684.7 603.42H700.1M684.7 579.24H700.1M684.7 555.06H700.1M684.7 530.88H700.1" stroke="#000" stroke-opacity="0.4" stroke-width="0.4"/>
<path d="M684.7 736.41H700.1M684.7 712.23H700.1M684.7 688.05H700.1M684.7 663.87H700.1M684.7 639.69H700.1M684.7 615.51H700.1M684.7 591.33H700.1M684.7 567.15H700.1M684.7 542.97H700.1M684.7 518.79H700.1" stroke="#000" stroke-opacity="0.12" stroke-width="0.4"/>
<text x="703.3" y="752.8" font-size="12.0" class="cbl">0.03</text>
<text x="703.3" y="728.6" font-size="12.0" class="cbl">0.05</text>
<text x="703.3" y="704.5" font-size="12.0" class="cbl">0.07</text>
<text x="703.3" y="680.3" font-size="12.0" class="cbl">0.09</text>
<text x="703.3" y="656.1" font-size="12.0" class="cbl">0.11</text>
<text x="703.3" y="631.9" font-size="12.0" class="cbl">0.13</text>
<text x="703.3" y="607.7" font-size="12.0" class="cbl">0.15</text>
<text x="703.3" y="583.6" font-size="12.0" class="cbl">0.17</text>
<text x="703.3" y="559.4" font-size="12.0" class="cbl">0.19</text>
<text x="703.3" y="535.2" font-size="12.0" class="cbl">0.21</text>
<text x="398.0" y="528.5" class="ti">OptDeg(T<tspan dy="2.7" font-size="9">05:00 – 2.2 m</tspan><tspan dy="-2.7">)</tspan></text>
<text x="646.0" y="533.0" class="le">(<tspan font-weight="bold">f</tspan>)</text>
<text transform="translate(413.5 698.5) rotate(44.0)" y="4.7" font-size="15.8" text-anchor="middle" class="ax">Width (m)</text>
<text transform="translate(602.5 679.5) rotate(-32.0)" y="4.6" font-size="15.4" text-anchor="middle" class="ax">Length (m)</text>
</svg>
</body></html>
